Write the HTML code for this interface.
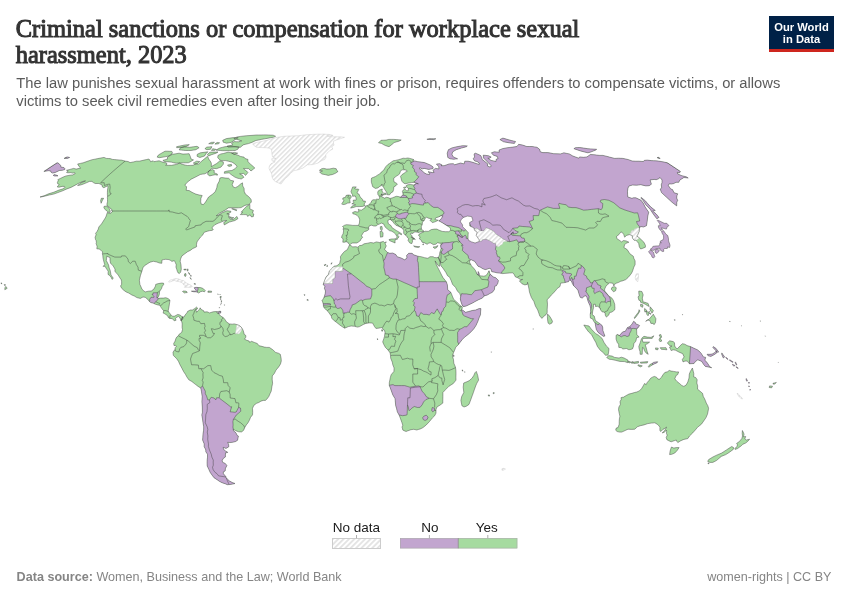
<!DOCTYPE html>
<html><head><meta charset="utf-8"><title>Criminal sanctions or compensation for workplace sexual harassment, 2023</title>
<style>
html,body{margin:0;padding:0;background:#fff;}
body{width:850px;height:600px;position:relative;overflow:hidden;}
svg text{font-family:"Liberation Sans", Arial, sans-serif;} svg text.ser{font-family:"Liberation Serif", "Times New Roman", serif;}
</style></head><body>
<svg width="850" height="600" viewBox="0 0 850 600" style="position:absolute;left:0;top:0">
<defs>
<pattern id="hatch" patternUnits="userSpaceOnUse" width="3.3" height="3.3" patternTransform="rotate(45)">
<rect width="3.3" height="3.3" fill="#fff"/><rect x="0" y="0" width="1.4" height="3.3" fill="#e0e0e0"/></pattern>
<clipPath id="land"><path d="M66.5,170.3L70.1,169.4L73.6,168.4L76.2,169.1L80.7,168.0L79.1,166.6L78.1,164.8L77.6,164.0L80.4,163.4L83.2,162.8L88.2,161.0L92.1,159.7L94.9,159.2L97.7,158.6L100.9,158.0L104.0,157.4L105.2,157.9L106.3,158.4L108.3,158.5L110.2,158.6L112.4,159.4L114.6,159.6L116.8,159.8L119.1,160.0L121.4,160.1L123.3,160.6L125.1,161.1L128.1,161.5L130.1,162.6L133.5,161.9L136.3,161.2L139.3,161.2L144.0,160.1L146.4,159.6L148.9,159.0L149.7,159.9L150.6,161.7L153.2,160.8L154.0,161.7L156.5,161.2L159.1,160.8L161.5,161.7L164.0,162.6L166.3,162.8L167.0,164.1L165.6,165.3L168.6,165.3L171.6,165.3L174.2,164.8L176.7,164.4L179.7,163.0L180.8,163.7L182.4,164.3L184.0,164.8L185.7,165.2L187.4,165.5L190.2,165.4L193.0,165.3L196.1,163.7L198.1,164.4L201.3,161.5L204.5,158.8L207.6,156.2L208.4,158.2L209.3,159.9L210.9,162.1L211.4,163.7L211.3,166.6L216.7,163.5L219.9,160.8L221.6,161.4L223.3,161.9L223.4,164.1L221.0,167.1L216.4,168.7L214.1,168.4L211.9,168.2L208.5,171.7L204.9,173.8L202.6,174.1L200.3,174.5L196.0,176.8L191.2,179.2L187.2,182.3L184.8,185.2L186.6,186.7L186.2,190.3L189.2,190.6L192.0,192.3L193.9,193.2L195.8,194.1L199.2,195.0L202.2,195.5L200.9,198.3L200.7,201.8L201.2,204.1L203.4,204.6L205.5,202.1L208.6,197.0L212.4,194.3L215.2,191.8L216.8,187.7L217.3,184.7L219.3,181.1L219.9,178.0L221.8,177.5L225.2,178.0L228.7,178.3L230.8,180.4L233.7,180.9L232.2,184.7L233.5,187.2L235.3,187.7L237.8,186.4L240.6,184.0L242.5,182.8L242.7,185.9L244.1,188.4L244.2,191.3L245.4,194.1L247.9,196.0L249.8,197.8L251.2,199.8L251.3,202.3L248.4,204.6L244.9,205.4L241.1,207.6L238.5,207.8L236.0,207.9L232.0,207.6L228.3,207.9L225.5,209.9L222.2,211.7L219.4,213.3L216.2,215.8L218.6,215.1L222.1,212.8L226.9,210.7L230.8,211.2L230.8,212.2L228.6,213.5L226.8,213.8L229.2,214.0L228.6,216.6L229.2,217.9L230.2,219.2L233.3,219.5L236.9,216.4L237.9,218.7L235.0,220.5L232.2,221.3L229.3,222.1L224.3,224.9L223.7,222.6L226.7,220.5L224.1,220.8L221.9,221.8L218.5,223.1L214.9,224.7L212.6,227.0L211.9,228.0L213.3,229.6L212.0,230.4L209.8,230.6L207.5,231.2L204.4,232.2L203.7,233.0L202.9,234.8L200.5,237.1L199.8,238.0L198.3,240.1L197.0,241.9L196.5,244.3L196.6,246.7L194.7,247.7L192.8,248.5L190.3,250.4L187.6,251.7L184.8,253.8L181.9,255.9L180.5,259.1L180.2,261.4L181.0,264.9L181.3,269.3L180.6,272.2L179.3,273.6L178.2,273.0L177.4,271.5L176.8,269.6L175.9,267.0L176.3,264.9L175.4,262.7L174.3,260.6L171.9,261.4L170.9,260.6L169.0,259.6L165.7,259.3L163.6,259.6L161.9,260.1L161.8,263.3L159.4,263.0L156.8,262.0L153.3,261.3L150.0,262.2L147.9,263.5L144.5,265.7L142.9,267.8L141.8,271.5L140.4,275.7L139.4,280.2L139.9,284.4L141.3,287.5L141.9,289.1L143.6,290.7L145.2,291.9L148.3,291.2L151.3,291.0L153.9,289.1L155.5,286.0L155.7,284.4L158.3,283.6L161.3,283.1L163.4,283.1L163.9,284.1L162.2,286.5L161.5,288.6L160.3,290.4L159.5,291.8L159.4,293.9L158.7,296.2L157.4,297.8L158.9,298.4L160.6,298.1L163.3,298.1L165.9,297.7L168.1,298.6L170.0,300.2L169.6,302.8L169.0,306.8L168.2,310.7L168.8,312.1L170.6,314.4L172.3,316.2L174.2,316.3L175.8,315.5L177.7,314.4L180.0,315.0L181.6,316.3L182.6,316.8L181.1,320.8L180.1,318.4L178.6,316.3L176.7,317.3L175.4,318.7L176.1,320.2L174.2,320.8L172.4,318.7L169.6,318.4L168.1,317.3L167.9,316.0L165.7,314.4L164.6,313.7L163.2,313.1L163.6,310.7L161.9,308.6L160.3,306.3L159.7,305.2L157.6,304.9L155.4,304.2L153.1,303.1L150.9,302.6L149.4,301.5L147.8,299.4L145.2,297.3L143.0,297.0L140.3,298.4L136.9,297.6L134.3,296.0L131.7,294.9L128.8,293.1L126.2,292.0L123.7,290.2L121.7,288.3L120.5,286.0L121.6,284.4L121.6,281.7L121.3,279.9L120.0,278.0L118.2,275.1L116.8,273.3L114.9,271.5L115.0,269.1L113.3,266.2L112.1,264.6L110.5,263.3L110.0,260.1L110.0,257.5L107.8,256.7L106.9,255.9L106.6,258.3L106.3,260.6L107.6,263.0L108.6,265.1L109.2,268.0L110.2,270.4L111.0,274.9L111.7,275.9L113.3,278.3L112.0,279.4L111.4,277.8L109.6,275.4L108.0,274.4L108.2,271.2L106.7,269.1L105.4,267.0L105.0,266.2L103.1,266.4L104.7,264.6L104.0,262.2L103.4,259.8L102.9,257.2L102.9,255.9L102.4,253.8L102.6,251.9L101.3,250.6L100.9,250.1L99.1,249.0L96.8,248.8L97.1,246.4L96.1,243.5L96.4,242.3L96.1,240.6L95.5,239.6L95.1,237.2L96.1,234.8L95.6,233.3L96.9,231.7L98.3,229.1L98.8,227.0L101.5,223.9L104.0,220.0L105.3,217.9L106.2,216.1L107.3,212.5L109.3,213.3L110.5,213.5L112.5,211.5L111.6,211.0L112.0,209.7L110.4,208.4L109.3,207.1L107.2,205.9L106.9,204.1L107.5,201.8L107.5,199.5L107.4,197.5L107.5,196.3L107.4,194.5L107.4,192.3L107.5,190.1L107.9,187.7L107.9,185.7L103.8,187.7L102.4,186.9L102.1,185.0L100.4,184.2L98.9,183.5L95.2,183.5L93.4,182.6L91.9,181.4L89.5,181.4L86.9,182.6L83.5,184.0L80.6,185.0L77.6,185.5L81.1,182.8L85.5,180.9L83.1,181.4L79.6,182.8L75.2,185.2L71.0,187.4L66.9,188.9L62.7,190.8L57.3,192.8L53.7,194.1L49.2,195.0L45.4,196.0L41.0,197.0L40.0,197.0L44.8,195.5L48.6,193.8L53.6,192.3L58.9,190.1L62.3,189.1L65.1,187.4L64.3,186.4L62.1,186.4L59.1,187.2L57.2,186.9L59.2,184.5L57.7,183.8L57.4,182.3L58.3,180.6L57.8,179.7L60.6,178.3L63.8,176.8L66.1,175.9L70.0,175.2L72.9,174.9L75.2,173.5L74.8,172.8L72.2,173.1L71.0,172.6L67.9,172.8L66.5,172.4L68.2,171.0ZM182.6,316.8L183.9,317.1L185.1,315.0L186.9,312.9L187.7,311.3L188.9,310.7L190.3,310.0L192.4,310.0L195.0,308.4L196.5,307.1L197.6,308.1L197.1,309.2L195.6,309.7L196.3,311.0L196.6,312.3L197.6,311.0L199.6,309.2L200.2,307.8L201.0,309.4L203.7,310.7L204.1,312.1L207.1,311.8L209.6,312.9L213.1,311.8L215.9,311.5L217.8,311.8L216.6,312.3L218.4,313.4L220.6,316.0L223.3,317.6L225.1,319.7L226.4,321.8L228.2,323.1L229.4,323.9L232.2,324.2L234.3,323.9L236.6,324.5L238.9,325.3L241.2,327.1L242.3,328.7L243.2,330.5L244.3,334.5L245.7,335.3L245.9,337.1L244.5,339.2L246.8,340.3L249.2,341.1L249.6,342.4L251.5,341.3L254.3,342.4L257.3,343.5L259.0,345.8L260.9,346.1L264.4,347.1L266.7,347.4L269.3,347.4L272.5,349.5L275.6,352.4L278.4,353.2L280.3,354.3L281.1,358.2L281.3,360.9L280.5,364.0L278.7,366.9L276.0,370.1L274.3,373.5L272.3,375.9L272.2,379.3L272.6,383.3L271.9,386.7L271.2,391.2L270.2,393.3L268.8,396.5L266.9,399.1L265.4,400.4L263.2,400.4L260.9,401.2L258.8,402.5L256.6,403.3L253.8,405.4L252.5,408.3L252.7,412.3L252.5,414.9L250.6,417.3L249.4,420.2L248.0,422.8L246.3,424.9L244.6,427.8L243.7,430.2L241.6,431.9L238.7,431.8L235.6,430.7L233.3,429.2L233.4,430.7L236.0,432.9L237.2,435.5L238.4,436.0L237.6,440.2L235.7,441.5L232.6,442.3L229.9,442.6L227.7,442.3L228.7,444.7L228.8,446.8L226.0,448.4L223.2,447.3L223.5,449.1L225.6,451.2L227.5,452.0L227.6,452.5L225.6,452.8L225.4,454.9L225.4,457.0L223.2,458.5L222.1,460.8L222.8,462.4L225.2,463.4L226.9,465.5L225.4,468.6L225.2,470.9L223.3,471.9L223.4,473.7L226.2,477.0L226.1,477.7L227.5,479.2L229.5,481.0L232.3,482.5L235.0,483.5L232.9,484.0L230.2,484.5L227.4,484.7L225.0,483.7L222.0,482.7L219.7,481.5L217.1,479.7L214.0,477.7L212.5,475.7L210.2,472.4L208.7,469.1L207.2,466.0L207.1,463.4L207.1,461.4L207.2,459.8L207.5,457.2L207.5,454.3L205.8,451.7L205.8,449.9L204.1,446.5L204.2,443.9L202.6,440.0L202.8,437.3L203.0,433.9L203.6,430.2L203.7,426.8L203.0,422.8L202.5,418.9L201.8,414.9L202.4,412.3L202.3,407.0L201.9,401.7L202.2,396.5L201.4,391.2L200.8,388.0L198.1,386.4L195.1,384.1L191.7,381.4L188.8,379.8L186.7,376.7L185.6,374.6L183.5,371.4L181.9,368.2L180.0,364.8L178.5,361.4L176.7,358.7L174.8,356.9L173.3,355.3L173.0,352.2L175.0,349.3L175.2,347.7L176.3,346.4L175.6,345.3L174.0,345.6L173.7,343.5L175.1,341.1L175.8,338.7L176.7,337.1L178.1,336.1L178.9,334.5L181.7,332.4L182.5,329.5L182.1,327.4L182.2,323.9L181.8,321.8L181.1,320.8ZM110.2,212.5L107.8,212.0L106.7,211.0L105.1,209.4L103.9,207.9L104.0,206.4L106.4,206.1L108.5,207.4L109.5,208.9L110.1,210.7ZM101.1,203.3L100.6,200.8L101.3,198.3L103.6,198.3L102.2,200.8ZM240.3,214.6L243.5,214.6L246.7,214.6L247.6,216.4L250.1,214.8L251.4,216.9L253.3,216.6L253.8,214.0L252.5,213.0L253.4,210.5L249.8,208.9L249.9,205.9L249.8,204.3L246.6,206.4L244.2,208.7L241.2,212.2L242.7,212.2ZM231.7,208.7L234.0,209.7L236.4,210.7L236.9,209.9L233.7,208.7ZM229.2,216.6L231.8,217.4L233.8,217.7L232.5,218.7L230.0,217.9ZM208.7,171.0L212.3,169.6L214.3,170.5L214.1,172.8L215.7,173.4L217.3,174.0L217.4,175.2L215.1,174.7L212.4,175.3L209.8,175.9L208.5,175.2L207.5,174.0ZM254.8,168.0L253.3,166.6L251.5,165.0L250.2,163.9L248.9,162.8L247.8,161.2L248.0,159.5L246.6,159.0L245.1,158.6L244.0,157.1L242.2,156.8L240.4,156.4L238.0,155.2L235.6,154.5L233.2,153.9L231.7,152.8L229.9,152.5L228.2,152.2L225.8,152.8L223.4,153.5L221.0,153.9L218.0,155.4L217.7,157.5L218.7,158.8L219.9,159.9L221.0,160.6L223.3,160.6L225.6,160.6L228.4,161.2L230.2,161.7L232.0,162.1L234.4,163.7L236.1,165.0L236.9,166.6L235.1,168.7L231.9,170.5L229.5,170.7L227.2,171.0L224.5,171.7L224.3,173.3L226.7,173.1L229.1,172.8L231.0,174.5L232.8,175.7L234.8,177.1L237.8,178.3L239.5,178.6L241.2,179.0L243.9,177.3L242.5,175.4L241.0,174.6L239.6,173.8L241.6,173.7L243.7,173.5L245.6,175.4L247.9,172.6L246.6,171.0L244.6,169.8L243.6,168.4L246.2,168.6L248.7,168.7L251.0,171.0L253.4,169.1ZM227.5,165.0L231.4,164.4L231.6,165.9L228.7,166.4ZM237.7,153.2L236.1,152.8L234.4,152.4L231.5,153.0L233.0,153.7L234.5,154.3ZM275.6,136.3L274.4,135.7L273.1,135.2L270.7,135.1L268.3,135.0L265.9,134.9L263.4,134.9L261.0,135.0L258.5,135.0L256.1,135.0L253.0,135.3L250.0,135.5L246.9,135.7L243.9,136.0L240.5,136.4L237.1,136.9L233.8,138.4L235.3,138.9L236.8,139.4L238.5,139.9L240.1,140.4L241.7,140.9L238.4,141.8L236.3,141.7L234.2,141.6L231.6,143.2L232.1,144.1L232.7,145.1L229.9,145.6L227.1,146.1L228.3,147.1L231.0,147.0L233.6,146.9L236.2,146.9L238.3,147.1L240.4,147.3L243.2,144.9L245.8,144.2L248.5,143.6L251.9,142.4L255.9,140.5L258.7,140.0L261.3,139.4L264.8,138.8L268.2,138.2L270.8,137.7L273.3,137.3ZM238.2,137.7L235.8,137.7L233.4,137.6L229.9,138.1L226.4,138.6L222.7,140.3L223.2,142.2L224.9,142.7L226.5,143.2L228.9,142.8L231.2,142.4L235.4,139.4ZM239.1,147.1L237.1,146.8L235.1,146.5L232.1,146.4L229.1,146.3L227.0,146.5L224.9,146.7L222.2,147.4L219.6,148.1L215.9,150.1L218.1,150.3L220.2,150.5L222.4,150.7L224.8,150.7L227.1,150.7L229.5,150.7L232.3,150.6L235.2,150.5L238.0,149.1ZM218.0,152.0L215.3,152.1L212.6,152.1L209.9,152.2L207.3,154.5L208.7,156.0L211.5,154.7L216.1,153.2ZM207.9,151.8L204.2,152.3L200.4,152.8L197.3,154.3L197.0,156.2L198.4,156.9L199.9,157.5L204.6,156.0L205.8,153.9ZM193.5,159.9L191.0,159.0L190.3,156.4L189.7,155.1L189.1,153.7L186.1,153.9L183.0,154.1L181.1,153.7L179.1,153.2L175.7,153.8L172.3,154.3L167.7,156.9L167.3,158.2L167.7,159.0L162.9,160.4L164.3,161.5L166.6,161.7L168.9,161.9L171.2,162.1L173.6,162.7L176.1,163.2L179.7,163.0L183.3,162.8L185.8,162.8L188.4,162.8L191.4,161.2ZM199.7,161.5L196.5,161.2L193.3,163.0L194.9,164.1L197.5,163.5ZM171.8,151.4L169.6,151.3L167.3,151.2L165.0,151.2L158.5,154.9L157.1,157.1L159.3,157.7L163.3,157.1L166.0,156.6L168.7,156.0L172.0,153.9L172.4,152.2ZM199.1,147.7L198.1,147.0L197.0,146.3L193.3,146.8L189.6,147.3L186.9,147.0L184.3,146.7L180.3,147.9L179.2,149.9L181.3,150.1L183.4,150.3L185.5,150.5L188.3,150.5L191.0,150.5L193.5,150.1L195.9,149.7ZM210.5,149.3L211.9,146.7L209.3,146.9L206.8,147.1L204.9,148.7L206.9,149.7ZM215.9,149.3L214.3,149.0L212.7,148.7L211.5,150.5L214.9,150.3ZM189.3,144.7L187.3,144.8L185.2,144.9L180.9,145.8L176.6,146.7L176.7,147.7L179.3,147.5L181.9,147.3L185.8,146.7ZM214.4,142.2L211.2,142.4L208.7,143.7L210.8,143.8L212.9,143.9ZM219.6,142.8L217.1,142.4L214.9,144.1L218.2,143.9ZM182.5,291.5L183.4,291.0L185.5,291.1L187.0,291.8L187.2,292.6L185.8,292.6L184.8,293.1L183.5,292.3ZM208.0,291.0L211.6,291.2L211.5,292.3L207.9,292.3ZM183.8,269.3L186.3,269.2L186.0,269.9L184.0,269.9ZM187.7,268.8L188.2,269.9L187.6,271.2L187.1,270.1ZM184.9,273.6L186.0,273.8L186.0,275.9L185.0,276.5L184.3,275.1ZM188.5,272.5L189.5,273.3L189.6,274.6L188.8,273.6ZM190.1,277.5L191.1,278.8L191.2,279.4L190.6,278.8ZM190.7,274.9L191.2,276.2L190.9,276.5ZM193.9,283.8L195.4,284.4L195.3,283.6ZM54.3,174.5L55.7,174.9L57.1,175.4L58.0,175.9L54.8,176.1L53.2,175.4ZM4.8,289.7L7.2,288.3L5.8,286.4L4.9,287.8ZM4.2,284.5L5.7,284.9L4.6,285.6ZM1.0,282.8L2.1,283.6L1.2,283.7ZM-2.1,281.2L-0.9,281.3L-1.8,282.0ZM220.0,296.6L221.3,296.5L221.1,297.6L220.0,297.7ZM221.0,300.6L221.8,300.9L221.4,301.8ZM220.5,298.6L220.9,298.6L220.7,299.7ZM221.2,302.6L221.5,302.8L221.2,303.6ZM224.3,304.7L224.7,304.9L224.5,305.3ZM220.6,304.5L220.8,304.7L220.7,305.1ZM219.2,307.5L219.6,307.6L219.4,308.1ZM219.8,294.5L220.3,294.5L220.0,294.9ZM217.7,293.9L218.3,294.1L218.0,294.5ZM191.4,291.2L193.8,291.0L195.1,291.2L196.3,290.4L195.3,289.4L194.1,287.8L196.0,287.3L198.0,287.5L200.1,287.5L202.1,288.1L203.6,288.9L205.3,290.7L204.5,291.8L202.5,291.2L200.3,291.8L198.8,293.1L197.5,292.3L196.0,291.8L193.9,291.8ZM218.7,311.3L220.8,311.3L220.7,313.1L218.6,313.3ZM349.2,245.3L350.6,245.1L352.3,246.9L355.8,246.7L357.8,247.2L359.5,245.6L361.9,245.3L364.1,243.8L367.6,243.2L370.7,242.5L373.7,243.0L376.3,241.9L379.6,242.5L383.3,241.4L384.6,242.5L386.3,241.9L385.1,243.8L386.3,245.9L384.6,249.3L386.2,251.1L387.6,252.5L389.8,253.3L392.7,253.0L395.9,254.6L397.1,256.7L401.2,258.0L404.6,259.8L407.0,258.0L406.6,255.4L408.7,253.3L412.0,253.3L413.7,254.8L417.8,256.2L421.1,256.7L424.6,257.7L427.9,258.3L430.0,256.7L433.2,256.7L434.1,257.5L436.8,257.7L438.3,257.2L440.3,262.0L439.7,264.6L439.4,266.4L437.7,265.1L435.1,260.9L436.3,264.6L437.9,267.8L439.7,271.2L441.6,275.1L443.1,277.8L446.3,281.7L447.4,284.9L447.7,289.7L450.8,292.3L452.4,296.2L453.7,299.4L456.8,302.0L460.2,305.5L462.3,307.1L462.0,309.2L461.3,309.4L462.9,310.2L465.5,312.3L468.8,311.5L472.2,310.5L475.7,310.0L479.1,308.6L480.9,308.6L480.6,311.8L480.5,314.7L479.2,317.6L477.9,321.3L476.1,325.3L473.9,328.7L471.1,331.8L468.1,334.5L464.7,337.1L462.3,339.5L460.0,342.4L458.1,345.0L455.8,347.1L454.6,350.3L453.4,352.9L452.4,356.1L453.5,359.5L453.8,363.2L455.4,366.9L455.9,370.1L456.0,373.5L455.9,377.2L456.0,380.1L453.3,383.5L449.0,386.2L445.9,389.3L442.9,392.5L442.9,396.5L442.8,399.9L442.8,403.1L439.9,405.2L436.9,407.0L436.0,409.6L436.0,413.1L434.7,415.7L432.5,417.8L429.5,421.5L426.3,424.9L423.0,427.6L420.4,428.9L418.6,429.4L416.8,430.0L413.8,429.3L410.9,429.7L407.3,431.0L406.1,431.5L404.0,430.7L402.7,430.0L402.7,429.2L402.0,427.1L402.8,425.2L401.8,422.3L400.6,418.9L399.2,415.2L397.3,411.8L396.5,408.3L395.7,405.7L395.2,400.4L395.0,398.6L392.8,394.9L391.0,389.9L389.3,385.4L389.3,382.7L390.3,377.7L391.1,374.8L393.9,371.4L394.1,368.0L392.8,364.8L392.3,362.2L390.7,358.2L390.5,355.6L390.1,352.9L388.0,350.0L385.4,347.4L383.8,344.5L382.7,341.9L383.8,338.7L384.5,336.3L385.0,332.4L384.5,330.3L383.1,329.2L381.9,327.6L378.4,328.2L375.9,328.4L374.5,326.6L372.6,323.1L369.1,322.9L365.9,323.4L363.3,324.5L359.6,326.6L357.5,327.1L354.5,326.3L351.2,326.0L348.4,326.6L344.7,328.2L342.4,326.8L339.8,325.0L336.6,322.4L333.6,320.2L331.7,318.1L331.3,316.0L329.7,313.9L328.1,311.5L326.3,310.0L324.4,308.1L323.5,306.8L323.3,304.2L322.5,301.5L321.8,301.0L323.2,298.9L324.2,297.0L325.2,293.6L325.5,291.0L324.4,288.3L324.9,286.5L323.3,284.6L323.6,283.1L324.6,280.4L326.0,277.0L328.4,274.4L329.4,270.9L332.4,268.0L334.0,266.2L337.0,265.7L339.7,263.5L340.2,260.9L340.7,259.3L340.4,256.7L342.2,254.0L344.5,251.4L347.2,249.8L348.6,246.9ZM476.3,371.4L477.7,375.4L478.6,380.1L476.8,383.3L475.7,385.9L474.5,389.2L473.4,392.5L472.2,395.8L471.0,399.1L469.0,404.4L466.4,406.2L464.0,407.0L461.9,405.7L460.9,400.4L461.7,396.5L463.8,392.5L463.2,387.2L463.7,383.0L467.0,381.7L469.3,380.6L472.2,378.0L473.8,375.4L475.0,372.7ZM381.7,329.7L382.9,330.0L382.4,331.3L381.7,331.1ZM377.3,338.7L378.0,339.0L377.5,339.8ZM462.4,369.8L462.9,371.1L462.2,370.9ZM493.3,392.5L494.4,392.8L493.8,393.8L493.2,393.6ZM488.3,394.9L489.6,395.1L489.3,396.2L488.4,395.9ZM453.3,354.8L454.0,355.6L454.0,356.6L453.5,356.4ZM331.2,264.3L332.1,262.7L331.0,263.5ZM326.6,265.9L327.5,265.4L327.5,266.4L326.8,266.4ZM324.2,264.9L326.0,264.3L324.8,265.9ZM306.8,299.9L308.0,299.4L308.2,300.5ZM304.0,294.7L304.9,294.7L304.6,295.5ZM349.9,244.8L348.4,243.5L348.2,242.5L346.1,241.7L344.7,242.2L342.8,242.2L343.1,238.8L341.6,237.7L341.9,235.9L343.1,233.8L343.6,230.9L343.2,229.3L343.5,227.5L342.5,226.5L344.7,225.2L346.4,224.7L349.5,224.9L352.7,225.4L355.8,225.4L358.4,225.4L359.4,223.1L359.7,219.7L359.1,217.9L357.8,216.1L357.0,215.3L355.0,214.3L352.9,213.8L352.6,212.5L355.0,211.5L357.1,212.0L358.9,211.7L358.3,209.2L359.7,209.9L361.8,210.2L362.6,209.2L364.8,208.1L365.4,206.1L367.2,205.6L368.8,204.8L370.1,203.6L371.3,202.1L371.7,200.8L373.0,199.8L375.6,199.8L376.9,199.0L378.5,199.5L379.2,198.5L379.6,197.3L378.9,195.8L377.9,194.5L377.7,192.1L378.6,190.6L381.0,189.4L382.3,189.1L381.9,191.1L383.1,192.3L381.9,193.8L381.0,195.8L381.7,196.8L383.5,197.5L384.1,198.3L386.6,197.3L388.8,197.8L390.0,198.5L392.5,197.8L394.4,197.0L396.3,196.3L398.4,196.5L400.5,197.3L401.5,196.0L403.1,195.0L402.9,193.3L402.4,191.3L403.3,189.9L404.9,189.1L406.7,190.8L408.2,190.8L408.4,188.6L407.5,187.7L406.4,186.4L406.2,185.5L408.0,184.7L410.5,184.5L413.6,185.0L414.6,184.5L416.1,183.5L418.4,183.8L416.0,183.0L414.0,182.3L411.3,182.6L408.6,183.0L405.0,183.8L403.3,182.8L401.8,181.1L401.1,178.3L400.5,176.4L402.1,174.5L404.1,173.3L405.7,171.9L407.1,171.4L406.7,170.3L404.6,169.8L402.5,169.8L401.2,170.3L400.1,171.9L400.0,173.3L398.6,174.7L396.5,176.1L395.1,177.1L393.8,178.0L393.7,180.2L394.2,182.1L396.1,183.0L397.4,184.0L395.9,185.7L393.8,186.9L393.6,189.6L392.9,191.8L391.0,192.8L389.7,194.8L387.4,194.8L387.0,193.1L386.3,191.8L384.8,189.6L383.5,187.2L382.2,185.7L381.9,184.0L381.3,185.7L380.0,186.2L377.9,187.9L375.4,188.4L372.7,186.7L372.1,184.7L371.4,182.3L371.3,179.9L371.6,178.0L373.6,177.3L375.7,176.4L377.4,175.2L379.7,174.0L381.3,172.1L383.8,170.1L384.8,168.2L386.0,166.4L387.8,164.6L389.4,163.5L390.9,162.4L393.2,160.8L395.6,160.4L398.5,159.7L400.9,159.0L403.2,158.2L405.2,158.4L407.9,158.0L409.8,158.4L412.0,159.0L413.9,159.7L412.5,160.8L415.1,161.0L417.8,161.7L421.3,162.1L424.5,162.6L427.8,163.9L430.8,165.3L433.2,167.1L432.9,168.7L430.7,169.1L428.7,169.4L426.4,168.9L424.1,168.4L422.4,168.9L420.0,167.8L419.0,168.4L422.0,170.5L424.1,172.8L426.5,174.0L429.4,174.5L429.8,173.1L428.0,171.7L430.2,172.1L432.4,172.6L434.1,172.4L432.9,170.3L435.4,168.4L439.0,168.9L438.7,166.6L436.4,164.1L439.7,163.7L442.1,165.0L441.1,165.7L444.1,165.7L446.2,165.0L449.1,163.9L451.2,163.8L453.3,163.7L454.7,164.8L456.9,164.1L458.8,163.6L460.6,163.0L464.1,163.9L464.8,161.2L468.1,161.2L472.0,162.1L476.2,163.5L479.2,164.4L479.3,163.0L477.0,161.5L474.7,161.0L473.2,158.8L474.6,156.9L474.0,154.1L475.3,153.2L478.2,154.3L480.7,155.6L481.8,157.7L482.0,159.3L485.5,162.1L487.8,163.9L487.4,165.9L490.0,167.1L491.4,165.9L489.1,163.7L486.3,160.8L483.7,158.2L483.2,155.2L485.8,155.4L488.6,155.8L491.2,157.1L489.5,158.2L487.8,158.2L491.1,160.4L493.5,160.9L496.0,161.5L496.1,159.3L498.1,158.6L497.2,156.4L493.4,155.2L491.4,152.8L492.8,152.3L494.2,151.8L496.7,152.0L499.3,152.2L499.0,150.1L500.7,149.4L502.3,148.7L504.9,148.2L507.4,147.7L510.2,147.4L512.9,147.1L514.9,146.8L516.8,146.5L517.8,145.4L518.7,144.3L522.7,145.1L526.8,146.5L529.5,146.5L532.1,146.5L534.6,146.9L537.0,147.3L539.6,149.3L540.3,151.8L542.8,152.6L545.2,152.6L547.6,152.6L550.7,153.1L553.7,153.7L557.1,153.8L560.4,153.9L562.2,153.4L563.9,152.8L566.6,153.4L569.3,153.9L572.8,156.0L578.8,158.2L579.6,156.9L583.5,157.3L585.3,157.1L587.0,156.9L588.1,156.1L589.1,155.4L590.3,154.5L593.9,154.7L596.8,155.1L599.7,155.4L602.9,155.4L606.2,156.2L609.5,157.1L614.7,158.4L616.6,158.3L618.5,158.2L620.7,158.3L622.9,158.4L625.8,159.0L628.7,159.7L632.1,161.0L635.5,161.2L638.8,161.2L641.1,161.4L643.4,161.5L644.2,160.4L647.2,160.1L651.3,160.6L653.5,160.7L655.8,160.8L658.4,161.1L661.1,161.5L664.2,162.1L667.4,162.8L673.9,167.1L680.4,171.4L679.7,172.8L677.3,172.4L677.8,174.0L681.9,175.7L686.2,176.8L688.2,178.0L683.9,177.5L682.6,178.4L681.2,179.2L679.7,180.2L678.8,182.3L676.0,182.3L673.8,183.5L671.6,184.0L669.1,183.8L668.3,185.5L670.7,188.9L672.5,189.6L674.1,192.8L677.7,193.8L676.9,195.8L676.7,198.0L677.7,200.6L676.8,202.1L676.7,205.9L671.8,202.1L666.3,197.0L661.5,192.6L660.2,189.1L661.7,187.9L661.3,184.7L662.0,182.6L662.0,179.9L660.0,177.5L658.7,178.7L656.2,179.7L654.1,179.4L652.1,179.7L650.1,179.9L651.4,184.2L649.2,185.7L645.8,185.9L640.7,184.7L638.6,185.0L636.5,185.2L632.5,185.0L630.9,185.5L629.2,185.9L628.0,187.9L627.5,191.3L627.6,194.5L627.8,197.0L631.9,198.3L633.4,197.8L635.9,197.8L641.1,200.3L643.3,203.3L645.2,207.1L648.7,212.2L647.8,216.1L647.2,221.3L646.5,225.7L643.5,227.0L640.6,226.5L639.4,228.3L639.2,231.7L638.4,233.0L637.9,234.8L636.7,235.9L639.5,238.0L643.9,242.2L645.4,245.3L645.4,247.2L643.0,248.2L640.7,249.0L639.3,246.9L638.7,243.5L637.4,241.7L635.9,240.3L634.2,240.3L632.4,238.0L632.3,235.6L629.4,234.6L626.6,235.4L624.6,237.2L623.8,234.6L622.0,232.2L620.8,232.0L618.9,234.6L616.5,236.4L616.8,238.5L620.3,240.9L621.6,241.9L623.4,240.6L626.1,240.9L628.9,242.2L626.1,243.2L624.6,244.8L623.9,247.5L627.2,249.6L629.9,253.8L633.3,256.2L633.8,258.3L635.1,260.9L635.1,264.6L633.8,267.2L632.7,270.7L631.7,273.0L630.3,274.9L628.1,277.5L625.8,279.6L622.4,280.9L620.8,281.2L618.8,282.3L616.6,283.1L614.3,284.4L613.9,286.0L613.0,283.3L609.7,282.8L607.7,284.4L606.0,286.2L604.6,289.1L604.7,291.0L606.9,293.6L608.8,296.0L611.6,297.8L613.3,300.2L614.7,304.2L614.9,308.1L614.6,310.0L611.8,312.1L609.5,312.6L609.0,314.7L606.4,317.1L605.3,315.2L605.1,312.9L603.9,312.1L602.0,311.8L600.7,310.0L599.6,307.6L597.6,306.3L595.5,306.5L595.3,304.2L593.5,304.4L593.6,307.6L592.7,311.0L592.3,314.7L594.2,316.0L595.4,320.5L596.9,321.6L599.5,323.4L601.7,325.0L602.7,327.1L602.9,330.5L603.9,333.2L604.9,336.1L603.3,336.3L600.9,334.5L598.1,332.4L596.3,329.5L595.7,326.6L595.1,322.9L593.9,321.6L592.6,318.9L590.4,318.1L590.2,314.7L590.7,311.5L590.6,308.1L589.9,305.5L588.1,301.5L587.0,297.6L586.0,295.7L584.3,296.2L582.2,298.1L580.2,297.3L578.9,293.6L578.0,290.4L576.3,288.3L573.6,285.7L572.4,283.6L571.3,280.9L569.4,279.9L568.5,281.7L566.9,282.0L565.2,282.5L563.4,282.8L560.7,283.1L560.0,286.5L557.1,288.6L554.9,291.5L551.4,294.9L548.8,298.1L547.1,299.7L547.5,304.2L547.2,309.4L547.2,312.6L545.5,315.2L543.7,316.3L542.1,318.4L539.9,316.3L538.8,313.1L537.7,310.0L535.4,306.0L533.9,301.5L531.4,297.6L529.5,292.3L529.0,289.1L528.0,284.4L527.5,282.3L527.3,284.4L524.9,284.9L522.0,283.8L519.4,280.9L522.6,279.4L520.4,279.6L517.9,277.8L515.5,277.0L514.1,274.4L512.8,272.8L509.4,273.0L506.0,273.3L502.7,273.6L501.5,273.3L496.9,272.8L494.6,272.2L491.8,271.7L490.8,268.8L489.1,268.3L487.4,269.1L485.2,269.6L482.9,268.8L480.4,267.2L478.0,266.2L476.2,263.5L474.5,261.2L472.9,260.6L471.4,259.8L469.5,260.6L469.7,262.5L471.5,265.9L473.8,268.3L475.6,270.7L476.9,273.8L477.9,274.9L478.2,271.5L479.1,273.3L479.3,275.7L481.4,275.9L483.7,276.2L485.9,275.7L487.9,273.0L489.0,270.7L489.7,273.3L491.0,275.1L493.5,277.0L495.8,277.8L498.4,280.4L497.9,283.1L496.4,285.7L494.8,286.2L494.4,289.7L492.4,292.3L489.7,293.6L487.5,294.9L484.1,296.0L482.4,298.1L478.6,299.7L475.2,301.5L473.0,302.8L469.6,304.4L466.2,306.0L463.9,306.5L462.8,306.3L462.0,304.7L460.9,301.5L460.3,298.9L460.7,296.2L459.8,293.6L457.4,291.0L455.6,287.5L452.6,284.4L451.2,280.7L449.7,277.3L447.5,275.7L445.9,272.5L444.7,270.7L442.1,267.0L440.9,265.9L440.4,262.2L440.3,262.0L438.3,257.2L438.9,256.4L439.6,254.3L439.8,252.5L440.5,250.4L441.1,248.5L440.6,245.9L440.9,244.8L441.1,243.2L439.6,243.2L437.6,242.7L435.6,244.3L433.2,244.6L430.8,243.0L428.9,243.0L427.1,244.3L424.3,242.7L422.0,242.2L421.2,240.1L419.3,238.8L420.2,236.9L418.6,235.6L419.2,234.0L421.1,233.0L424.1,231.7L425.1,231.2L428.3,231.4L431.3,229.6L434.4,229.1L436.9,229.1L438.8,230.1L442.2,231.4L445.5,231.7L448.7,231.7L450.6,230.4L450.3,227.8L446.5,225.4L442.9,223.1L440.6,221.8L438.7,220.8L440.2,220.0L441.4,218.4L443.0,215.8L440.9,215.8L438.6,216.9L435.7,217.9L434.9,219.5L438.2,220.2L436.3,221.3L434.3,222.1L432.3,222.6L429.9,220.2L431.9,218.9L428.5,218.2L426.3,217.1L424.9,218.9L424.1,220.8L422.4,221.8L422.3,224.4L421.3,226.5L421.4,229.1L422.9,230.4L424.0,231.2L422.0,231.7L419.9,232.0L418.2,232.7L417.8,232.2L415.6,232.0L413.5,232.2L413.0,233.5L411.0,233.0L410.7,234.3L412.4,236.4L410.9,237.2L414.1,239.0L412.0,239.8L412.6,241.1L411.9,243.5L411.0,243.5L409.5,242.7L407.9,240.1L408.9,238.8L407.5,237.7L406.8,236.1L405.2,235.1L403.7,233.3L403.7,230.4L403.0,229.1L401.4,227.8L399.1,226.5L395.9,225.2L394.0,223.3L392.4,221.0L390.7,220.0L390.2,219.2L388.2,220.0L387.9,221.5L388.4,223.9L390.6,225.2L392.2,227.8L394.5,229.3L396.2,230.4L399.2,232.2L401.9,234.0L401.3,234.8L398.8,233.3L397.6,235.1L399.1,236.9L397.8,238.2L396.9,239.8L396.1,238.8L397.1,236.9L395.6,234.0L393.8,232.5L391.8,231.2L389.4,230.6L387.2,228.8L385.4,227.3L384.3,225.4L383.6,223.9L381.4,223.1L379.4,224.1L377.9,224.4L376.3,226.0L373.8,226.0L371.6,225.2L369.5,225.7L368.5,227.8L369.0,229.3L366.9,230.9L364.3,231.7L363.2,232.7L362.2,234.6L361.5,235.6L362.6,237.5L361.1,238.8L360.4,240.6L358.2,242.2L356.7,243.0L352.6,243.0L351.2,243.5ZM57.0,162.8L58.3,163.0L59.1,164.1L60.1,164.9L61.0,165.7L60.8,167.1L62.3,167.3L63.9,167.5L65.1,168.9L64.7,169.6L62.3,170.3L59.4,170.5L55.4,172.4L52.3,173.1L50.9,172.1L50.8,171.0L48.5,170.7L43.9,171.4L50.4,167.1ZM350.6,208.1L353.7,207.4L356.1,206.6L359.1,206.6L362.8,206.4L365.0,205.4L364.0,204.1L365.5,202.1L365.3,201.1L363.0,201.1L362.6,199.5L361.6,198.3L360.0,196.8L359.1,194.3L357.3,193.3L357.2,192.6L358.7,189.6L358.4,189.1L356.1,189.1L354.6,188.6L356.3,186.9L353.7,186.9L352.7,186.9L351.7,189.4L351.0,191.6L351.6,193.3L352.5,194.5L352.6,196.3L355.3,196.0L355.9,197.5L356.3,199.3L356.0,200.1L353.3,200.1L353.2,201.3L354.0,202.6L351.8,203.8L354.2,204.3L355.6,204.8L353.7,205.4L352.1,206.1ZM350.2,202.8L349.7,199.8L350.4,198.3L351.4,197.0L350.5,195.3L348.0,195.0L346.0,195.5L345.5,197.3L342.8,198.0L342.9,199.5L343.8,200.6L342.4,203.1L341.6,203.8L343.0,204.6L345.2,204.3L347.6,203.1ZM321.9,174.0L319.6,172.1L322.5,171.0L319.4,170.3L321.7,168.7L323.8,168.4L326.8,169.1L329.8,168.9L333.4,168.2L336.2,168.7L336.7,170.3L338.1,171.4L335.8,173.1L332.6,174.5L330.5,174.9L328.3,175.4L325.4,174.7ZM378.5,142.8L381.0,140.3L383.6,140.2L386.1,140.1L388.8,139.4L391.3,139.4L393.8,139.4L396.3,139.6L398.8,139.8L401.2,140.0L398.8,141.3L396.4,141.9L394.0,142.6L392.9,143.7L391.0,145.2L389.0,146.7L385.7,145.7L383.3,144.5L381.6,143.4ZM389.0,239.6L391.4,239.0L393.7,238.9L395.9,238.8L395.0,240.9L395.1,243.0L393.3,242.2L389.5,240.6ZM380.1,231.4L381.8,231.2L383.1,233.0L382.9,236.7L380.5,237.2L380.2,234.3ZM380.3,226.7L382.0,226.5L382.3,229.1L381.8,230.6L380.4,229.3ZM413.6,245.9L415.9,246.4L419.8,246.7L418.2,247.5L414.8,246.9ZM433.1,247.2L434.8,248.5L436.8,247.5L437.9,245.6L435.6,246.7L433.5,246.9ZM383.5,194.8L386.5,194.3L385.7,193.1L384.0,193.3L383.2,194.1ZM381.1,194.5L383.1,194.3L382.8,195.8L381.6,195.5ZM411.8,237.2L414.0,238.0L415.3,239.6L413.2,238.5ZM422.7,244.3L423.7,243.8L423.2,245.1ZM403.4,187.7L405.1,186.9L406.2,187.4L404.2,188.4ZM447.8,157.5L447.2,153.2L448.4,149.7L450.2,148.8L451.9,147.9L453.9,147.4L455.9,146.9L458.1,146.5L460.4,146.1L462.6,145.7L465.0,145.8L467.3,145.9L466.4,146.7L463.9,147.4L461.4,148.1L458.8,148.9L456.3,149.7L454.6,150.7L452.8,151.8L451.9,154.3L453.3,156.9L457.6,158.8L455.6,159.0L453.7,159.3L450.1,158.8ZM426.9,139.3L429.4,138.7L431.5,138.7L433.7,138.8L435.9,138.8L433.6,139.6L431.3,139.5L429.1,139.4ZM499.9,139.6L501.4,138.8L502.9,138.1L507.0,139.3L511.3,140.5L515.5,141.5L515.0,142.4L514.4,143.4L512.3,143.2L510.2,143.0L506.9,142.4L503.6,141.8ZM573.9,148.7L575.4,147.7L577.6,147.6L579.7,147.5L583.8,148.1L587.9,148.7L590.8,148.9L593.8,149.1L596.7,149.3L595.3,150.3L593.6,150.9L591.9,151.6L590.2,152.2L587.9,152.8L584.2,151.9L580.4,150.9ZM66.0,157.3L67.5,156.9L69.7,157.5L67.4,158.4L64.1,158.4ZM657.1,157.7L658.3,157.3L660.2,158.4L658.9,158.4ZM656.8,218.7L659.0,217.4L656.0,213.8L652.6,211.0L655.3,210.5L650.9,207.1L647.9,203.8L645.3,200.8L641.4,197.5L640.8,197.8L643.3,200.8L645.6,204.6L650.1,209.2L652.9,213.5L655.5,217.1ZM547.5,313.9L548.4,314.7L550.2,317.1L551.2,318.7L552.5,321.3L551.9,323.1L549.6,324.2L548.1,323.1L547.6,320.0L547.4,316.6ZM611.2,289.1L613.5,291.8L615.6,290.7L616.3,287.8L614.7,286.7L612.3,287.0ZM638.8,291.0L641.9,291.5L643.2,294.9L642.3,298.1L643.1,302.0L645.0,302.3L648.1,303.4L649.2,306.5L647.2,305.5L645.2,304.2L643.5,303.4L640.6,302.3L640.4,300.7L638.9,300.2L638.0,296.8L639.2,296.0L638.8,293.3ZM645.7,321.3L649.0,319.2L650.1,318.1L653.3,314.2L655.9,318.7L655.5,322.6L654.0,324.7L653.2,323.4L650.9,323.4L649.8,320.5L647.4,320.0ZM650.2,306.8L653.4,310.7L652.0,313.1L650.0,309.7ZM644.6,308.4L647.1,310.7L644.9,312.1L644.5,310.2ZM646.0,311.3L648.4,312.1L649.5,311.3L648.1,315.8L647.0,314.7ZM634.1,317.9L636.4,314.7L638.5,312.1L639.1,309.7L640.0,311.0L638.2,313.9L635.9,317.1L634.8,318.4ZM640.6,304.2L643.0,304.9L642.6,307.3L640.6,306.3ZM649.2,313.1L650.9,313.4L650.5,314.4ZM616.1,335.3L617.4,334.5L619.6,335.5L621.1,333.4L623.0,331.8L625.3,331.3L627.4,327.6L629.7,326.6L630.8,325.5L632.1,323.9L633.6,321.3L635.3,322.4L635.8,323.9L637.7,324.5L639.6,325.5L637.9,327.9L636.6,328.9L636.7,331.7L636.8,334.5L639.1,337.1L636.6,337.7L635.9,341.1L633.8,343.7L633.5,346.4L632.4,349.0L628.9,349.8L626.4,348.5L622.9,349.0L621.3,347.7L618.8,347.4L618.6,344.2L617.2,342.4L616.1,339.2ZM583.8,325.0L586.4,325.5L589.0,326.0L591.4,329.2L595.8,333.7L598.6,335.3L602.1,338.4L604.0,342.4L605.6,344.8L606.7,346.4L609.0,348.5L608.5,352.9L608.0,355.1L605.4,355.3L603.6,352.9L600.3,350.3L597.4,346.4L595.8,342.4L593.5,338.4L591.8,335.0L588.5,331.8L586.0,328.4ZM606.7,357.7L608.6,355.6L612.1,356.1L614.6,357.4L619.0,358.0L621.3,357.2L624.1,358.0L627.9,360.1L627.7,362.7L624.5,361.6L619.9,361.4L615.3,360.3L611.9,359.5L609.4,359.3L607.3,358.0ZM628.3,361.1L630.8,361.9L630.0,363.0L628.0,362.2ZM631.5,361.9L633.1,361.6L632.8,363.2L631.4,363.2ZM633.3,362.2L635.9,361.8L638.5,361.4L638.4,363.0L633.7,363.5ZM640.3,362.2L644.0,361.9L647.8,361.6L647.2,363.0L643.9,363.1L640.7,363.2ZM638.2,364.8L642.3,365.9L640.4,366.9L637.9,365.6ZM648.3,366.7L649.8,364.6L652.0,363.5L653.5,362.4L655.9,361.9L657.7,361.8L657.0,362.8L654.6,363.8L652.6,364.8L650.6,366.1L648.7,367.2ZM639.2,349.0L638.8,346.6L640.3,342.4L641.3,339.2L642.2,337.7L644.0,336.3L647.5,337.1L651.0,337.4L653.8,335.8L652.2,338.4L648.7,338.4L644.0,338.4L642.2,339.2L642.9,342.1L645.7,342.1L649.6,342.1L647.5,343.7L645.2,344.8L646.2,347.7L647.2,351.6L648.2,354.3L646.0,352.9L644.5,350.8L643.7,348.2L642.5,347.4L642.4,350.8L642.2,354.3L640.1,354.3L640.0,351.6ZM659.1,335.0L660.8,334.5L661.7,337.1L660.4,338.4L661.8,341.1L659.9,341.6L659.0,339.8L660.3,337.1ZM660.2,347.7L663.1,347.7L666.0,347.7L666.9,349.8L664.1,349.5L661.3,349.3ZM655.5,347.9L658.3,348.2L657.8,349.8L655.7,349.5ZM667.3,342.9L669.7,340.8L673.2,341.6L674.5,342.7L674.7,346.1L676.5,348.5L677.6,348.5L680.1,345.8L682.4,343.7L684.8,344.2L687.1,345.6L690.5,346.6L693.9,348.2L697.4,349.8L699.6,351.6L701.3,353.5L703.4,356.9L705.7,357.4L704.8,360.3L706.3,361.6L707.9,363.8L709.9,366.9L711.7,367.7L709.4,367.2L705.3,366.4L703.7,364.6L701.7,361.4L697.8,359.8L695.4,361.6L694.0,363.5L689.4,363.8L687.3,361.1L685.0,361.1L683.0,361.9L682.3,359.5L684.1,356.9L682.7,353.7L678.6,351.9L675.7,350.3L673.2,349.8L671.2,350.6L669.5,347.1L671.9,346.1L669.6,345.6L668.0,343.7ZM707.1,354.3L709.9,354.3L712.2,354.0L714.6,352.7L716.4,350.8L716.7,352.9L714.5,354.5L710.9,356.4L708.1,355.8ZM713.3,346.6L716.1,348.5L718.6,351.9L717.7,352.4L715.1,349.8L712.8,347.4ZM721.8,352.9L724.6,356.9L723.3,358.0L721.7,354.3ZM769.6,385.9L772.5,386.2L771.7,387.8L769.2,387.5ZM773.0,383.3L776.4,382.5L774.6,384.1L773.0,384.1ZM620.9,397.8L622.2,397.3L623.3,397.3L625.9,395.7L628.9,394.1L632.0,393.3L634.5,392.5L636.8,392.0L639.3,390.9L641.6,388.6L643.2,385.9L644.5,383.5L646.2,384.6L647.2,382.5L648.9,380.6L650.6,378.3L652.4,377.2L654.3,376.4L656.5,377.2L657.9,379.1L659.7,379.1L661.3,377.5L663.1,374.6L664.8,372.5L667.6,371.7L669.2,370.4L671.2,371.1L673.5,371.4L676.4,371.9L678.7,371.9L677.7,374.6L676.2,375.4L674.8,378.8L676.9,381.4L679.3,383.3L681.7,385.4L683.8,386.4L686.1,385.1L687.8,382.0L689.0,378.0L689.3,374.0L690.4,371.4L692.4,368.0L693.2,371.1L693.8,373.5L693.7,376.9L695.7,377.5L697.2,379.8L696.8,383.0L697.7,385.9L697.5,389.1L700.0,391.2L702.5,393.3L703.3,396.5L704.6,398.8L705.3,400.4L706.3,403.1L707.8,405.7L708.6,408.3L708.1,411.2L707.5,414.1L706.0,417.6L703.7,421.0L701.4,424.2L697.5,427.3L695.3,430.0L692.7,432.9L689.5,436.0L687.8,438.6L683.9,439.4L680.8,440.7L677.8,442.6L676.8,441.3L676.3,440.0L674.3,440.7L671.1,441.8L668.7,440.7L666.9,439.7L666.2,437.6L667.2,435.2L666.5,433.6L666.6,431.5L666.4,430.0L664.4,432.3L662.2,432.9L664.7,430.5L666.6,427.1L664.7,428.4L662.9,429.4L660.9,431.5L659.9,430.7L659.9,427.3L659.1,426.0L657.5,424.4L654.8,422.8L651.4,423.1L647.8,423.6L644.0,424.9L640.4,425.7L637.3,426.8L634.8,429.2L631.6,429.4L628.0,429.2L625.2,430.5L621.7,432.1L619.6,432.1L617.1,431.5L615.7,430.2L616.2,428.1L618.0,427.6L619.2,424.2L619.2,421.5L619.4,418.9L619.9,416.2L619.2,413.1L618.5,409.6L618.9,407.0L620.4,404.4L620.0,401.7L621.4,399.1ZM671.5,447.0L673.8,448.1L676.3,447.6L679.1,447.6L677.2,450.4L674.8,453.0L671.8,454.3L669.6,454.6L670.1,451.2L670.9,448.4ZM742.4,430.5L743.2,432.1L744.1,434.2L743.4,436.8L745.7,436.5L744.8,438.9L746.3,440.0L749.6,439.2L747.6,441.5L745.6,443.1L742.9,444.2L741.4,445.7L737.5,448.6L735.2,449.4L734.7,448.6L737.1,446.5L737.4,444.7L736.6,443.4L739.4,441.5L741.9,438.4L742.5,436.0L742.2,433.4ZM731.8,446.5L733.6,447.6L733.3,449.4L729.1,452.5L725.8,454.6L721.3,456.4L719.2,458.2L716.4,460.6L712.8,462.4L710.1,462.4L707.7,461.4L708.7,459.5L712.9,457.0L716.1,455.4L721.7,453.0L726.5,449.9L730.0,447.6ZM708.0,462.9L709.3,463.2L708.2,463.9ZM674.4,319.7L675.1,319.7L674.8,320.5ZM682.5,314.4L682.8,314.8L682.3,314.8ZM729.6,321.4L730.2,321.6L729.9,322.0ZM741.3,325.7L741.6,325.9L741.2,325.9ZM760.0,320.9L760.5,321.0L760.2,321.3ZM765.1,335.9L765.4,336.2L765.0,336.2ZM778.2,362.2L778.4,362.4L778.0,362.4ZM-36.4,375.4L-34.0,376.2L-35.5,376.4ZM-38.2,395.4L-37.7,395.5L-37.8,395.9ZM491.1,351.8L491.5,351.9L491.3,352.3ZM533.1,328.7L533.3,328.8L533.2,329.3ZM464.4,371.8L465.1,371.9L464.8,372.3Z"/></clipPath>
</defs>
<g stroke-linejoin="round">
<path d="M66.5,170.3L70.1,169.4L73.6,168.4L76.2,169.1L80.7,168.0L79.1,166.6L78.1,164.8L77.6,164.0L80.4,163.4L83.2,162.8L88.2,161.0L92.1,159.7L94.9,159.2L97.7,158.6L100.9,158.0L104.0,157.4L105.2,157.9L106.3,158.4L108.3,158.5L110.2,158.6L112.4,159.4L114.6,159.6L116.8,159.8L119.1,160.0L121.4,160.1L123.3,160.6L125.1,161.1L128.1,161.5L130.1,162.6L133.5,161.9L136.3,161.2L139.3,161.2L144.0,160.1L146.4,159.6L148.9,159.0L149.7,159.9L150.6,161.7L153.2,160.8L154.0,161.7L156.5,161.2L159.1,160.8L161.5,161.7L164.0,162.6L166.3,162.8L167.0,164.1L165.6,165.3L168.6,165.3L171.6,165.3L174.2,164.8L176.7,164.4L179.7,163.0L180.8,163.7L182.4,164.3L184.0,164.8L185.7,165.2L187.4,165.5L190.2,165.4L193.0,165.3L196.1,163.7L198.1,164.4L201.3,161.5L204.5,158.8L207.6,156.2L208.4,158.2L209.3,159.9L210.9,162.1L211.4,163.7L211.3,166.6L216.7,163.5L219.9,160.8L221.6,161.4L223.3,161.9L223.4,164.1L221.0,167.1L216.4,168.7L214.1,168.4L211.9,168.2L208.5,171.7L204.9,173.8L202.6,174.1L200.3,174.5L196.0,176.8L191.2,179.2L187.2,182.3L184.8,185.2L186.6,186.7L186.2,190.3L189.2,190.6L192.0,192.3L193.9,193.2L195.8,194.1L199.2,195.0L202.2,195.5L200.9,198.3L200.7,201.8L201.2,204.1L203.4,204.6L205.5,202.1L208.6,197.0L212.4,194.3L215.2,191.8L216.8,187.7L217.3,184.7L219.3,181.1L219.9,178.0L221.8,177.5L225.2,178.0L228.7,178.3L230.8,180.4L233.7,180.9L232.2,184.7L233.5,187.2L235.3,187.7L237.8,186.4L240.6,184.0L242.5,182.8L242.7,185.9L244.1,188.4L244.2,191.3L245.4,194.1L247.9,196.0L249.8,197.8L251.2,199.8L251.3,202.3L248.4,204.6L244.9,205.4L241.1,207.6L238.5,207.8L236.0,207.9L232.0,207.6L228.3,207.9L225.5,209.9L222.2,211.7L219.4,213.3L216.2,215.8L218.6,215.1L222.1,212.8L226.9,210.7L230.8,211.2L230.8,212.2L228.6,213.5L226.8,213.8L229.2,214.0L228.6,216.6L229.2,217.9L230.2,219.2L233.3,219.5L236.9,216.4L237.9,218.7L235.0,220.5L232.2,221.3L229.3,222.1L224.3,224.9L223.7,222.6L226.7,220.5L224.1,220.8L221.9,221.8L218.5,223.1L214.9,224.7L212.6,227.0L211.9,228.0L213.3,229.6L212.0,230.4L209.8,230.6L207.5,231.2L204.4,232.2L203.7,233.0L202.9,234.8L200.5,237.1L199.8,238.0L198.3,240.1L197.0,241.9L196.5,244.3L196.6,246.7L194.7,247.7L192.8,248.5L190.3,250.4L187.6,251.7L184.8,253.8L181.9,255.9L180.5,259.1L180.2,261.4L181.0,264.9L181.3,269.3L180.6,272.2L179.3,273.6L178.2,273.0L177.4,271.5L176.8,269.6L175.9,267.0L176.3,264.9L175.4,262.7L174.3,260.6L171.9,261.4L170.9,260.6L169.0,259.6L165.7,259.3L163.6,259.6L161.9,260.1L161.8,263.3L159.4,263.0L156.8,262.0L153.3,261.3L150.0,262.2L147.9,263.5L144.5,265.7L142.9,267.8L141.8,271.5L140.4,275.7L139.4,280.2L139.9,284.4L141.3,287.5L141.9,289.1L143.6,290.7L145.2,291.9L148.3,291.2L151.3,291.0L153.9,289.1L155.5,286.0L155.7,284.4L158.3,283.6L161.3,283.1L163.4,283.1L163.9,284.1L162.2,286.5L161.5,288.6L160.3,290.4L159.5,291.8L159.4,293.9L158.7,296.2L157.4,297.8L158.9,298.4L160.6,298.1L163.3,298.1L165.9,297.7L168.1,298.6L170.0,300.2L169.6,302.8L169.0,306.8L168.2,310.7L168.8,312.1L170.6,314.4L172.3,316.2L174.2,316.3L175.8,315.5L177.7,314.4L180.0,315.0L181.6,316.3L182.6,316.8L181.1,320.8L180.1,318.4L178.6,316.3L176.7,317.3L175.4,318.7L176.1,320.2L174.2,320.8L172.4,318.7L169.6,318.4L168.1,317.3L167.9,316.0L165.7,314.4L164.6,313.7L163.2,313.1L163.6,310.7L161.9,308.6L160.3,306.3L159.7,305.2L157.6,304.9L155.4,304.2L153.1,303.1L150.9,302.6L149.4,301.5L147.8,299.4L145.2,297.3L143.0,297.0L140.3,298.4L136.9,297.6L134.3,296.0L131.7,294.9L128.8,293.1L126.2,292.0L123.7,290.2L121.7,288.3L120.5,286.0L121.6,284.4L121.6,281.7L121.3,279.9L120.0,278.0L118.2,275.1L116.8,273.3L114.9,271.5L115.0,269.1L113.3,266.2L112.1,264.6L110.5,263.3L110.0,260.1L110.0,257.5L107.8,256.7L106.9,255.9L106.6,258.3L106.3,260.6L107.6,263.0L108.6,265.1L109.2,268.0L110.2,270.4L111.0,274.9L111.7,275.9L113.3,278.3L112.0,279.4L111.4,277.8L109.6,275.4L108.0,274.4L108.2,271.2L106.7,269.1L105.4,267.0L105.0,266.2L103.1,266.4L104.7,264.6L104.0,262.2L103.4,259.8L102.9,257.2L102.9,255.9L102.4,253.8L102.6,251.9L101.3,250.6L100.9,250.1L99.1,249.0L96.8,248.8L97.1,246.4L96.1,243.5L96.4,242.3L96.1,240.6L95.5,239.6L95.1,237.2L96.1,234.8L95.6,233.3L96.9,231.7L98.3,229.1L98.8,227.0L101.5,223.9L104.0,220.0L105.3,217.9L106.2,216.1L107.3,212.5L109.3,213.3L110.5,213.5L112.5,211.5L111.6,211.0L112.0,209.7L110.4,208.4L109.3,207.1L107.2,205.9L106.9,204.1L107.5,201.8L107.5,199.5L107.4,197.5L107.5,196.3L107.4,194.5L107.4,192.3L107.5,190.1L107.9,187.7L107.9,185.7L103.8,187.7L102.4,186.9L102.1,185.0L100.4,184.2L98.9,183.5L95.2,183.5L93.4,182.6L91.9,181.4L89.5,181.4L86.9,182.6L83.5,184.0L80.6,185.0L77.6,185.5L81.1,182.8L85.5,180.9L83.1,181.4L79.6,182.8L75.2,185.2L71.0,187.4L66.9,188.9L62.7,190.8L57.3,192.8L53.7,194.1L49.2,195.0L45.4,196.0L41.0,197.0L40.0,197.0L44.8,195.5L48.6,193.8L53.6,192.3L58.9,190.1L62.3,189.1L65.1,187.4L64.3,186.4L62.1,186.4L59.1,187.2L57.2,186.9L59.2,184.5L57.7,183.8L57.4,182.3L58.3,180.6L57.8,179.7L60.6,178.3L63.8,176.8L66.1,175.9L70.0,175.2L72.9,174.9L75.2,173.5L74.8,172.8L72.2,173.1L71.0,172.6L67.9,172.8L66.5,172.4L68.2,171.0ZM182.6,316.8L183.9,317.1L185.1,315.0L186.9,312.9L187.7,311.3L188.9,310.7L190.3,310.0L192.4,310.0L195.0,308.4L196.5,307.1L197.6,308.1L197.1,309.2L195.6,309.7L196.3,311.0L196.6,312.3L197.6,311.0L199.6,309.2L200.2,307.8L201.0,309.4L203.7,310.7L204.1,312.1L207.1,311.8L209.6,312.9L213.1,311.8L215.9,311.5L217.8,311.8L216.6,312.3L218.4,313.4L220.6,316.0L223.3,317.6L225.1,319.7L226.4,321.8L228.2,323.1L229.4,323.9L232.2,324.2L234.3,323.9L236.6,324.5L238.9,325.3L241.2,327.1L242.3,328.7L243.2,330.5L244.3,334.5L245.7,335.3L245.9,337.1L244.5,339.2L246.8,340.3L249.2,341.1L249.6,342.4L251.5,341.3L254.3,342.4L257.3,343.5L259.0,345.8L260.9,346.1L264.4,347.1L266.7,347.4L269.3,347.4L272.5,349.5L275.6,352.4L278.4,353.2L280.3,354.3L281.1,358.2L281.3,360.9L280.5,364.0L278.7,366.9L276.0,370.1L274.3,373.5L272.3,375.9L272.2,379.3L272.6,383.3L271.9,386.7L271.2,391.2L270.2,393.3L268.8,396.5L266.9,399.1L265.4,400.4L263.2,400.4L260.9,401.2L258.8,402.5L256.6,403.3L253.8,405.4L252.5,408.3L252.7,412.3L252.5,414.9L250.6,417.3L249.4,420.2L248.0,422.8L246.3,424.9L244.6,427.8L243.7,430.2L241.6,431.9L238.7,431.8L235.6,430.7L233.3,429.2L233.4,430.7L236.0,432.9L237.2,435.5L238.4,436.0L237.6,440.2L235.7,441.5L232.6,442.3L229.9,442.6L227.7,442.3L228.7,444.7L228.8,446.8L226.0,448.4L223.2,447.3L223.5,449.1L225.6,451.2L227.5,452.0L227.6,452.5L225.6,452.8L225.4,454.9L225.4,457.0L223.2,458.5L222.1,460.8L222.8,462.4L225.2,463.4L226.9,465.5L225.4,468.6L225.2,470.9L223.3,471.9L223.4,473.7L226.2,477.0L226.1,477.7L227.5,479.2L229.5,481.0L232.3,482.5L235.0,483.5L232.9,484.0L230.2,484.5L227.4,484.7L225.0,483.7L222.0,482.7L219.7,481.5L217.1,479.7L214.0,477.7L212.5,475.7L210.2,472.4L208.7,469.1L207.2,466.0L207.1,463.4L207.1,461.4L207.2,459.8L207.5,457.2L207.5,454.3L205.8,451.7L205.8,449.9L204.1,446.5L204.2,443.9L202.6,440.0L202.8,437.3L203.0,433.9L203.6,430.2L203.7,426.8L203.0,422.8L202.5,418.9L201.8,414.9L202.4,412.3L202.3,407.0L201.9,401.7L202.2,396.5L201.4,391.2L200.8,388.0L198.1,386.4L195.1,384.1L191.7,381.4L188.8,379.8L186.7,376.7L185.6,374.6L183.5,371.4L181.9,368.2L180.0,364.8L178.5,361.4L176.7,358.7L174.8,356.9L173.3,355.3L173.0,352.2L175.0,349.3L175.2,347.7L176.3,346.4L175.6,345.3L174.0,345.6L173.7,343.5L175.1,341.1L175.8,338.7L176.7,337.1L178.1,336.1L178.9,334.5L181.7,332.4L182.5,329.5L182.1,327.4L182.2,323.9L181.8,321.8L181.1,320.8ZM110.2,212.5L107.8,212.0L106.7,211.0L105.1,209.4L103.9,207.9L104.0,206.4L106.4,206.1L108.5,207.4L109.5,208.9L110.1,210.7ZM101.1,203.3L100.6,200.8L101.3,198.3L103.6,198.3L102.2,200.8ZM240.3,214.6L243.5,214.6L246.7,214.6L247.6,216.4L250.1,214.8L251.4,216.9L253.3,216.6L253.8,214.0L252.5,213.0L253.4,210.5L249.8,208.9L249.9,205.9L249.8,204.3L246.6,206.4L244.2,208.7L241.2,212.2L242.7,212.2ZM231.7,208.7L234.0,209.7L236.4,210.7L236.9,209.9L233.7,208.7ZM229.2,216.6L231.8,217.4L233.8,217.7L232.5,218.7L230.0,217.9ZM208.7,171.0L212.3,169.6L214.3,170.5L214.1,172.8L215.7,173.4L217.3,174.0L217.4,175.2L215.1,174.7L212.4,175.3L209.8,175.9L208.5,175.2L207.5,174.0ZM254.8,168.0L253.3,166.6L251.5,165.0L250.2,163.9L248.9,162.8L247.8,161.2L248.0,159.5L246.6,159.0L245.1,158.6L244.0,157.1L242.2,156.8L240.4,156.4L238.0,155.2L235.6,154.5L233.2,153.9L231.7,152.8L229.9,152.5L228.2,152.2L225.8,152.8L223.4,153.5L221.0,153.9L218.0,155.4L217.7,157.5L218.7,158.8L219.9,159.9L221.0,160.6L223.3,160.6L225.6,160.6L228.4,161.2L230.2,161.7L232.0,162.1L234.4,163.7L236.1,165.0L236.9,166.6L235.1,168.7L231.9,170.5L229.5,170.7L227.2,171.0L224.5,171.7L224.3,173.3L226.7,173.1L229.1,172.8L231.0,174.5L232.8,175.7L234.8,177.1L237.8,178.3L239.5,178.6L241.2,179.0L243.9,177.3L242.5,175.4L241.0,174.6L239.6,173.8L241.6,173.7L243.7,173.5L245.6,175.4L247.9,172.6L246.6,171.0L244.6,169.8L243.6,168.4L246.2,168.6L248.7,168.7L251.0,171.0L253.4,169.1ZM227.5,165.0L231.4,164.4L231.6,165.9L228.7,166.4ZM237.7,153.2L236.1,152.8L234.4,152.4L231.5,153.0L233.0,153.7L234.5,154.3ZM275.6,136.3L274.4,135.7L273.1,135.2L270.7,135.1L268.3,135.0L265.9,134.9L263.4,134.9L261.0,135.0L258.5,135.0L256.1,135.0L253.0,135.3L250.0,135.5L246.9,135.7L243.9,136.0L240.5,136.4L237.1,136.9L233.8,138.4L235.3,138.9L236.8,139.4L238.5,139.9L240.1,140.4L241.7,140.9L238.4,141.8L236.3,141.7L234.2,141.6L231.6,143.2L232.1,144.1L232.7,145.1L229.9,145.6L227.1,146.1L228.3,147.1L231.0,147.0L233.6,146.9L236.2,146.9L238.3,147.1L240.4,147.3L243.2,144.9L245.8,144.2L248.5,143.6L251.9,142.4L255.9,140.5L258.7,140.0L261.3,139.4L264.8,138.8L268.2,138.2L270.8,137.7L273.3,137.3ZM238.2,137.7L235.8,137.7L233.4,137.6L229.9,138.1L226.4,138.6L222.7,140.3L223.2,142.2L224.9,142.7L226.5,143.2L228.9,142.8L231.2,142.4L235.4,139.4ZM239.1,147.1L237.1,146.8L235.1,146.5L232.1,146.4L229.1,146.3L227.0,146.5L224.9,146.7L222.2,147.4L219.6,148.1L215.9,150.1L218.1,150.3L220.2,150.5L222.4,150.7L224.8,150.7L227.1,150.7L229.5,150.7L232.3,150.6L235.2,150.5L238.0,149.1ZM218.0,152.0L215.3,152.1L212.6,152.1L209.9,152.2L207.3,154.5L208.7,156.0L211.5,154.7L216.1,153.2ZM207.9,151.8L204.2,152.3L200.4,152.8L197.3,154.3L197.0,156.2L198.4,156.9L199.9,157.5L204.6,156.0L205.8,153.9ZM193.5,159.9L191.0,159.0L190.3,156.4L189.7,155.1L189.1,153.7L186.1,153.9L183.0,154.1L181.1,153.7L179.1,153.2L175.7,153.8L172.3,154.3L167.7,156.9L167.3,158.2L167.7,159.0L162.9,160.4L164.3,161.5L166.6,161.7L168.9,161.9L171.2,162.1L173.6,162.7L176.1,163.2L179.7,163.0L183.3,162.8L185.8,162.8L188.4,162.8L191.4,161.2ZM199.7,161.5L196.5,161.2L193.3,163.0L194.9,164.1L197.5,163.5ZM171.8,151.4L169.6,151.3L167.3,151.2L165.0,151.2L158.5,154.9L157.1,157.1L159.3,157.7L163.3,157.1L166.0,156.6L168.7,156.0L172.0,153.9L172.4,152.2ZM199.1,147.7L198.1,147.0L197.0,146.3L193.3,146.8L189.6,147.3L186.9,147.0L184.3,146.7L180.3,147.9L179.2,149.9L181.3,150.1L183.4,150.3L185.5,150.5L188.3,150.5L191.0,150.5L193.5,150.1L195.9,149.7ZM210.5,149.3L211.9,146.7L209.3,146.9L206.8,147.1L204.9,148.7L206.9,149.7ZM215.9,149.3L214.3,149.0L212.7,148.7L211.5,150.5L214.9,150.3ZM189.3,144.7L187.3,144.8L185.2,144.9L180.9,145.8L176.6,146.7L176.7,147.7L179.3,147.5L181.9,147.3L185.8,146.7ZM214.4,142.2L211.2,142.4L208.7,143.7L210.8,143.8L212.9,143.9ZM219.6,142.8L217.1,142.4L214.9,144.1L218.2,143.9ZM182.5,291.5L183.4,291.0L185.5,291.1L187.0,291.8L187.2,292.6L185.8,292.6L184.8,293.1L183.5,292.3ZM208.0,291.0L211.6,291.2L211.5,292.3L207.9,292.3ZM183.8,269.3L186.3,269.2L186.0,269.9L184.0,269.9ZM187.7,268.8L188.2,269.9L187.6,271.2L187.1,270.1ZM184.9,273.6L186.0,273.8L186.0,275.9L185.0,276.5L184.3,275.1ZM188.5,272.5L189.5,273.3L189.6,274.6L188.8,273.6ZM190.1,277.5L191.1,278.8L191.2,279.4L190.6,278.8ZM190.7,274.9L191.2,276.2L190.9,276.5ZM193.9,283.8L195.4,284.4L195.3,283.6ZM54.3,174.5L55.7,174.9L57.1,175.4L58.0,175.9L54.8,176.1L53.2,175.4ZM4.8,289.7L7.2,288.3L5.8,286.4L4.9,287.8ZM4.2,284.5L5.7,284.9L4.6,285.6ZM1.0,282.8L2.1,283.6L1.2,283.7ZM-2.1,281.2L-0.9,281.3L-1.8,282.0ZM220.0,296.6L221.3,296.5L221.1,297.6L220.0,297.7ZM221.0,300.6L221.8,300.9L221.4,301.8ZM220.5,298.6L220.9,298.6L220.7,299.7ZM221.2,302.6L221.5,302.8L221.2,303.6ZM224.3,304.7L224.7,304.9L224.5,305.3ZM220.6,304.5L220.8,304.7L220.7,305.1ZM219.2,307.5L219.6,307.6L219.4,308.1ZM219.8,294.5L220.3,294.5L220.0,294.9ZM217.7,293.9L218.3,294.1L218.0,294.5ZM191.4,291.2L193.8,291.0L195.1,291.2L196.3,290.4L195.3,289.4L194.1,287.8L196.0,287.3L198.0,287.5L200.1,287.5L202.1,288.1L203.6,288.9L205.3,290.7L204.5,291.8L202.5,291.2L200.3,291.8L198.8,293.1L197.5,292.3L196.0,291.8L193.9,291.8ZM218.7,311.3L220.8,311.3L220.7,313.1L218.6,313.3ZM349.2,245.3L350.6,245.1L352.3,246.9L355.8,246.7L357.8,247.2L359.5,245.6L361.9,245.3L364.1,243.8L367.6,243.2L370.7,242.5L373.7,243.0L376.3,241.9L379.6,242.5L383.3,241.4L384.6,242.5L386.3,241.9L385.1,243.8L386.3,245.9L384.6,249.3L386.2,251.1L387.6,252.5L389.8,253.3L392.7,253.0L395.9,254.6L397.1,256.7L401.2,258.0L404.6,259.8L407.0,258.0L406.6,255.4L408.7,253.3L412.0,253.3L413.7,254.8L417.8,256.2L421.1,256.7L424.6,257.7L427.9,258.3L430.0,256.7L433.2,256.7L434.1,257.5L436.8,257.7L438.3,257.2L440.3,262.0L439.7,264.6L439.4,266.4L437.7,265.1L435.1,260.9L436.3,264.6L437.9,267.8L439.7,271.2L441.6,275.1L443.1,277.8L446.3,281.7L447.4,284.9L447.7,289.7L450.8,292.3L452.4,296.2L453.7,299.4L456.8,302.0L460.2,305.5L462.3,307.1L462.0,309.2L461.3,309.4L462.9,310.2L465.5,312.3L468.8,311.5L472.2,310.5L475.7,310.0L479.1,308.6L480.9,308.6L480.6,311.8L480.5,314.7L479.2,317.6L477.9,321.3L476.1,325.3L473.9,328.7L471.1,331.8L468.1,334.5L464.7,337.1L462.3,339.5L460.0,342.4L458.1,345.0L455.8,347.1L454.6,350.3L453.4,352.9L452.4,356.1L453.5,359.5L453.8,363.2L455.4,366.9L455.9,370.1L456.0,373.5L455.9,377.2L456.0,380.1L453.3,383.5L449.0,386.2L445.9,389.3L442.9,392.5L442.9,396.5L442.8,399.9L442.8,403.1L439.9,405.2L436.9,407.0L436.0,409.6L436.0,413.1L434.7,415.7L432.5,417.8L429.5,421.5L426.3,424.9L423.0,427.6L420.4,428.9L418.6,429.4L416.8,430.0L413.8,429.3L410.9,429.7L407.3,431.0L406.1,431.5L404.0,430.7L402.7,430.0L402.7,429.2L402.0,427.1L402.8,425.2L401.8,422.3L400.6,418.9L399.2,415.2L397.3,411.8L396.5,408.3L395.7,405.7L395.2,400.4L395.0,398.6L392.8,394.9L391.0,389.9L389.3,385.4L389.3,382.7L390.3,377.7L391.1,374.8L393.9,371.4L394.1,368.0L392.8,364.8L392.3,362.2L390.7,358.2L390.5,355.6L390.1,352.9L388.0,350.0L385.4,347.4L383.8,344.5L382.7,341.9L383.8,338.7L384.5,336.3L385.0,332.4L384.5,330.3L383.1,329.2L381.9,327.6L378.4,328.2L375.9,328.4L374.5,326.6L372.6,323.1L369.1,322.9L365.9,323.4L363.3,324.5L359.6,326.6L357.5,327.1L354.5,326.3L351.2,326.0L348.4,326.6L344.7,328.2L342.4,326.8L339.8,325.0L336.6,322.4L333.6,320.2L331.7,318.1L331.3,316.0L329.7,313.9L328.1,311.5L326.3,310.0L324.4,308.1L323.5,306.8L323.3,304.2L322.5,301.5L321.8,301.0L323.2,298.9L324.2,297.0L325.2,293.6L325.5,291.0L324.4,288.3L324.9,286.5L323.3,284.6L323.6,283.1L324.6,280.4L326.0,277.0L328.4,274.4L329.4,270.9L332.4,268.0L334.0,266.2L337.0,265.7L339.7,263.5L340.2,260.9L340.7,259.3L340.4,256.7L342.2,254.0L344.5,251.4L347.2,249.8L348.6,246.9ZM476.3,371.4L477.7,375.4L478.6,380.1L476.8,383.3L475.7,385.9L474.5,389.2L473.4,392.5L472.2,395.8L471.0,399.1L469.0,404.4L466.4,406.2L464.0,407.0L461.9,405.7L460.9,400.4L461.7,396.5L463.8,392.5L463.2,387.2L463.7,383.0L467.0,381.7L469.3,380.6L472.2,378.0L473.8,375.4L475.0,372.7ZM381.7,329.7L382.9,330.0L382.4,331.3L381.7,331.1ZM377.3,338.7L378.0,339.0L377.5,339.8ZM462.4,369.8L462.9,371.1L462.2,370.9ZM493.3,392.5L494.4,392.8L493.8,393.8L493.2,393.6ZM488.3,394.9L489.6,395.1L489.3,396.2L488.4,395.9ZM453.3,354.8L454.0,355.6L454.0,356.6L453.5,356.4ZM331.2,264.3L332.1,262.7L331.0,263.5ZM326.6,265.9L327.5,265.4L327.5,266.4L326.8,266.4ZM324.2,264.9L326.0,264.3L324.8,265.9ZM306.8,299.9L308.0,299.4L308.2,300.5ZM304.0,294.7L304.9,294.7L304.6,295.5ZM349.9,244.8L348.4,243.5L348.2,242.5L346.1,241.7L344.7,242.2L342.8,242.2L343.1,238.8L341.6,237.7L341.9,235.9L343.1,233.8L343.6,230.9L343.2,229.3L343.5,227.5L342.5,226.5L344.7,225.2L346.4,224.7L349.5,224.9L352.7,225.4L355.8,225.4L358.4,225.4L359.4,223.1L359.7,219.7L359.1,217.9L357.8,216.1L357.0,215.3L355.0,214.3L352.9,213.8L352.6,212.5L355.0,211.5L357.1,212.0L358.9,211.7L358.3,209.2L359.7,209.9L361.8,210.2L362.6,209.2L364.8,208.1L365.4,206.1L367.2,205.6L368.8,204.8L370.1,203.6L371.3,202.1L371.7,200.8L373.0,199.8L375.6,199.8L376.9,199.0L378.5,199.5L379.2,198.5L379.6,197.3L378.9,195.8L377.9,194.5L377.7,192.1L378.6,190.6L381.0,189.4L382.3,189.1L381.9,191.1L383.1,192.3L381.9,193.8L381.0,195.8L381.7,196.8L383.5,197.5L384.1,198.3L386.6,197.3L388.8,197.8L390.0,198.5L392.5,197.8L394.4,197.0L396.3,196.3L398.4,196.5L400.5,197.3L401.5,196.0L403.1,195.0L402.9,193.3L402.4,191.3L403.3,189.9L404.9,189.1L406.7,190.8L408.2,190.8L408.4,188.6L407.5,187.7L406.4,186.4L406.2,185.5L408.0,184.7L410.5,184.5L413.6,185.0L414.6,184.5L416.1,183.5L418.4,183.8L416.0,183.0L414.0,182.3L411.3,182.6L408.6,183.0L405.0,183.8L403.3,182.8L401.8,181.1L401.1,178.3L400.5,176.4L402.1,174.5L404.1,173.3L405.7,171.9L407.1,171.4L406.7,170.3L404.6,169.8L402.5,169.8L401.2,170.3L400.1,171.9L400.0,173.3L398.6,174.7L396.5,176.1L395.1,177.1L393.8,178.0L393.7,180.2L394.2,182.1L396.1,183.0L397.4,184.0L395.9,185.7L393.8,186.9L393.6,189.6L392.9,191.8L391.0,192.8L389.7,194.8L387.4,194.8L387.0,193.1L386.3,191.8L384.8,189.6L383.5,187.2L382.2,185.7L381.9,184.0L381.3,185.7L380.0,186.2L377.9,187.9L375.4,188.4L372.7,186.7L372.1,184.7L371.4,182.3L371.3,179.9L371.6,178.0L373.6,177.3L375.7,176.4L377.4,175.2L379.7,174.0L381.3,172.1L383.8,170.1L384.8,168.2L386.0,166.4L387.8,164.6L389.4,163.5L390.9,162.4L393.2,160.8L395.6,160.4L398.5,159.7L400.9,159.0L403.2,158.2L405.2,158.4L407.9,158.0L409.8,158.4L412.0,159.0L413.9,159.7L412.5,160.8L415.1,161.0L417.8,161.7L421.3,162.1L424.5,162.6L427.8,163.9L430.8,165.3L433.2,167.1L432.9,168.7L430.7,169.1L428.7,169.4L426.4,168.9L424.1,168.4L422.4,168.9L420.0,167.8L419.0,168.4L422.0,170.5L424.1,172.8L426.5,174.0L429.4,174.5L429.8,173.1L428.0,171.7L430.2,172.1L432.4,172.6L434.1,172.4L432.9,170.3L435.4,168.4L439.0,168.9L438.7,166.6L436.4,164.1L439.7,163.7L442.1,165.0L441.1,165.7L444.1,165.7L446.2,165.0L449.1,163.9L451.2,163.8L453.3,163.7L454.7,164.8L456.9,164.1L458.8,163.6L460.6,163.0L464.1,163.9L464.8,161.2L468.1,161.2L472.0,162.1L476.2,163.5L479.2,164.4L479.3,163.0L477.0,161.5L474.7,161.0L473.2,158.8L474.6,156.9L474.0,154.1L475.3,153.2L478.2,154.3L480.7,155.6L481.8,157.7L482.0,159.3L485.5,162.1L487.8,163.9L487.4,165.9L490.0,167.1L491.4,165.9L489.1,163.7L486.3,160.8L483.7,158.2L483.2,155.2L485.8,155.4L488.6,155.8L491.2,157.1L489.5,158.2L487.8,158.2L491.1,160.4L493.5,160.9L496.0,161.5L496.1,159.3L498.1,158.6L497.2,156.4L493.4,155.2L491.4,152.8L492.8,152.3L494.2,151.8L496.7,152.0L499.3,152.2L499.0,150.1L500.7,149.4L502.3,148.7L504.9,148.2L507.4,147.7L510.2,147.4L512.9,147.1L514.9,146.8L516.8,146.5L517.8,145.4L518.7,144.3L522.7,145.1L526.8,146.5L529.5,146.5L532.1,146.5L534.6,146.9L537.0,147.3L539.6,149.3L540.3,151.8L542.8,152.6L545.2,152.6L547.6,152.6L550.7,153.1L553.7,153.7L557.1,153.8L560.4,153.9L562.2,153.4L563.9,152.8L566.6,153.4L569.3,153.9L572.8,156.0L578.8,158.2L579.6,156.9L583.5,157.3L585.3,157.1L587.0,156.9L588.1,156.1L589.1,155.4L590.3,154.5L593.9,154.7L596.8,155.1L599.7,155.4L602.9,155.4L606.2,156.2L609.5,157.1L614.7,158.4L616.6,158.3L618.5,158.2L620.7,158.3L622.9,158.4L625.8,159.0L628.7,159.7L632.1,161.0L635.5,161.2L638.8,161.2L641.1,161.4L643.4,161.5L644.2,160.4L647.2,160.1L651.3,160.6L653.5,160.7L655.8,160.8L658.4,161.1L661.1,161.5L664.2,162.1L667.4,162.8L673.9,167.1L680.4,171.4L679.7,172.8L677.3,172.4L677.8,174.0L681.9,175.7L686.2,176.8L688.2,178.0L683.9,177.5L682.6,178.4L681.2,179.2L679.7,180.2L678.8,182.3L676.0,182.3L673.8,183.5L671.6,184.0L669.1,183.8L668.3,185.5L670.7,188.9L672.5,189.6L674.1,192.8L677.7,193.8L676.9,195.8L676.7,198.0L677.7,200.6L676.8,202.1L676.7,205.9L671.8,202.1L666.3,197.0L661.5,192.6L660.2,189.1L661.7,187.9L661.3,184.7L662.0,182.6L662.0,179.9L660.0,177.5L658.7,178.7L656.2,179.7L654.1,179.4L652.1,179.7L650.1,179.9L651.4,184.2L649.2,185.7L645.8,185.9L640.7,184.7L638.6,185.0L636.5,185.2L632.5,185.0L630.9,185.5L629.2,185.9L628.0,187.9L627.5,191.3L627.6,194.5L627.8,197.0L631.9,198.3L633.4,197.8L635.9,197.8L641.1,200.3L643.3,203.3L645.2,207.1L648.7,212.2L647.8,216.1L647.2,221.3L646.5,225.7L643.5,227.0L640.6,226.5L639.4,228.3L639.2,231.7L638.4,233.0L637.9,234.8L636.7,235.9L639.5,238.0L643.9,242.2L645.4,245.3L645.4,247.2L643.0,248.2L640.7,249.0L639.3,246.9L638.7,243.5L637.4,241.7L635.9,240.3L634.2,240.3L632.4,238.0L632.3,235.6L629.4,234.6L626.6,235.4L624.6,237.2L623.8,234.6L622.0,232.2L620.8,232.0L618.9,234.6L616.5,236.4L616.8,238.5L620.3,240.9L621.6,241.9L623.4,240.6L626.1,240.9L628.9,242.2L626.1,243.2L624.6,244.8L623.9,247.5L627.2,249.6L629.9,253.8L633.3,256.2L633.8,258.3L635.1,260.9L635.1,264.6L633.8,267.2L632.7,270.7L631.7,273.0L630.3,274.9L628.1,277.5L625.8,279.6L622.4,280.9L620.8,281.2L618.8,282.3L616.6,283.1L614.3,284.4L613.9,286.0L613.0,283.3L609.7,282.8L607.7,284.4L606.0,286.2L604.6,289.1L604.7,291.0L606.9,293.6L608.8,296.0L611.6,297.8L613.3,300.2L614.7,304.2L614.9,308.1L614.6,310.0L611.8,312.1L609.5,312.6L609.0,314.7L606.4,317.1L605.3,315.2L605.1,312.9L603.9,312.1L602.0,311.8L600.7,310.0L599.6,307.6L597.6,306.3L595.5,306.5L595.3,304.2L593.5,304.4L593.6,307.6L592.7,311.0L592.3,314.7L594.2,316.0L595.4,320.5L596.9,321.6L599.5,323.4L601.7,325.0L602.7,327.1L602.9,330.5L603.9,333.2L604.9,336.1L603.3,336.3L600.9,334.5L598.1,332.4L596.3,329.5L595.7,326.6L595.1,322.9L593.9,321.6L592.6,318.9L590.4,318.1L590.2,314.7L590.7,311.5L590.6,308.1L589.9,305.5L588.1,301.5L587.0,297.6L586.0,295.7L584.3,296.2L582.2,298.1L580.2,297.3L578.9,293.6L578.0,290.4L576.3,288.3L573.6,285.7L572.4,283.6L571.3,280.9L569.4,279.9L568.5,281.7L566.9,282.0L565.2,282.5L563.4,282.8L560.7,283.1L560.0,286.5L557.1,288.6L554.9,291.5L551.4,294.9L548.8,298.1L547.1,299.7L547.5,304.2L547.2,309.4L547.2,312.6L545.5,315.2L543.7,316.3L542.1,318.4L539.9,316.3L538.8,313.1L537.7,310.0L535.4,306.0L533.9,301.5L531.4,297.6L529.5,292.3L529.0,289.1L528.0,284.4L527.5,282.3L527.3,284.4L524.9,284.9L522.0,283.8L519.4,280.9L522.6,279.4L520.4,279.6L517.9,277.8L515.5,277.0L514.1,274.4L512.8,272.8L509.4,273.0L506.0,273.3L502.7,273.6L501.5,273.3L496.9,272.8L494.6,272.2L491.8,271.7L490.8,268.8L489.1,268.3L487.4,269.1L485.2,269.6L482.9,268.8L480.4,267.2L478.0,266.2L476.2,263.5L474.5,261.2L472.9,260.6L471.4,259.8L469.5,260.6L469.7,262.5L471.5,265.9L473.8,268.3L475.6,270.7L476.9,273.8L477.9,274.9L478.2,271.5L479.1,273.3L479.3,275.7L481.4,275.9L483.7,276.2L485.9,275.7L487.9,273.0L489.0,270.7L489.7,273.3L491.0,275.1L493.5,277.0L495.8,277.8L498.4,280.4L497.9,283.1L496.4,285.7L494.8,286.2L494.4,289.7L492.4,292.3L489.7,293.6L487.5,294.9L484.1,296.0L482.4,298.1L478.6,299.7L475.2,301.5L473.0,302.8L469.6,304.4L466.2,306.0L463.9,306.5L462.8,306.3L462.0,304.7L460.9,301.5L460.3,298.9L460.7,296.2L459.8,293.6L457.4,291.0L455.6,287.5L452.6,284.4L451.2,280.7L449.7,277.3L447.5,275.7L445.9,272.5L444.7,270.7L442.1,267.0L440.9,265.9L440.4,262.2L440.3,262.0L438.3,257.2L438.9,256.4L439.6,254.3L439.8,252.5L440.5,250.4L441.1,248.5L440.6,245.9L440.9,244.8L441.1,243.2L439.6,243.2L437.6,242.7L435.6,244.3L433.2,244.6L430.8,243.0L428.9,243.0L427.1,244.3L424.3,242.7L422.0,242.2L421.2,240.1L419.3,238.8L420.2,236.9L418.6,235.6L419.2,234.0L421.1,233.0L424.1,231.7L425.1,231.2L428.3,231.4L431.3,229.6L434.4,229.1L436.9,229.1L438.8,230.1L442.2,231.4L445.5,231.7L448.7,231.7L450.6,230.4L450.3,227.8L446.5,225.4L442.9,223.1L440.6,221.8L438.7,220.8L440.2,220.0L441.4,218.4L443.0,215.8L440.9,215.8L438.6,216.9L435.7,217.9L434.9,219.5L438.2,220.2L436.3,221.3L434.3,222.1L432.3,222.6L429.9,220.2L431.9,218.9L428.5,218.2L426.3,217.1L424.9,218.9L424.1,220.8L422.4,221.8L422.3,224.4L421.3,226.5L421.4,229.1L422.9,230.4L424.0,231.2L422.0,231.7L419.9,232.0L418.2,232.7L417.8,232.2L415.6,232.0L413.5,232.2L413.0,233.5L411.0,233.0L410.7,234.3L412.4,236.4L410.9,237.2L414.1,239.0L412.0,239.8L412.6,241.1L411.9,243.5L411.0,243.5L409.5,242.7L407.9,240.1L408.9,238.8L407.5,237.7L406.8,236.1L405.2,235.1L403.7,233.3L403.7,230.4L403.0,229.1L401.4,227.8L399.1,226.5L395.9,225.2L394.0,223.3L392.4,221.0L390.7,220.0L390.2,219.2L388.2,220.0L387.9,221.5L388.4,223.9L390.6,225.2L392.2,227.8L394.5,229.3L396.2,230.4L399.2,232.2L401.9,234.0L401.3,234.8L398.8,233.3L397.6,235.1L399.1,236.9L397.8,238.2L396.9,239.8L396.1,238.8L397.1,236.9L395.6,234.0L393.8,232.5L391.8,231.2L389.4,230.6L387.2,228.8L385.4,227.3L384.3,225.4L383.6,223.9L381.4,223.1L379.4,224.1L377.9,224.4L376.3,226.0L373.8,226.0L371.6,225.2L369.5,225.7L368.5,227.8L369.0,229.3L366.9,230.9L364.3,231.7L363.2,232.7L362.2,234.6L361.5,235.6L362.6,237.5L361.1,238.8L360.4,240.6L358.2,242.2L356.7,243.0L352.6,243.0L351.2,243.5ZM57.0,162.8L58.3,163.0L59.1,164.1L60.1,164.9L61.0,165.7L60.8,167.1L62.3,167.3L63.9,167.5L65.1,168.9L64.7,169.6L62.3,170.3L59.4,170.5L55.4,172.4L52.3,173.1L50.9,172.1L50.8,171.0L48.5,170.7L43.9,171.4L50.4,167.1ZM350.6,208.1L353.7,207.4L356.1,206.6L359.1,206.6L362.8,206.4L365.0,205.4L364.0,204.1L365.5,202.1L365.3,201.1L363.0,201.1L362.6,199.5L361.6,198.3L360.0,196.8L359.1,194.3L357.3,193.3L357.2,192.6L358.7,189.6L358.4,189.1L356.1,189.1L354.6,188.6L356.3,186.9L353.7,186.9L352.7,186.9L351.7,189.4L351.0,191.6L351.6,193.3L352.5,194.5L352.6,196.3L355.3,196.0L355.9,197.5L356.3,199.3L356.0,200.1L353.3,200.1L353.2,201.3L354.0,202.6L351.8,203.8L354.2,204.3L355.6,204.8L353.7,205.4L352.1,206.1ZM350.2,202.8L349.7,199.8L350.4,198.3L351.4,197.0L350.5,195.3L348.0,195.0L346.0,195.5L345.5,197.3L342.8,198.0L342.9,199.5L343.8,200.6L342.4,203.1L341.6,203.8L343.0,204.6L345.2,204.3L347.6,203.1ZM321.9,174.0L319.6,172.1L322.5,171.0L319.4,170.3L321.7,168.7L323.8,168.4L326.8,169.1L329.8,168.9L333.4,168.2L336.2,168.7L336.7,170.3L338.1,171.4L335.8,173.1L332.6,174.5L330.5,174.9L328.3,175.4L325.4,174.7ZM378.5,142.8L381.0,140.3L383.6,140.2L386.1,140.1L388.8,139.4L391.3,139.4L393.8,139.4L396.3,139.6L398.8,139.8L401.2,140.0L398.8,141.3L396.4,141.9L394.0,142.6L392.9,143.7L391.0,145.2L389.0,146.7L385.7,145.7L383.3,144.5L381.6,143.4ZM389.0,239.6L391.4,239.0L393.7,238.9L395.9,238.8L395.0,240.9L395.1,243.0L393.3,242.2L389.5,240.6ZM380.1,231.4L381.8,231.2L383.1,233.0L382.9,236.7L380.5,237.2L380.2,234.3ZM380.3,226.7L382.0,226.5L382.3,229.1L381.8,230.6L380.4,229.3ZM413.6,245.9L415.9,246.4L419.8,246.7L418.2,247.5L414.8,246.9ZM433.1,247.2L434.8,248.5L436.8,247.5L437.9,245.6L435.6,246.7L433.5,246.9ZM383.5,194.8L386.5,194.3L385.7,193.1L384.0,193.3L383.2,194.1ZM381.1,194.5L383.1,194.3L382.8,195.8L381.6,195.5ZM411.8,237.2L414.0,238.0L415.3,239.6L413.2,238.5ZM422.7,244.3L423.7,243.8L423.2,245.1ZM403.4,187.7L405.1,186.9L406.2,187.4L404.2,188.4ZM447.8,157.5L447.2,153.2L448.4,149.7L450.2,148.8L451.9,147.9L453.9,147.4L455.9,146.9L458.1,146.5L460.4,146.1L462.6,145.7L465.0,145.8L467.3,145.9L466.4,146.7L463.9,147.4L461.4,148.1L458.8,148.9L456.3,149.7L454.6,150.7L452.8,151.8L451.9,154.3L453.3,156.9L457.6,158.8L455.6,159.0L453.7,159.3L450.1,158.8ZM426.9,139.3L429.4,138.7L431.5,138.7L433.7,138.8L435.9,138.8L433.6,139.6L431.3,139.5L429.1,139.4ZM499.9,139.6L501.4,138.8L502.9,138.1L507.0,139.3L511.3,140.5L515.5,141.5L515.0,142.4L514.4,143.4L512.3,143.2L510.2,143.0L506.9,142.4L503.6,141.8ZM573.9,148.7L575.4,147.7L577.6,147.6L579.7,147.5L583.8,148.1L587.9,148.7L590.8,148.9L593.8,149.1L596.7,149.3L595.3,150.3L593.6,150.9L591.9,151.6L590.2,152.2L587.9,152.8L584.2,151.9L580.4,150.9ZM66.0,157.3L67.5,156.9L69.7,157.5L67.4,158.4L64.1,158.4ZM657.1,157.7L658.3,157.3L660.2,158.4L658.9,158.4ZM656.8,218.7L659.0,217.4L656.0,213.8L652.6,211.0L655.3,210.5L650.9,207.1L647.9,203.8L645.3,200.8L641.4,197.5L640.8,197.8L643.3,200.8L645.6,204.6L650.1,209.2L652.9,213.5L655.5,217.1ZM547.5,313.9L548.4,314.7L550.2,317.1L551.2,318.7L552.5,321.3L551.9,323.1L549.6,324.2L548.1,323.1L547.6,320.0L547.4,316.6ZM611.2,289.1L613.5,291.8L615.6,290.7L616.3,287.8L614.7,286.7L612.3,287.0ZM638.8,291.0L641.9,291.5L643.2,294.9L642.3,298.1L643.1,302.0L645.0,302.3L648.1,303.4L649.2,306.5L647.2,305.5L645.2,304.2L643.5,303.4L640.6,302.3L640.4,300.7L638.9,300.2L638.0,296.8L639.2,296.0L638.8,293.3ZM645.7,321.3L649.0,319.2L650.1,318.1L653.3,314.2L655.9,318.7L655.5,322.6L654.0,324.7L653.2,323.4L650.9,323.4L649.8,320.5L647.4,320.0ZM650.2,306.8L653.4,310.7L652.0,313.1L650.0,309.7ZM644.6,308.4L647.1,310.7L644.9,312.1L644.5,310.2ZM646.0,311.3L648.4,312.1L649.5,311.3L648.1,315.8L647.0,314.7ZM634.1,317.9L636.4,314.7L638.5,312.1L639.1,309.7L640.0,311.0L638.2,313.9L635.9,317.1L634.8,318.4ZM640.6,304.2L643.0,304.9L642.6,307.3L640.6,306.3ZM649.2,313.1L650.9,313.4L650.5,314.4ZM616.1,335.3L617.4,334.5L619.6,335.5L621.1,333.4L623.0,331.8L625.3,331.3L627.4,327.6L629.7,326.6L630.8,325.5L632.1,323.9L633.6,321.3L635.3,322.4L635.8,323.9L637.7,324.5L639.6,325.5L637.9,327.9L636.6,328.9L636.7,331.7L636.8,334.5L639.1,337.1L636.6,337.7L635.9,341.1L633.8,343.7L633.5,346.4L632.4,349.0L628.9,349.8L626.4,348.5L622.9,349.0L621.3,347.7L618.8,347.4L618.6,344.2L617.2,342.4L616.1,339.2ZM583.8,325.0L586.4,325.5L589.0,326.0L591.4,329.2L595.8,333.7L598.6,335.3L602.1,338.4L604.0,342.4L605.6,344.8L606.7,346.4L609.0,348.5L608.5,352.9L608.0,355.1L605.4,355.3L603.6,352.9L600.3,350.3L597.4,346.4L595.8,342.4L593.5,338.4L591.8,335.0L588.5,331.8L586.0,328.4ZM606.7,357.7L608.6,355.6L612.1,356.1L614.6,357.4L619.0,358.0L621.3,357.2L624.1,358.0L627.9,360.1L627.7,362.7L624.5,361.6L619.9,361.4L615.3,360.3L611.9,359.5L609.4,359.3L607.3,358.0ZM628.3,361.1L630.8,361.9L630.0,363.0L628.0,362.2ZM631.5,361.9L633.1,361.6L632.8,363.2L631.4,363.2ZM633.3,362.2L635.9,361.8L638.5,361.4L638.4,363.0L633.7,363.5ZM640.3,362.2L644.0,361.9L647.8,361.6L647.2,363.0L643.9,363.1L640.7,363.2ZM638.2,364.8L642.3,365.9L640.4,366.9L637.9,365.6ZM648.3,366.7L649.8,364.6L652.0,363.5L653.5,362.4L655.9,361.9L657.7,361.8L657.0,362.8L654.6,363.8L652.6,364.8L650.6,366.1L648.7,367.2ZM639.2,349.0L638.8,346.6L640.3,342.4L641.3,339.2L642.2,337.7L644.0,336.3L647.5,337.1L651.0,337.4L653.8,335.8L652.2,338.4L648.7,338.4L644.0,338.4L642.2,339.2L642.9,342.1L645.7,342.1L649.6,342.1L647.5,343.7L645.2,344.8L646.2,347.7L647.2,351.6L648.2,354.3L646.0,352.9L644.5,350.8L643.7,348.2L642.5,347.4L642.4,350.8L642.2,354.3L640.1,354.3L640.0,351.6ZM659.1,335.0L660.8,334.5L661.7,337.1L660.4,338.4L661.8,341.1L659.9,341.6L659.0,339.8L660.3,337.1ZM660.2,347.7L663.1,347.7L666.0,347.7L666.9,349.8L664.1,349.5L661.3,349.3ZM655.5,347.9L658.3,348.2L657.8,349.8L655.7,349.5ZM667.3,342.9L669.7,340.8L673.2,341.6L674.5,342.7L674.7,346.1L676.5,348.5L677.6,348.5L680.1,345.8L682.4,343.7L684.8,344.2L687.1,345.6L690.5,346.6L693.9,348.2L697.4,349.8L699.6,351.6L701.3,353.5L703.4,356.9L705.7,357.4L704.8,360.3L706.3,361.6L707.9,363.8L709.9,366.9L711.7,367.7L709.4,367.2L705.3,366.4L703.7,364.6L701.7,361.4L697.8,359.8L695.4,361.6L694.0,363.5L689.4,363.8L687.3,361.1L685.0,361.1L683.0,361.9L682.3,359.5L684.1,356.9L682.7,353.7L678.6,351.9L675.7,350.3L673.2,349.8L671.2,350.6L669.5,347.1L671.9,346.1L669.6,345.6L668.0,343.7ZM707.1,354.3L709.9,354.3L712.2,354.0L714.6,352.7L716.4,350.8L716.7,352.9L714.5,354.5L710.9,356.4L708.1,355.8ZM713.3,346.6L716.1,348.5L718.6,351.9L717.7,352.4L715.1,349.8L712.8,347.4ZM721.8,352.9L724.6,356.9L723.3,358.0L721.7,354.3ZM769.6,385.9L772.5,386.2L771.7,387.8L769.2,387.5ZM773.0,383.3L776.4,382.5L774.6,384.1L773.0,384.1ZM620.9,397.8L622.2,397.3L623.3,397.3L625.9,395.7L628.9,394.1L632.0,393.3L634.5,392.5L636.8,392.0L639.3,390.9L641.6,388.6L643.2,385.9L644.5,383.5L646.2,384.6L647.2,382.5L648.9,380.6L650.6,378.3L652.4,377.2L654.3,376.4L656.5,377.2L657.9,379.1L659.7,379.1L661.3,377.5L663.1,374.6L664.8,372.5L667.6,371.7L669.2,370.4L671.2,371.1L673.5,371.4L676.4,371.9L678.7,371.9L677.7,374.6L676.2,375.4L674.8,378.8L676.9,381.4L679.3,383.3L681.7,385.4L683.8,386.4L686.1,385.1L687.8,382.0L689.0,378.0L689.3,374.0L690.4,371.4L692.4,368.0L693.2,371.1L693.8,373.5L693.7,376.9L695.7,377.5L697.2,379.8L696.8,383.0L697.7,385.9L697.5,389.1L700.0,391.2L702.5,393.3L703.3,396.5L704.6,398.8L705.3,400.4L706.3,403.1L707.8,405.7L708.6,408.3L708.1,411.2L707.5,414.1L706.0,417.6L703.7,421.0L701.4,424.2L697.5,427.3L695.3,430.0L692.7,432.9L689.5,436.0L687.8,438.6L683.9,439.4L680.8,440.7L677.8,442.6L676.8,441.3L676.3,440.0L674.3,440.7L671.1,441.8L668.7,440.7L666.9,439.7L666.2,437.6L667.2,435.2L666.5,433.6L666.6,431.5L666.4,430.0L664.4,432.3L662.2,432.9L664.7,430.5L666.6,427.1L664.7,428.4L662.9,429.4L660.9,431.5L659.9,430.7L659.9,427.3L659.1,426.0L657.5,424.4L654.8,422.8L651.4,423.1L647.8,423.6L644.0,424.9L640.4,425.7L637.3,426.8L634.8,429.2L631.6,429.4L628.0,429.2L625.2,430.5L621.7,432.1L619.6,432.1L617.1,431.5L615.7,430.2L616.2,428.1L618.0,427.6L619.2,424.2L619.2,421.5L619.4,418.9L619.9,416.2L619.2,413.1L618.5,409.6L618.9,407.0L620.4,404.4L620.0,401.7L621.4,399.1ZM671.5,447.0L673.8,448.1L676.3,447.6L679.1,447.6L677.2,450.4L674.8,453.0L671.8,454.3L669.6,454.6L670.1,451.2L670.9,448.4ZM742.4,430.5L743.2,432.1L744.1,434.2L743.4,436.8L745.7,436.5L744.8,438.9L746.3,440.0L749.6,439.2L747.6,441.5L745.6,443.1L742.9,444.2L741.4,445.7L737.5,448.6L735.2,449.4L734.7,448.6L737.1,446.5L737.4,444.7L736.6,443.4L739.4,441.5L741.9,438.4L742.5,436.0L742.2,433.4ZM731.8,446.5L733.6,447.6L733.3,449.4L729.1,452.5L725.8,454.6L721.3,456.4L719.2,458.2L716.4,460.6L712.8,462.4L710.1,462.4L707.7,461.4L708.7,459.5L712.9,457.0L716.1,455.4L721.7,453.0L726.5,449.9L730.0,447.6ZM708.0,462.9L709.3,463.2L708.2,463.9ZM674.4,319.7L675.1,319.7L674.8,320.5ZM682.5,314.4L682.8,314.8L682.3,314.8ZM729.6,321.4L730.2,321.6L729.9,322.0ZM741.3,325.7L741.6,325.9L741.2,325.9ZM760.0,320.9L760.5,321.0L760.2,321.3ZM765.1,335.9L765.4,336.2L765.0,336.2ZM778.2,362.2L778.4,362.4L778.0,362.4ZM-36.4,375.4L-34.0,376.2L-35.5,376.4ZM-38.2,395.4L-37.7,395.5L-37.8,395.9ZM491.1,351.8L491.5,351.9L491.3,352.3ZM533.1,328.7L533.3,328.8L533.2,329.3ZM464.4,371.8L465.1,371.9L464.8,372.3Z" fill="#a6dba0"/>
<g clip-path="url(#land)">
<path d="M414.2,160.8L411.9,162.4L410.5,162.8L411.2,164.4L413.4,165.5L412.4,167.1L414.3,169.4L414.5,171.7L416.4,172.8L415.9,174.5L418.8,176.8L416.3,179.9L413.6,182.3L415.4,183.8L414.5,184.9L413.7,186.4L414.9,188.4L414.5,189.6L415.0,190.1L415.9,191.8L416.5,193.1L419.2,193.8L422.0,194.3L422.2,196.3L423.7,198.8L425.4,200.6L424.6,201.6L425.5,203.1L428.2,202.6L430.7,205.4L433.7,207.4L437.8,207.4L439.7,208.7L443.0,211.0L444.0,212.8L443.6,214.0L440.9,215.8L439.6,216.6L437.9,218.7L438.7,220.4L439.5,221.8L443.0,223.6L446.5,225.4L450.7,225.7L454.1,226.7L457.2,227.3L459.0,227.8L461.5,229.6L464.2,231.2L465.5,229.6L466.4,226.7L467.2,223.9L465.6,220.8L464.0,217.7L462.5,216.6L460.9,214.3L459.3,214.3L457.2,212.5L457.8,210.7L457.1,208.7L458.9,207.4L460.2,206.9L462.4,205.4L465.2,204.6L468.2,204.6L472.7,206.1L475.5,205.6L478.5,205.6L482.0,206.9L481.8,203.6L485.3,205.1L483.2,202.1L482.8,200.8L483.9,198.5L486.8,197.9L489.6,197.3L492.7,196.3L494.5,195.5L496.3,194.8L501.2,197.8L504.0,198.8L506.8,199.8L507.8,199.3L509.9,198.5L512.0,197.8L514.8,199.5L518.5,201.1L523.4,205.1L525.9,206.1L529.8,205.9L534.4,208.4L537.8,209.2L539.8,210.7L540.8,209.9L544.1,208.4L547.4,206.9L550.4,207.6L553.4,208.4L556.7,208.4L559.9,208.4L558.6,204.6L559.0,203.3L561.9,204.1L566.3,204.8L568.3,207.1L572.0,207.6L576.0,207.6L579.7,208.7L583.6,210.2L587.5,209.9L591.3,209.4L593.6,209.2L596.0,208.9L598.3,208.7L601.2,209.7L602.4,207.9L602.8,203.6L600.2,201.8L600.8,200.1L604.4,199.5L608.9,200.3L613.8,202.8L619.8,207.9L624.7,209.9L628.6,211.2L631.5,212.1L634.3,213.0L637.6,212.8L638.4,215.3L639.1,218.2L639.7,221.0L636.5,221.5L637.3,223.9L639.5,226.7L639.0,228.0L639.6,228.4L642.3,230.4L644.6,229.7L646.9,229.1L649.3,227.3L651.8,225.6L654.1,223.9L653.7,219.2L657.8,219.2L661.7,219.1L665.6,219.0L669.5,218.9L673.6,219.2L677.7,219.5L681.8,219.8L685.9,220.1L690.1,220.4L694.2,220.7L698.3,221.0L702.5,221.3L705.3,219.8L708.0,218.4L710.7,217.0L713.4,215.5L716.0,214.1L718.6,212.7L721.2,211.2L723.7,209.8L726.1,208.4L720.8,203.3L715.2,198.3L709.4,193.3L703.3,188.4L697.0,183.5L690.6,178.7L684.1,174.0L677.4,169.4L670.5,164.8L663.5,160.4L656.1,156.0L648.4,151.8L640.3,147.7L631.7,143.7L622.7,140.0L614.3,136.6L606.1,133.6L598.4,130.9L595.8,130.9L593.2,130.9L590.6,130.9L587.9,130.9L585.3,130.9L582.7,130.9L580.1,130.9L577.4,130.9L574.8,130.9L572.2,130.9L569.6,130.9L566.9,130.9L564.3,130.9L561.7,130.9L559.1,130.9L556.4,130.9L553.8,130.9L551.2,130.9L548.6,130.9L545.9,130.9L543.3,130.9L540.7,130.9L538.1,130.9L535.4,130.9L532.8,130.9L530.2,130.9L527.6,130.9L524.9,130.9L522.3,130.9L519.7,130.9L517.1,130.9L514.4,130.9L511.8,130.9L509.2,130.9L506.6,130.9L503.9,130.9L501.3,130.9L498.7,130.9L496.1,130.9L493.4,130.9L490.8,130.9L488.2,130.9L485.6,130.9L482.9,130.9L480.3,130.9L477.7,130.9L475.1,130.9L472.4,130.9L469.8,130.9L467.2,130.9L464.6,130.9L461.9,130.9L459.3,130.9L456.7,130.9L454.0,130.9L451.4,130.9L448.8,130.9L446.2,130.9L443.5,130.9L440.9,130.9L438.3,130.9L435.7,130.9L433.0,130.9L430.4,130.9L427.8,130.9L425.2,130.9L422.5,130.9L419.9,130.9L417.3,130.9L414.7,130.9L412.0,130.9L409.4,130.9L406.8,130.9L408.2,133.6L409.8,136.6L411.4,140.0L413.1,143.7L413.7,147.2L414.3,150.7L414.7,154.4L415.1,158.2ZM72.0,153.9L75.0,153.9L78.0,153.9L81.0,153.9L84.0,153.9L86.9,153.9L89.9,153.9L82.8,158.2L76.1,162.6L69.6,167.1L63.2,171.7L57.0,176.4L53.6,176.4L50.3,176.4L47.0,176.4L43.6,176.4L40.3,176.4L36.9,176.4L43.6,171.7L50.4,167.1L57.3,162.6L64.5,158.2ZM399.8,196.8L400.5,197.4L402.3,197.5L404.5,197.5L406.8,197.4L406.5,196.0L404.9,195.5L403.5,195.3L403.3,194.9L400.9,194.5ZM409.2,203.3L408.3,202.6L409.5,201.6L408.3,198.5L410.6,198.4L412.7,197.8L412.0,196.3L413.8,195.3L413.6,194.1L416.5,193.1L419.2,193.8L422.0,194.3L422.2,196.3L423.7,198.8L425.4,200.6L424.6,201.6L425.5,203.1L423.7,203.3L423.5,205.1L420.8,204.8L418.1,204.3L415.0,203.8L412.0,203.6L409.4,204.6ZM395.4,216.5L396.1,214.8L397.2,213.5L398.7,214.2L400.7,214.0L400.9,213.4L403.7,212.8L406.5,212.2L407.3,212.5L409.1,213.7L407.4,215.3L406.1,218.2L404.2,218.3L402.6,218.4L401.2,218.9L398.7,218.8L396.5,217.4ZM539.8,210.7L538.7,215.6L535.9,215.6L533.1,215.6L533.5,220.0L531.3,220.8L529.1,221.5L530.9,225.0L532.6,228.6L529.7,227.0L526.2,226.7L522.7,226.5L519.0,226.0L517.9,227.8L515.3,228.0L512.8,228.3L511.3,230.4L509.0,232.7L507.4,231.7L503.5,229.3L501.7,226.7L500.1,225.2L496.9,224.9L492.8,225.2L490.0,222.8L486.9,221.3L483.9,219.7L481.5,220.5L479.1,221.3L480.4,226.1L481.6,230.9L480.5,230.9L476.9,228.3L474.7,228.8L473.8,229.6L471.0,226.5L468.6,221.3L464.0,217.7L462.5,216.6L460.9,214.3L459.3,214.3L457.2,212.5L457.8,210.7L457.1,208.7L458.9,207.4L460.2,206.9L462.4,205.4L465.2,204.6L468.2,204.6L472.7,206.1L475.5,205.6L478.5,205.6L482.0,206.9L481.8,203.6L485.3,205.1L483.2,202.1L482.8,200.8L483.9,198.5L486.8,197.9L489.6,197.3L492.7,196.3L494.5,195.5L496.3,194.8L501.2,197.8L504.0,198.8L506.8,199.8L507.8,199.3L509.9,198.5L512.0,197.8L514.8,199.5L518.5,201.1L523.4,205.1L525.9,206.1L529.8,205.9L534.4,208.4L537.8,209.2ZM479.1,221.3L481.5,220.5L483.9,219.7L486.9,221.3L490.0,222.8L492.8,225.2L496.9,224.9L500.1,225.2L501.7,226.7L503.5,229.3L507.4,231.7L509.0,232.7L511.3,230.4L512.8,228.3L514.9,230.4L518.4,232.0L516.5,233.5L513.4,234.0L513.3,232.2L511.2,233.8L509.6,235.6L507.7,236.4L509.1,239.6L509.7,241.7L506.7,241.1L502.9,239.0L500.7,237.2L496.4,234.6L493.4,231.2L489.7,229.3L486.1,227.8L483.7,230.9L481.6,230.9L480.4,226.1ZM509.7,241.7L513.2,240.9L516.8,239.8L518.1,242.2L521.5,241.7L525.0,241.1L524.1,238.2L521.7,238.0L520.4,235.9L516.6,235.6L512.7,235.4L510.9,234.0L512.8,232.0L513.3,232.2L513.4,234.0L511.2,233.8L509.6,235.6L507.7,236.4L509.1,239.6ZM454.9,231.4L456.0,231.0L458.1,230.9L459.7,232.2L460.4,234.0L460.9,235.1L462.2,235.6L462.5,237.2L461.5,237.3L459.9,235.6L458.5,235.1L457.3,234.3L455.7,234.0L455.6,232.5ZM456.9,235.9L458.5,235.1L460.3,236.9L462.5,237.2L465.2,235.1L466.4,236.9L466.0,238.2L468.0,238.5L471.1,236.9L475.2,239.2L479.4,241.4L481.3,241.1L482.5,239.6L486.3,239.0L490.3,240.9L493.9,243.2L495.7,243.2L496.2,245.9L495.4,249.3L496.7,251.1L496.3,252.7L497.7,256.7L499.5,256.9L500.0,258.5L498.4,260.9L501.0,263.3L503.4,265.4L504.9,268.0L504.0,269.6L501.8,271.7L501.7,273.3L501.8,274.4L498.7,273.9L495.6,273.5L492.4,273.0L489.7,269.6L487.0,270.0L484.2,270.4L481.9,269.9L478.2,267.8L474.8,263.8L473.0,261.7L471.1,261.0L470.3,259.8L468.5,258.0L468.1,255.4L465.1,253.0L462.3,250.4L462.8,247.7L461.5,245.1L463.1,245.3L460.2,242.2L459.0,240.6L458.0,239.8L458.5,238.8L457.8,237.2ZM440.3,245.0L439.8,244.8L440.4,248.2L441.3,248.4L442.2,248.5L442.8,249.6L441.5,251.7L441.5,253.5L441.9,253.5L443.8,254.6L447.9,251.7L450.2,250.4L452.4,249.0L452.6,247.5L452.3,243.8L454.4,241.9L451.8,241.9L449.3,242.5L445.0,242.7L442.8,243.0L441.9,242.7L442.3,244.0L440.9,245.1ZM477.3,274.5L478.6,275.1L480.1,274.9L479.4,270.1L477.4,270.1L477.0,272.5ZM460.6,296.5L461.7,293.6L463.7,293.9L466.5,293.9L468.8,294.4L471.4,294.7L472.9,293.3L474.8,290.7L478.1,290.2L481.4,289.7L482.9,292.7L484.3,295.8L485.4,297.6L482.2,301.5L477.6,303.2L473.1,304.9L469.1,306.1L465.1,307.3L462.2,306.1L460.3,303.4L459.9,299.9L459.5,296.5ZM484.3,295.8L482.9,292.7L481.4,289.7L484.7,288.3L488.0,287.0L488.9,281.7L487.9,279.9L488.9,276.5L489.3,276.2L490.0,274.1L490.5,273.8L495.1,276.5L499.8,279.1L499.7,283.1L499.5,287.0L496.0,290.5L492.4,294.0L488.8,297.6L485.4,297.6ZM488.9,271.7L490.1,272.2L490.0,269.6L488.6,269.6ZM565.2,282.5L564.5,279.4L563.6,277.5L563.5,275.7L561.8,274.9L562.4,273.3L563.4,272.5L561.8,271.2L562.3,270.1L564.1,271.2L565.2,271.2L565.8,273.0L568.2,273.3L570.7,273.6L571.7,274.1L570.8,275.9L569.6,276.7L569.7,279.1L570.7,279.4L571.7,277.3L572.5,279.4L573.5,283.3L573.1,285.2L573.0,286.2L569.2,285.3L565.5,284.4ZM573.1,285.2L573.5,283.3L572.5,279.4L574.5,279.1L574.3,276.2L576.1,276.2L576.7,273.3L577.4,271.2L578.6,268.0L581.1,268.3L581.2,265.4L583.3,267.0L585.0,269.6L583.7,274.4L586.5,276.2L587.1,278.6L588.6,279.4L590.8,283.1L592.8,282.5L591.3,286.0L588.7,287.0L586.5,287.8L586.3,291.0L585.6,291.0L587.4,293.7L589.1,296.5L588.6,299.7L591.1,303.4L591.6,306.5L590.6,310.5L591.0,312.3L590.8,313.4L589.9,313.9L587.9,310.2L585.9,306.5L583.9,302.8L578.7,297.6L577.6,293.6L576.5,289.7L572.8,286.0ZM592.8,282.5L593.9,280.7L594.8,280.7L596.9,282.8L597.7,284.6L601.1,286.0L600.3,288.1L603.2,290.2L604.6,291.8L606.9,293.9L609.5,297.0L610.2,298.9L610.5,301.3L607.9,301.5L606.5,302.8L605.0,302.0L605.6,299.4L605.1,297.6L603.4,296.2L602.8,293.6L599.7,291.2L596.6,292.3L594.7,293.6L593.8,291.8L594.2,288.3L592.3,288.3L591.3,286.0ZM593.4,322.4L594.9,322.7L596.5,323.7L597.3,324.7L598.9,324.5L599.5,323.4L602.8,322.6L604.1,327.0L605.5,331.4L606.7,335.8L605.1,336.6L603.0,336.9L598.6,333.7L595.4,330.5L594.3,326.6ZM616.7,334.0L617.4,334.5L619.1,335.3L621.2,336.9L623.0,335.8L625.1,335.5L627.0,336.6L629.1,335.8L629.5,333.7L630.4,332.1L631.1,330.8L631.2,328.7L633.3,328.4L635.9,328.7L636.8,328.9L641.3,325.3L637.6,322.0L633.9,318.7L629.5,322.6L625.0,326.6L620.9,330.3ZM690.5,346.6L690.3,351.0L690.0,355.3L689.7,359.7L689.3,364.0L693.9,365.1L697.8,366.1L701.8,367.2L705.7,368.2L709.6,369.3L714.1,369.4L718.5,369.5L723.0,369.6L727.4,369.8L731.9,369.9L736.3,370.0L740.8,370.1L741.3,365.8L741.8,361.5L742.2,357.2L742.5,352.9L738.2,351.4L733.8,349.9L729.4,348.3L725.1,346.8L720.6,345.3L716.2,343.7L712.0,343.5L707.7,343.3L703.4,343.1L699.2,342.8L694.9,342.6L690.6,342.4ZM652.3,360.9L655.7,360.9L659.0,360.9L658.7,364.6L655.6,365.1L652.5,365.6L652.4,364.0ZM745.5,376.7L750.1,376.7L754.7,376.7L753.7,382.0L752.5,387.2L751.2,392.5L746.6,392.5L742.0,392.5L743.3,387.2L744.5,382.0ZM323.2,284.9L323.4,283.5L327.9,283.5L332.5,283.5L332.6,279.4L334.9,277.9L334.9,274.6L335.0,271.2L338.8,271.2L342.6,271.2L342.6,267.8L346.9,270.8L351.3,273.8L347.4,274.1L347.8,278.0L348.1,281.8L348.4,285.7L348.9,289.4L349.4,293.1L350.0,296.8L349.5,298.9L345.0,298.9L340.5,298.9L337.5,299.9L335.9,298.6L335.2,299.1L334.0,301.0L333.3,298.9L330.6,295.7L328.1,296.0L325.3,296.5L324.2,297.3L321.9,297.6L321.6,293.2L321.3,288.8L321.0,284.4ZM334.0,301.0L335.2,299.1L335.9,298.6L337.5,299.9L340.5,298.9L345.0,298.9L349.5,298.9L350.0,296.8L349.4,293.1L348.9,289.4L348.4,285.7L348.1,281.8L347.8,278.0L347.4,274.1L351.3,273.8L355.8,277.3L360.3,280.9L364.9,284.4L366.3,286.2L369.5,287.5L371.8,289.1L371.8,292.2L371.8,295.2L370.5,298.9L367.8,299.1L365.2,299.4L362.6,300.5L361.0,299.9L359.9,300.5L357.5,302.3L355.2,303.9L352.2,304.9L351.8,306.5L350.1,309.7L349.4,312.3L347.8,312.1L346.2,312.9L344.5,312.9L343.1,313.4L342.9,310.7L342.2,309.4L340.9,307.6L338.5,308.4L337.4,308.4L335.8,307.1L335.6,304.9L334.4,303.9ZM322.4,303.8L326.4,303.5L328.7,303.5L330.5,303.9L330.5,304.9L328.6,304.8L326.3,305.1L322.4,305.3ZM387.7,252.3L386.4,255.3L385.1,258.3L384.3,260.1L383.4,260.4L384.1,263.3L383.8,267.5L384.5,269.9L385.5,274.9L388.5,275.7L389.4,277.8L393.1,279.1L396.3,279.1L400.4,280.9L404.6,282.8L408.8,284.6L412.9,286.5L417.1,288.3L417.1,287.0L419.4,287.0L419.2,281.7L419.0,277.0L418.7,272.2L418.5,267.5L418.2,262.7L417.4,260.6L417.7,258.0L418.0,256.4L418.0,254.0L414.1,253.2L410.2,252.3L406.3,251.4L402.6,251.1L398.9,250.9L395.2,250.6L391.5,250.4L387.7,250.1ZM419.2,281.7L423.7,281.7L428.2,281.7L432.7,281.7L437.2,281.7L441.8,281.7L446.3,281.7L448.9,283.1L450.3,287.4L451.7,291.8L450.8,292.3L449.3,293.9L447.3,294.9L446.3,298.9L446.2,302.0L445.7,306.3L443.9,308.1L442.8,311.3L441.7,311.8L441.3,314.7L440.6,314.7L438.6,311.5L437.2,308.9L434.1,313.7L431.7,312.6L429.2,315.0L426.9,314.4L423.6,314.4L420.8,312.6L419.0,316.3L416.7,316.0L415.5,311.5L414.3,310.7L415.1,306.8L413.5,305.5L414.4,302.8L412.9,301.3L414.9,298.6L417.5,298.4L417.3,293.3L417.1,288.3L417.1,287.0L419.4,287.0ZM462.3,309.5L461.6,310.7L463.1,315.0L464.5,316.0L467.9,317.4L471.2,318.7L473.6,318.7L470.2,322.8L466.9,326.8L464.5,326.7L461.8,328.4L459.9,329.2L459.7,329.3L457.6,332.4L457.7,337.3L457.7,342.1L459.0,344.2L458.8,346.4L462.6,343.4L466.4,340.4L470.2,337.5L474.0,334.5L476.8,329.9L479.6,325.3L482.4,320.6L485.2,316.0L483.8,311.4L482.5,306.8L477.8,307.3L473.2,307.7L468.6,308.2L464.0,308.6ZM389.2,385.3L393.0,384.6L394.8,385.6L398.1,385.6L401.4,385.6L404.7,385.6L407.3,386.4L409.9,387.2L412.8,386.7L415.7,386.2L418.9,385.9L420.3,386.7L417.7,387.0L415.7,387.2L413.0,387.6L410.4,388.0L410.2,392.9L410.0,397.8L407.8,397.8L407.6,401.4L407.5,405.0L407.3,409.8L407.1,414.7L406.0,415.2L402.6,415.7L400.1,415.2L399.1,415.2L397.0,415.7L395.4,410.7L393.9,405.6L392.3,400.6L390.7,395.5L389.1,390.4L387.4,385.4ZM407.5,405.0L407.6,401.4L407.8,397.8L410.0,397.8L410.2,392.9L410.4,388.0L413.0,387.6L415.7,387.2L417.7,387.0L420.3,386.7L420.3,387.2L422.2,391.5L424.6,393.8L426.1,396.5L429.2,398.3L425.9,399.6L423.5,402.0L422.3,404.6L420.1,407.3L417.6,407.5L414.3,406.5L411.9,408.1L409.6,410.4L408.9,410.4L408.3,407.0ZM432.3,407.5L433.2,407.8L434.5,408.3L434.6,410.4L432.7,411.8L431.7,410.4L432.0,408.6ZM422.6,417.8L423.8,416.2L426.2,415.2L428.1,417.0L427.2,419.4L425.1,420.5L423.4,419.7ZM149.3,301.4L150.0,299.9L149.6,299.5L151.0,297.3L154.0,297.3L154.0,296.5L152.0,294.3L153.0,294.3L153.2,292.8L157.4,292.8L156.8,297.8L157.4,297.8L158.1,297.3L158.9,298.3L156.3,301.3L155.9,301.8L155.3,302.3L154.0,303.5L153.0,304.7L148.6,302.3ZM190.9,291.8L191.5,286.5L194.8,286.5L198.2,286.5L198.0,287.7L198.1,289.1L197.6,290.7L197.2,291.0L197.5,292.2L197.4,293.6L194.2,292.7ZM218.0,310.9L221.3,310.9L221.2,313.5L217.9,313.5ZM200.6,388.2L201.4,387.0L202.5,385.9L203.9,388.6L205.3,391.2L205.3,393.8L206.5,395.9L207.8,399.9L209.4,399.9L211.2,397.3L214.0,398.0L215.8,399.9L216.5,397.8L219.0,397.8L219.5,398.3L222.7,400.7L225.9,403.1L230.8,407.0L231.7,406.7L230.1,411.8L232.5,412.0L234.9,412.3L236.2,412.0L238.6,407.3L240.5,408.1L240.8,411.2L238.4,413.3L236.4,414.9L233.4,419.4L232.9,421.5L233.1,425.2L232.9,427.1L233.3,429.3L234.5,431.5L238.3,433.4L240.6,436.7L242.9,440.0L243.1,445.2L243.4,450.4L243.8,455.7L244.3,460.8L244.8,466.0L245.4,471.1L246.2,476.2L247.1,481.2L248.2,486.2L249.3,491.1L250.5,496.0L246.3,494.8L242.0,493.6L237.6,492.4L233.3,491.1L228.9,489.9L224.5,488.7L220.0,487.4L215.6,486.2L211.1,485.0L206.5,483.7L204.3,478.8L202.1,473.9L200.1,469.0L198.3,464.0L196.5,458.9L194.8,453.9L193.2,448.8L191.7,443.7L190.4,438.6L189.2,433.5L188.0,428.3L187.0,423.2L186.1,418.0L185.4,412.9L184.7,407.8L184.2,402.6L183.8,397.5L183.4,392.4L183.1,387.2L187.4,387.5L191.8,387.7L196.2,387.9Z" fill="#c2a5cf"/>
<path d="M414.2,160.8L411.9,162.4L410.5,162.8L411.2,164.4L413.4,165.5L412.4,167.1L414.3,169.4L414.5,171.7L416.4,172.8L415.9,174.5L418.8,176.8L416.3,179.9L413.6,182.3L415.4,183.8L414.5,184.9L413.7,186.4L414.9,188.4L414.5,189.6L415.0,190.1L415.9,191.8L416.5,193.1L419.2,193.8L422.0,194.3L422.2,196.3L423.7,198.8L425.4,200.6L424.6,201.6L425.5,203.1L428.2,202.6L430.7,205.4L433.7,207.4L437.8,207.4L439.7,208.7L443.0,211.0L444.0,212.8L443.6,214.0L440.9,215.8L439.6,216.6L437.9,218.7L438.7,220.4L439.5,221.8L443.0,223.6L446.5,225.4L450.7,225.7L454.1,226.7L457.2,227.3L459.0,227.8L461.5,229.6L464.2,231.2L465.5,229.6L466.4,226.7L467.2,223.9L465.6,220.8L464.0,217.7L462.5,216.6L460.9,214.3L459.3,214.3L457.2,212.5L457.8,210.7L457.1,208.7L458.9,207.4L460.2,206.9L462.4,205.4L465.2,204.6L468.2,204.6L472.7,206.1L475.5,205.6L478.5,205.6L482.0,206.9L481.8,203.6L485.3,205.1L483.2,202.1L482.8,200.8L483.9,198.5L486.8,197.9L489.6,197.3L492.7,196.3L494.5,195.5L496.3,194.8L501.2,197.8L504.0,198.8L506.8,199.8L507.8,199.3L509.9,198.5L512.0,197.8L514.8,199.5L518.5,201.1L523.4,205.1L525.9,206.1L529.8,205.9L534.4,208.4L537.8,209.2L539.8,210.7L540.8,209.9L544.1,208.4L547.4,206.9L550.4,207.6L553.4,208.4L556.7,208.4L559.9,208.4L558.6,204.6L559.0,203.3L561.9,204.1L566.3,204.8L568.3,207.1L572.0,207.6L576.0,207.6L579.7,208.7L583.6,210.2L587.5,209.9L591.3,209.4L593.6,209.2L596.0,208.9L598.3,208.7L601.2,209.7L602.4,207.9L602.8,203.6L600.2,201.8L600.8,200.1L604.4,199.5L608.9,200.3L613.8,202.8L619.8,207.9L624.7,209.9L628.6,211.2L631.5,212.1L634.3,213.0L637.6,212.8L638.4,215.3L639.1,218.2L639.7,221.0L636.5,221.5L637.3,223.9L639.5,226.7L639.0,228.0L639.6,228.4L642.3,230.4L644.6,229.7L646.9,229.1L649.3,227.3L651.8,225.6L654.1,223.9L653.7,219.2L657.8,219.2L661.7,219.1L665.6,219.0L669.5,218.9L673.6,219.2L677.7,219.5L681.8,219.8L685.9,220.1L690.1,220.4L694.2,220.7L698.3,221.0L702.5,221.3L705.3,219.8L708.0,218.4L710.7,217.0L713.4,215.5L716.0,214.1L718.6,212.7L721.2,211.2L723.7,209.8L726.1,208.4L720.8,203.3L715.2,198.3L709.4,193.3L703.3,188.4L697.0,183.5L690.6,178.7L684.1,174.0L677.4,169.4L670.5,164.8L663.5,160.4L656.1,156.0L648.4,151.8L640.3,147.7L631.7,143.7L622.7,140.0L614.3,136.6L606.1,133.6L598.4,130.9L595.8,130.9L593.2,130.9L590.6,130.9L587.9,130.9L585.3,130.9L582.7,130.9L580.1,130.9L577.4,130.9L574.8,130.9L572.2,130.9L569.6,130.9L566.9,130.9L564.3,130.9L561.7,130.9L559.1,130.9L556.4,130.9L553.8,130.9L551.2,130.9L548.6,130.9L545.9,130.9L543.3,130.9L540.7,130.9L538.1,130.9L535.4,130.9L532.8,130.9L530.2,130.9L527.6,130.9L524.9,130.9L522.3,130.9L519.7,130.9L517.1,130.9L514.4,130.9L511.8,130.9L509.2,130.9L506.6,130.9L503.9,130.9L501.3,130.9L498.7,130.9L496.1,130.9L493.4,130.9L490.8,130.9L488.2,130.9L485.6,130.9L482.9,130.9L480.3,130.9L477.7,130.9L475.1,130.9L472.4,130.9L469.8,130.9L467.2,130.9L464.6,130.9L461.9,130.9L459.3,130.9L456.7,130.9L454.0,130.9L451.4,130.9L448.8,130.9L446.2,130.9L443.5,130.9L440.9,130.9L438.3,130.9L435.7,130.9L433.0,130.9L430.4,130.9L427.8,130.9L425.2,130.9L422.5,130.9L419.9,130.9L417.3,130.9L414.7,130.9L412.0,130.9L409.4,130.9L406.8,130.9L408.2,133.6L409.8,136.6L411.4,140.0L413.1,143.7L413.7,147.2L414.3,150.7L414.7,154.4L415.1,158.2L414.2,160.8M72.0,153.9L75.0,153.9L78.0,153.9L81.0,153.9L84.0,153.9L86.9,153.9L89.9,153.9L82.8,158.2L76.1,162.6L69.6,167.1L63.2,171.7L57.0,176.4L53.6,176.4L50.3,176.4L47.0,176.4L43.6,176.4L40.3,176.4L36.9,176.4L43.6,171.7L50.4,167.1L57.3,162.6L64.5,158.2L72.0,153.9M399.8,196.8L400.5,197.4L402.3,197.5L404.5,197.5L406.8,197.4L406.5,196.0L404.9,195.5L403.5,195.3L403.3,194.9L400.9,194.5L399.8,196.8M409.2,203.3L408.3,202.6L409.5,201.6L408.3,198.5L410.6,198.4L412.7,197.8L412.0,196.3L413.8,195.3L413.6,194.1L416.5,193.1M425.5,203.1L423.7,203.3L423.5,205.1L420.8,204.8L418.1,204.3L415.0,203.8L412.0,203.6L409.4,204.6L409.2,203.3M395.4,216.5L396.1,214.8L397.2,213.5L398.7,214.2L400.7,214.0L400.9,213.4L403.7,212.8L406.5,212.2L407.3,212.5L409.1,213.7L407.4,215.3L406.1,218.2L404.2,218.3L402.6,218.4L401.2,218.9L398.7,218.8L396.5,217.4L395.4,216.5M539.8,210.7L538.7,215.6L535.9,215.6L533.1,215.6L533.5,220.0L531.3,220.8L529.1,221.5L530.9,225.0L532.6,228.6L529.7,227.0L526.2,226.7L522.7,226.5L519.0,226.0L517.9,227.8L515.3,228.0L512.8,228.3L511.3,230.4L509.0,232.7L507.4,231.7L503.5,229.3L501.7,226.7L500.1,225.2L496.9,224.9L492.8,225.2L490.0,222.8L486.9,221.3L483.9,219.7L481.5,220.5L479.1,221.3L480.4,226.1L481.6,230.9L480.5,230.9L476.9,228.3L474.7,228.8L473.8,229.6L471.0,226.5L468.6,221.3L464.0,217.7M512.8,228.3L514.9,230.4L518.4,232.0L516.5,233.5L513.4,234.0L513.3,232.2L511.2,233.8L509.6,235.6L507.7,236.4L509.1,239.6L509.7,241.7L506.7,241.1L502.9,239.0L500.7,237.2L496.4,234.6L493.4,231.2L489.7,229.3L486.1,227.8L483.7,230.9L481.6,230.9M509.7,241.7L513.2,240.9L516.8,239.8L518.1,242.2L521.5,241.7L525.0,241.1L524.1,238.2L521.7,238.0L520.4,235.9L516.6,235.6L512.7,235.4L510.9,234.0L512.8,232.0L513.3,232.2M513.4,234.0L511.2,233.8M454.9,231.4L456.0,231.0L458.1,230.9L459.7,232.2L460.4,234.0L460.9,235.1L462.2,235.6L462.5,237.2L461.5,237.3L459.9,235.6L458.5,235.1L457.3,234.3L455.7,234.0L455.6,232.5L454.9,231.4M456.9,235.9L458.5,235.1L460.3,236.9L462.5,237.2L465.2,235.1L466.4,236.9L466.0,238.2L468.0,238.5L471.1,236.9L475.2,239.2L479.4,241.4L481.3,241.1L482.5,239.6L486.3,239.0L490.3,240.9L493.9,243.2L495.7,243.2L496.2,245.9L495.4,249.3L496.7,251.1L496.3,252.7L497.7,256.7L499.5,256.9L500.0,258.5L498.4,260.9L501.0,263.3L503.4,265.4L504.9,268.0L504.0,269.6L501.8,271.7L501.7,273.3L501.8,274.4L498.7,273.9L495.6,273.5L492.4,273.0L489.7,269.6L487.0,270.0L484.2,270.4L481.9,269.9L478.2,267.8L474.8,263.8L473.0,261.7L471.1,261.0L470.3,259.8L468.5,258.0L468.1,255.4L465.1,253.0L462.3,250.4L462.8,247.7L461.5,245.1L463.1,245.3L460.2,242.2L459.0,240.6L458.0,239.8L458.5,238.8L457.8,237.2L456.9,235.9M440.3,245.0L439.8,244.8L440.4,248.2L441.3,248.4L442.2,248.5L442.8,249.6L441.5,251.7L441.5,253.5L441.9,253.5L443.8,254.6L447.9,251.7L450.2,250.4L452.4,249.0L452.6,247.5L452.3,243.8L454.4,241.9L451.8,241.9L449.3,242.5L445.0,242.7L442.8,243.0L441.9,242.7L442.3,244.0L440.9,245.1L440.3,245.0M477.3,274.5L478.6,275.1L480.1,274.9L479.4,270.1L477.4,270.1L477.0,272.5L477.3,274.5M460.6,296.5L461.7,293.6L463.7,293.9L466.5,293.9L468.8,294.4L471.4,294.7L472.9,293.3L474.8,290.7L478.1,290.2L481.4,289.7L482.9,292.7L484.3,295.8L485.4,297.6L482.2,301.5L477.6,303.2L473.1,304.9L469.1,306.1L465.1,307.3L462.2,306.1L460.3,303.4L459.9,299.9L459.5,296.5L460.6,296.5M481.4,289.7L484.7,288.3L488.0,287.0L488.9,281.7L487.9,279.9L488.9,276.5L489.3,276.2L490.0,274.1L490.5,273.8L495.1,276.5L499.8,279.1L499.7,283.1L499.5,287.0L496.0,290.5L492.4,294.0L488.8,297.6L485.4,297.6M488.9,271.7L490.1,272.2L490.0,269.6L488.6,269.6L488.9,271.7M565.2,282.5L564.5,279.4L563.6,277.5L563.5,275.7L561.8,274.9L562.4,273.3L563.4,272.5L561.8,271.2L562.3,270.1L564.1,271.2L565.2,271.2L565.8,273.0L568.2,273.3L570.7,273.6L571.7,274.1L570.8,275.9L569.6,276.7L569.7,279.1L570.7,279.4L571.7,277.3L572.5,279.4L573.5,283.3L573.1,285.2L573.0,286.2L569.2,285.3L565.5,284.4L565.2,282.5M572.5,279.4L574.5,279.1L574.3,276.2L576.1,276.2L576.7,273.3L577.4,271.2L578.6,268.0L581.1,268.3L581.2,265.4L583.3,267.0L585.0,269.6L583.7,274.4L586.5,276.2L587.1,278.6L588.6,279.4L590.8,283.1L592.8,282.5L591.3,286.0L588.7,287.0L586.5,287.8L586.3,291.0L585.6,291.0L587.4,293.7L589.1,296.5L588.6,299.7L591.1,303.4L591.6,306.5L590.6,310.5L591.0,312.3L590.8,313.4L589.9,313.9L587.9,310.2L585.9,306.5L583.9,302.8L578.7,297.6L577.6,293.6L576.5,289.7L572.8,286.0L573.1,285.2M592.8,282.5L593.9,280.7L594.8,280.7L596.9,282.8L597.7,284.6L601.1,286.0L600.3,288.1L603.2,290.2L604.6,291.8L606.9,293.9L609.5,297.0L610.2,298.9L610.5,301.3L607.9,301.5L606.5,302.8L605.0,302.0L605.6,299.4L605.1,297.6L603.4,296.2L602.8,293.6L599.7,291.2L596.6,292.3L594.7,293.6L593.8,291.8L594.2,288.3L592.3,288.3L591.3,286.0M593.4,322.4L594.9,322.7L596.5,323.7L597.3,324.7L598.9,324.5L599.5,323.4L602.8,322.6L604.1,327.0L605.5,331.4L606.7,335.8L605.1,336.6L603.0,336.9L598.6,333.7L595.4,330.5L594.3,326.6L593.4,322.4M616.7,334.0L617.4,334.5L619.1,335.3L621.2,336.9L623.0,335.8L625.1,335.5L627.0,336.6L629.1,335.8L629.5,333.7L630.4,332.1L631.1,330.8L631.2,328.7L633.3,328.4L635.9,328.7L636.8,328.9L641.3,325.3L637.6,322.0L633.9,318.7L629.5,322.6L625.0,326.6L620.9,330.3L616.7,334.0M690.5,346.6L690.3,351.0L690.0,355.3L689.7,359.7L689.3,364.0L693.9,365.1L697.8,366.1L701.8,367.2L705.7,368.2L709.6,369.3L714.1,369.4L718.5,369.5L723.0,369.6L727.4,369.8L731.9,369.9L736.3,370.0L740.8,370.1L741.3,365.8L741.8,361.5L742.2,357.2L742.5,352.9L738.2,351.4L733.8,349.9L729.4,348.3L725.1,346.8L720.6,345.3L716.2,343.7L712.0,343.5L707.7,343.3L703.4,343.1L699.2,342.8L694.9,342.6L690.6,342.4L690.5,346.6M652.3,360.9L655.7,360.9L659.0,360.9L658.7,364.6L655.6,365.1L652.5,365.6L652.4,364.0L652.3,360.9M745.5,376.7L750.1,376.7L754.7,376.7L753.7,382.0L752.5,387.2L751.2,392.5L746.6,392.5L742.0,392.5L743.3,387.2L744.5,382.0L745.5,376.7M323.2,284.9L323.4,283.5L327.9,283.5L332.5,283.5L332.6,279.4L334.9,277.9L334.9,274.6L335.0,271.2L338.8,271.2L342.6,271.2L342.6,267.8L346.9,270.8L351.3,273.8L347.4,274.1L347.8,278.0L348.1,281.8L348.4,285.7L348.9,289.4L349.4,293.1L350.0,296.8L349.5,298.9L345.0,298.9L340.5,298.9L337.5,299.9L335.9,298.6L335.2,299.1L334.0,301.0L333.3,298.9L330.6,295.7L328.1,296.0L325.3,296.5L324.2,297.3L321.9,297.6L321.6,293.2L321.3,288.8L321.0,284.4L323.2,284.9M351.3,273.8L355.8,277.3L360.3,280.9L364.9,284.4L366.3,286.2L369.5,287.5L371.8,289.1L371.8,292.2L371.8,295.2L370.5,298.9L367.8,299.1L365.2,299.4L362.6,300.5L361.0,299.9L359.9,300.5L357.5,302.3L355.2,303.9L352.2,304.9L351.8,306.5L350.1,309.7L349.4,312.3L347.8,312.1L346.2,312.9L344.5,312.9L343.1,313.4L342.9,310.7L342.2,309.4L340.9,307.6L338.5,308.4L337.4,308.4L335.8,307.1L335.6,304.9L334.4,303.9L334.0,301.0M322.4,303.8L326.4,303.5L328.7,303.5L330.5,303.9L330.5,304.9L328.6,304.8L326.3,305.1L322.4,305.3L322.4,303.8M387.7,252.3L386.4,255.3L385.1,258.3L384.3,260.1L383.4,260.4L384.1,263.3L383.8,267.5L384.5,269.9L385.5,274.9L388.5,275.7L389.4,277.8L393.1,279.1L396.3,279.1L400.4,280.9L404.6,282.8L408.8,284.6L412.9,286.5L417.1,288.3L417.1,287.0L419.4,287.0L419.2,281.7L419.0,277.0L418.7,272.2L418.5,267.5L418.2,262.7L417.4,260.6L417.7,258.0L418.0,256.4L418.0,254.0L414.1,253.2L410.2,252.3L406.3,251.4L402.6,251.1L398.9,250.9L395.2,250.6L391.5,250.4L387.7,250.1L387.7,252.3M419.2,281.7L423.7,281.7L428.2,281.7L432.7,281.7L437.2,281.7L441.8,281.7L446.3,281.7L448.9,283.1L450.3,287.4L451.7,291.8L450.8,292.3L449.3,293.9L447.3,294.9L446.3,298.9L446.2,302.0L445.7,306.3L443.9,308.1L442.8,311.3L441.7,311.8L441.3,314.7L440.6,314.7L438.6,311.5L437.2,308.9L434.1,313.7L431.7,312.6L429.2,315.0L426.9,314.4L423.6,314.4L420.8,312.6L419.0,316.3L416.7,316.0L415.5,311.5L414.3,310.7L415.1,306.8L413.5,305.5L414.4,302.8L412.9,301.3L414.9,298.6L417.5,298.4L417.3,293.3L417.1,288.3M462.3,309.5L461.6,310.7L463.1,315.0L464.5,316.0L467.9,317.4L471.2,318.7L473.6,318.7L470.2,322.8L466.9,326.8L464.5,326.7L461.8,328.4L459.9,329.2L459.7,329.3L457.6,332.4L457.7,337.3L457.7,342.1L459.0,344.2L458.8,346.4L462.6,343.4L466.4,340.4L470.2,337.5L474.0,334.5L476.8,329.9L479.6,325.3L482.4,320.6L485.2,316.0L483.8,311.4L482.5,306.8L477.8,307.3L473.2,307.7L468.6,308.2L464.0,308.6L462.3,309.5M389.2,385.3L393.0,384.6L394.8,385.6L398.1,385.6L401.4,385.6L404.7,385.6L407.3,386.4L409.9,387.2L412.8,386.7L415.7,386.2L418.9,385.9L420.3,386.7L417.7,387.0L415.7,387.2L413.0,387.6L410.4,388.0L410.2,392.9L410.0,397.8L407.8,397.8L407.6,401.4L407.5,405.0L407.3,409.8L407.1,414.7L406.0,415.2L402.6,415.7L400.1,415.2L399.1,415.2L397.0,415.7L395.4,410.7L393.9,405.6L392.3,400.6L390.7,395.5L389.1,390.4L387.4,385.4L389.2,385.3M420.3,386.7L420.3,387.2L422.2,391.5L424.6,393.8L426.1,396.5L429.2,398.3L425.9,399.6L423.5,402.0L422.3,404.6L420.1,407.3L417.6,407.5L414.3,406.5L411.9,408.1L409.6,410.4L408.9,410.4L408.3,407.0L407.5,405.0M432.3,407.5L433.2,407.8L434.5,408.3L434.6,410.4L432.7,411.8L431.7,410.4L432.0,408.6L432.3,407.5M422.6,417.8L423.8,416.2L426.2,415.2L428.1,417.0L427.2,419.4L425.1,420.5L423.4,419.7L422.6,417.8M149.3,301.4L150.0,299.9L149.6,299.5L151.0,297.3L154.0,297.3L154.0,296.5L152.0,294.3L153.0,294.3L153.2,292.8L157.4,292.8L156.8,297.8L157.4,297.8L158.1,297.3L158.9,298.3L156.3,301.3L155.9,301.8L155.3,302.3L154.0,303.5L153.0,304.7L148.6,302.3L149.3,301.4M190.9,291.8L191.5,286.5L194.8,286.5L198.2,286.5L198.0,287.7L198.1,289.1L197.6,290.7L197.2,291.0L197.5,292.2L197.4,293.6L194.2,292.7L190.9,291.8M218.0,310.9L221.3,310.9L221.2,313.5L217.9,313.5L218.0,310.9M200.6,388.2L201.4,387.0L202.5,385.9L203.9,388.6L205.3,391.2L205.3,393.8L206.5,395.9L207.8,399.9L209.4,399.9L211.2,397.3L214.0,398.0L215.8,399.9L216.5,397.8L219.0,397.8L219.5,398.3L222.7,400.7L225.9,403.1L230.8,407.0L231.7,406.7L230.1,411.8L232.5,412.0L234.9,412.3L236.2,412.0L238.6,407.3L240.5,408.1L240.8,411.2L238.4,413.3L236.4,414.9L233.4,419.4L232.9,421.5L233.1,425.2L232.9,427.1L233.3,429.3L234.5,431.5L238.3,433.4L240.6,436.7L242.9,440.0L243.1,445.2L243.4,450.4L243.8,455.7L244.3,460.8L244.8,466.0L245.4,471.1L246.2,476.2L247.1,481.2L248.2,486.2L249.3,491.1L250.5,496.0L246.3,494.8L242.0,493.6L237.6,492.4L233.3,491.1L228.9,489.9L224.5,488.7L220.0,487.4L215.6,486.2L211.1,485.0L206.5,483.7L204.3,478.8L202.1,473.9L200.1,469.0L198.3,464.0L196.5,458.9L194.8,453.9L193.2,448.8L191.7,443.7L190.4,438.6L189.2,433.5L188.0,428.3L187.0,423.2L186.1,418.0L185.4,412.9L184.7,407.8L184.2,402.6L183.8,397.5L183.4,392.4L183.1,387.2L187.4,387.5L191.8,387.7L196.2,387.9L200.6,388.2" fill="none" stroke="#3d3d3d" stroke-width="0.45"/>
<path d="M125.1,161.1L120.0,165.3L115.0,169.6L110.1,173.9L105.3,178.3L100.6,182.8L104.2,182.7L104.4,185.5L107.2,184.5L109.6,184.0L109.8,184.7L110.2,187.4L109.7,190.8L110.2,193.3L111.2,193.6L109.9,195.0L107.5,196.5M111.6,211.0L115.6,211.0L119.7,211.0L123.8,211.0L127.8,211.0L131.9,211.0L136.0,211.0L140.0,211.0L144.1,211.0L148.1,211.0L152.2,211.0L156.3,211.0L160.3,211.0L164.4,211.0L168.5,211.0L169.0,209.9L169.2,211.7L172.3,212.0L175.9,213.0L178.6,213.5L181.4,212.8L184.2,214.6L187.2,216.4L188.2,217.4L188.9,218.7L190.4,220.5L189.5,223.5L188.7,226.5L185.6,229.1L186.8,229.9L190.8,228.4L194.9,227.0L195.3,225.7L198.2,225.3L201.1,224.9L201.8,223.6L206.0,221.3L209.4,221.3L212.9,221.3L214.7,220.2L217.5,216.9L219.9,214.9L221.8,215.2L222.4,215.8L221.2,219.5L222.1,221.0M102.5,253.9L105.3,253.7L108.0,253.5L107.6,254.0L111.2,255.6L114.8,257.1L118.0,257.1L121.2,257.1L121.6,255.9L125.4,255.9L128.0,259.1L128.4,261.7L130.4,263.5L132.8,261.2L135.2,261.2L136.4,264.6L138.0,267.2L138.3,270.1L142.3,271.5M157.4,292.8L157.4,292.4L158.6,291.8L159.6,291.0M155.9,301.7L157.1,302.4L158.5,303.0L159.5,303.2L159.3,304.4M160.3,305.6L161.8,304.7L163.5,303.0L165.5,302.0L167.0,301.0L168.6,300.7L170.3,300.2M163.6,310.5L165.9,310.6L167.5,311.3L168.3,311.0M169.6,318.7L169.8,317.1L170.0,315.8L170.7,314.6M182.6,316.8L182.9,318.9L181.1,320.8M197.1,308.5L194.7,310.5L193.8,313.4L192.8,315.2L193.8,318.7L193.9,320.2L197.2,321.3L199.3,321.3L200.8,323.7L204.5,323.4L205.1,326.6L204.4,327.9L205.5,330.8L204.3,332.4L205.2,334.0L206.1,336.6M206.1,336.6L203.3,335.3L199.6,335.3L199.6,336.9L201.0,338.2L199.1,338.4L199.1,340.3L200.3,342.7L199.8,346.7L199.5,350.8M199.4,350.9L198.3,349.8L197.3,347.7L194.0,346.1L190.7,343.2L188.6,341.3L186.7,340.0M186.7,340.0L184.2,338.7L181.9,337.7L178.6,335.9M186.7,340.0L186.7,342.3L186.1,344.0L183.8,346.6L180.8,347.4L179.6,349.0L179.0,351.9L176.9,351.6L175.3,350.8L175.0,349.3M222.9,317.2L223.3,317.9L221.4,319.7L222.0,321.0L220.1,322.1L219.8,324.2L221.0,326.0M221.0,326.0L220.2,327.9L217.9,328.7L216.0,329.2L214.4,329.5L212.7,328.9L211.3,328.7L213.1,333.4L214.5,333.4L213.1,335.8L210.7,337.7L207.7,337.8L206.1,336.6M221.0,326.0L222.8,328.2L223.4,330.8L222.7,332.6L223.1,335.0L225.2,336.6L227.5,336.1L229.4,334.7L230.6,334.7M229.4,323.9L228.9,326.6L227.2,329.2L228.1,331.1L229.0,332.4L230.6,334.7M230.6,334.7L232.0,334.5L234.1,333.2L235.5,333.7M199.4,350.9L197.6,351.6L195.1,352.6L192.6,353.5L191.5,356.2L190.5,359.0L191.0,361.9L191.6,364.8L194.4,364.8L198.4,365.1L198.8,368.8L200.9,368.6M200.9,368.6L203.2,372.7L202.9,374.0L203.1,378.0L202.2,380.4L203.2,382.0L202.5,385.9M200.9,368.6L203.5,368.8L207.9,365.6L210.7,365.6L211.6,370.1L214.1,372.7L217.0,374.0L219.4,375.4L222.4,376.2L223.3,379.6L223.6,382.7L227.7,382.7L228.1,385.4L230.2,387.8L229.2,392.0M229.2,392.0L226.8,390.7L223.8,391.1L220.9,391.5L219.7,393.8L219.4,397.5L219.0,397.8M229.2,392.0L230.1,394.4L230.2,398.0L232.5,398.3L235.0,398.6L235.9,402.8L238.1,402.8L238.9,403.3L238.6,407.3M233.4,419.4L235.2,419.1L238.2,421.3L240.7,422.8L243.7,425.5L244.8,427.6L244.3,428.6M209.4,399.9L209.9,402.5L207.2,404.4L207.3,408.3L207.0,411.5L205.8,414.7L205.6,418.9L205.3,422.8L207.2,426.8L207.8,429.4L207.3,432.1L207.9,436.0L207.7,439.4L208.5,443.9L208.4,446.5L209.6,450.4L211.3,454.3L211.8,457.0L213.3,460.1L213.2,462.1L213.3,465.2L212.5,467.3L213.2,469.8L215.1,472.4L217.0,473.7L218.6,475.9L220.7,476.2L223.9,476.7L226.2,477.0M226.2,477.8L227.4,480.7L228.6,483.5L228.9,484.2M343.2,229.3L344.7,228.8L348.1,229.2L349.0,230.1L347.4,231.7L347.6,233.5L347.1,235.4L346.0,235.4L347.0,237.2L346.4,238.5L347.0,239.6L345.9,240.9L346.1,241.7M358.4,225.4L359.2,226.2L360.7,226.7L363.6,227.3L365.3,227.8L367.5,228.0L368.9,228.0M367.2,205.6L367.8,206.6L369.6,207.5L370.7,208.4L371.9,208.4L372.1,208.9L373.3,209.7L373.9,209.7L375.1,209.8L376.4,210.5L377.6,211.0L378.9,211.0L377.8,214.6M377.8,214.6L376.6,215.1L374.8,217.1L374.6,218.2L376.2,217.7L376.7,218.9M376.7,218.9L376.3,220.0L377.0,221.5L376.6,222.8L377.9,224.4M369.0,205.0L370.8,204.8L372.2,204.8L373.8,205.4L374.0,206.5M374.0,206.5L374.9,207.1L374.5,208.1L373.9,209.7M374.5,208.1L375.3,208.9L375.1,209.8M374.0,206.5L374.4,205.9L373.9,203.8L375.7,203.6L376.1,202.8L375.5,202.1L376.0,201.8L376.4,200.3M379.1,196.0L380.7,196.3L381.5,196.3M390.0,198.5L390.6,200.1L390.1,201.3L391.1,201.8L391.5,203.6L392.3,205.9M392.3,205.9L390.9,205.9L389.3,206.6L386.8,207.6L387.5,208.9L388.6,210.2L390.3,211.5M390.3,211.5L389.5,212.5L388.6,213.0L388.9,214.8L387.2,214.6L385.0,215.1L383.2,215.3L381.9,214.8M381.9,214.8L379.8,214.3L377.8,214.6M376.7,218.9L378.6,218.9L379.5,217.7L380.8,218.9L381.8,217.9L383.7,217.4L383.8,216.4L381.9,215.8L381.9,214.8M383.8,216.4L384.9,216.6L387.3,215.8L390.5,217.4M390.5,217.4L392.4,217.7L394.6,216.9L395.4,216.5M390.3,211.5L392.2,212.0L392.7,211.0L394.8,211.6L396.7,212.0M396.7,212.0L397.2,213.5M390.5,217.4L390.4,219.2L390.5,220.0M390.5,220.0L392.5,219.7L394.0,220.0L394.7,218.2L396.5,217.4M395.1,220.8L396.2,221.3L398.0,220.9L399.7,221.0L401.2,221.1L401.9,221.5M395.1,220.8L395.2,222.1L396.1,223.3L397.1,224.4L398.6,225.4L399.3,226.5L400.4,227.0L401.4,227.9M401.9,221.5L402.6,220.8L401.4,218.9M401.9,221.5L402.8,222.8L403.4,224.1L402.6,225.2L401.7,226.5L401.4,227.9M402.6,225.2L404.4,226.5L405.1,227.0L404.5,227.5L403.7,227.5L403.1,228.6M405.1,227.0L406.7,228.3L408.0,228.6L409.9,228.0M404.2,218.3L405.4,219.2L406.8,220.8L407.1,221.8L409.2,222.1L409.8,223.3M409.8,223.3L409.3,224.4L410.7,226.0L409.9,228.0M405.7,228.8L405.9,230.9L407.1,232.1M405.2,235.1L406.2,234.0L407.1,232.1M407.1,232.1L409.1,231.4L411.0,230.9L413.3,230.4L416.1,230.9L417.8,230.8L418.1,229.9M411.0,230.9L409.9,228.0M418.1,229.9L419.5,229.1L421.6,229.1M418.1,229.9L417.8,230.8L417.8,232.2M409.8,223.3L411.6,224.4L413.7,224.7L415.8,224.8L417.8,223.9L419.5,223.6L422.3,224.5M409.1,213.7L410.3,213.5L412.4,213.7L414.4,213.8L416.6,212.9M416.6,212.9L418.7,214.8L420.2,216.6L420.9,220.0M416.6,212.9L418.8,212.4L421.4,213.5L422.2,214.8L423.6,217.1L424.5,217.7L422.1,218.7L421.8,220.5M420.9,220.0L424.1,220.8M392.3,205.9L395.0,206.6L395.5,207.6L396.4,207.4L397.9,208.4L400.3,209.7M400.3,209.7L401.7,209.4L402.8,210.5L404.8,209.9L408.1,210.7M408.1,210.7L408.2,209.4L409.9,207.1L410.6,206.4L409.4,204.6M408.3,198.5L408.0,197.8L406.8,197.4M396.7,212.0L397.2,211.2L398.4,211.2L399.7,209.7L400.3,209.7M407.3,212.5L408.1,210.7M402.7,193.2L404.5,192.3L407.4,192.6L410.3,192.8L413.6,194.1M408.3,188.6L409.5,188.4L411.1,188.6L413.5,189.4L414.5,189.6M383.6,186.2L384.2,184.0L385.3,182.3L384.7,179.9L384.4,178.0L383.9,175.2L386.7,172.8L386.9,171.7L387.6,169.4L389.2,168.2L390.5,165.5L392.8,163.7L394.6,163.9L396.2,162.6M396.2,162.6L397.6,162.1L400.2,163.2L402.3,164.1L403.3,165.9L403.3,168.2L404.6,169.8M397.0,162.5L398.6,161.9L400.2,163.0L402.6,163.0L404.5,163.5L405.7,161.9L406.6,160.6L408.8,160.2L409.8,160.8L411.2,161.5L411.1,162.5M348.0,195.0L348.5,196.3L347.5,197.3L348.4,198.0L349.8,198.0L350.4,198.3M358.4,247.5L358.2,249.3L359.5,253.5L356.6,255.1L353.9,256.2L353.7,257.7L351.0,259.8L348.7,261.2L345.4,262.2L342.7,264.1L342.6,266.8M380.9,242.5L380.3,243.5L380.6,246.9L380.4,248.5L378.7,249.8L379.0,251.9L380.6,254.0L382.4,255.1L383.4,260.4M389.4,277.8L386.1,280.1L382.7,282.4L379.3,284.6L375.4,288.6L371.8,289.1M396.3,279.1L396.9,282.0L397.6,284.9L398.1,287.0L397.7,291.0L397.3,294.9L396.5,297.6L394.2,300.7L393.6,303.6M393.6,303.6L392.0,304.4L390.6,304.9L387.6,304.4L384.4,306.0L381.8,305.2L379.3,305.2L377.6,304.2L374.9,303.1L371.6,304.2L370.5,306.5L370.5,308.9M370.5,308.9L369.3,308.1L367.7,307.6M367.7,307.6L366.8,306.3L364.5,305.5L363.3,304.2L362.6,301.8L362.6,300.5M349.4,312.3L351.3,314.2L353.8,313.7L355.9,314.7L355.7,310.7L359.6,310.7L362.2,310.7L364.2,310.7L365.4,309.4L367.7,308.4L367.7,307.6M355.9,314.7L356.4,318.1L354.7,321.6L354.7,324.2L355.4,326.6M344.7,328.2L344.5,326.3L342.4,323.1L342.9,320.5L342.4,319.5L343.1,317.3L344.1,317.3L343.6,315.0L344.5,312.9M362.2,310.7L363.1,312.9L363.6,317.9L363.6,321.6L365.0,323.7M364.2,310.7L365.4,313.4L365.9,316.0L365.9,318.8L365.9,321.6L366.3,323.4M368.4,322.9L368.4,319.2L368.4,316.0L369.8,313.9L370.5,312.1L370.5,308.9M335.4,321.6L337.5,319.2L338.2,317.3M338.2,317.3L337.3,315.8L336.2,313.7L333.2,313.7L331.3,315.9M338.2,317.3L340.1,317.9L340.3,320.2L342.4,319.7M327.4,311.0L328.8,309.2L330.4,308.9L330.5,306.3M330.5,306.3L333.5,307.1L335.8,307.1M323.5,307.1L326.3,307.1L330.5,306.3M393.6,303.6L394.8,305.2L395.0,307.1L396.0,308.4L393.7,312.9L392.8,316.0L391.4,317.1L390.5,319.5L388.9,322.1L386.8,321.0L384.9,323.4L382.9,327.1L382.2,327.6M394.8,305.2L395.7,307.3L396.9,308.6L397.2,312.1L395.1,313.4L398.1,313.7L398.4,317.1L399.3,319.7M398.2,320.0L400.5,319.7L402.8,318.9L405.1,318.7L406.5,316.3L409.3,315.8L410.9,314.4L412.5,312.1L414.3,310.7M398.2,320.0L396.6,323.1L396.1,325.3L395.9,329.2L397.1,331.8L399.7,334.0M385.0,333.7L388.5,334.0L392.9,333.7L395.9,334.2L399.2,335.0L399.7,334.0M399.7,334.0L400.8,330.5L405.2,330.3L405.2,328.7L407.5,326.3L409.9,328.2L413.4,328.7L415.7,327.6L419.2,326.6L421.0,325.8L423.8,326.6L425.9,326.3M425.9,326.3L424.9,324.5L423.3,322.6L420.7,320.8L419.0,316.3M425.9,326.3L428.5,328.2L430.8,327.6L433.9,330.5L435.5,330.0L437.8,329.7L440.1,329.7L441.3,328.7L443.6,327.6L442.4,325.3L443.5,323.9L441.2,320.8L438.8,319.2L439.5,317.6L441.3,314.7M446.4,302.0L448.7,302.3L450.5,301.0L452.4,301.0L454.5,301.5L456.9,304.2L458.1,305.5L460.2,306.8M460.2,306.8L458.9,309.2L460.2,310.7L461.6,310.7M460.2,306.8L461.8,306.3M443.6,327.6L445.9,328.2L449.5,330.3L451.8,330.3L454.1,330.5L457.1,328.7L459.7,329.3M441.3,328.7L442.5,331.8L443.7,334.5L442.3,337.1L441.4,339.0L441.1,342.4M441.1,342.4L445.4,345.0L449.7,347.7L453.4,352.2M433.9,330.5L433.9,333.4L435.1,334.2L432.0,337.4L431.1,340.8L431.1,343.5M431.1,343.5L433.2,342.4L437.2,342.4L441.1,342.4M433.2,342.4L433.9,346.1L433.4,349.0L432.4,351.4M429.7,347.1L431.1,343.5M429.7,347.1L430.3,351.6M432.4,351.4L431.0,354.3L431.2,356.9L433.0,359.5L433.7,361.6M433.7,361.6L436.4,363.5L438.7,364.6L440.8,365.1M442.3,370.1L445.1,370.1L449.0,370.4L451.3,369.6L455.8,367.5M440.8,365.1L439.6,367.5L439.3,370.1L438.5,372.7L438.2,375.4L440.2,378.0L441.8,378.0L441.9,380.6L443.1,384.9L443.9,382.0L444.7,379.3L443.5,375.4L442.3,370.1L441.7,366.1L440.8,365.1M433.7,361.6L429.5,361.9L429.0,365.1L428.0,368.8L429.3,371.4L431.1,371.9L431.0,375.1L427.4,372.7L425.8,371.9L423.5,371.1L421.0,369.6L418.7,369.0L417.8,368.5L414.1,368.8M412.8,374.0L412.8,378.1L412.8,382.2L415.7,386.2M390.5,355.6L392.4,355.3L396.3,355.3L400.3,355.3L402.4,359.5L404.9,358.9L407.5,358.2L409.8,359.0L412.8,359.0L412.8,361.9L412.7,364.8L414.1,368.8L417.5,368.5L417.6,371.3L417.6,374.0L415.2,374.0L412.8,374.0M420.3,386.7L423.0,387.0L425.4,384.6L428.3,382.0L432.2,380.9M432.2,380.9L431.8,378.8L434.9,377.7L438.2,375.4M432.2,380.9L431.2,382.5L434.5,383.1L437.9,383.8L437.5,387.2L437.8,390.9L436.4,394.6L433.5,398.8M429.2,398.3L433.5,398.8M433.5,398.8L434.8,403.1L434.6,407.5M434.6,410.4L436.4,410.6M390.1,352.9L392.4,352.4L395.1,351.8L397.8,351.1L398.8,348.3L399.9,345.6L401.3,342.9L403.6,339.8L403.9,335.8L404.3,333.4L405.2,330.3M388.0,350.0L389.6,349.3L391.3,346.1L394.5,346.4L395.0,343.5L395.9,341.1L394.5,339.2L395.7,336.3L392.9,336.6L393.1,334.0M385.0,337.1L388.5,337.1L388.5,334.0M440.6,262.0L441.2,256.7L440.9,253.5M439.8,252.5L441.3,251.9M440.6,262.4L443.1,262.7L444.9,260.6L446.8,259.3L444.5,256.7L448.4,255.4L449.2,254.8M449.2,254.8L447.9,251.7M449.2,254.8L452.2,255.6L455.8,257.7L459.1,260.2L462.4,262.7L466.4,263.0M466.4,263.0L468.8,260.4L469.5,260.6M466.4,263.0L470.9,264.6M454.4,241.9L456.8,241.4L458.6,242.2L459.6,241.7L459.0,240.6M478.6,275.1L479.3,275.9L481.7,279.4L484.8,279.6L487.9,279.9M450.6,230.4L452.7,230.4L455.0,231.4M458.1,230.9L459.2,230.9L461.4,231.4L461.5,229.6M458.5,235.1L457.6,235.9L456.9,235.9M498.4,260.9L502.2,262.2L505.5,262.0L508.0,261.4L510.5,260.9L510.6,258.0L513.4,256.4L516.2,255.6L516.8,251.4L518.7,250.1L518.4,248.0L519.1,246.1L518.1,244.8L518.3,243.0L520.3,242.2L523.4,242.5L525.0,241.1M517.2,277.3L519.9,275.7L522.9,275.7L522.9,272.5L520.9,269.9L518.9,268.6L520.8,265.9L524.0,265.4L526.6,260.9L528.3,258.3L528.0,255.9L529.3,254.6L527.6,253.3L525.8,252.2L526.0,250.1L524.6,248.8L525.3,247.5L527.6,246.1L530.9,246.1M525.2,241.9L527.5,243.2L530.9,246.1M530.9,246.1L533.1,246.1L537.3,249.3L536.4,252.7L536.2,254.0L538.1,257.2L540.8,259.3L543.2,260.1M541.9,263.8L541.3,260.6L543.6,260.1L546.7,260.9L550.4,262.5L554.3,265.1L556.8,265.9L560.4,266.2M541.9,263.8L545.0,265.7L548.0,267.2L550.1,267.5L552.6,267.8L555.1,269.1L557.5,269.9L561.2,270.1L560.4,266.2M560.4,266.2L562.5,267.8M562.5,267.8L563.4,265.7L565.7,265.7L568.6,266.4M562.5,267.8L563.0,269.1L566.4,269.1L569.8,269.1L568.6,266.4M568.6,266.4L570.0,268.8L573.9,267.0L576.7,265.7L578.0,263.3L581.2,265.4M594.8,280.7L597.9,280.2L600.1,279.6L602.2,278.8L605.1,279.6L604.9,281.2L607.0,282.8L608.6,283.1M610.5,301.3L610.7,305.5L608.5,308.4L607.5,310.7L604.2,312.3M600.4,309.2L599.6,307.6L599.7,304.2L601.1,301.8L605.0,302.0M540.7,210.5L543.1,212.2L546.7,213.8L550.2,217.4L551.8,220.5L556.4,221.5L559.2,222.3L562.0,223.1L566.0,227.3L569.9,227.4L573.9,227.5L577.8,227.8L580.5,228.6L583.2,229.3L585.7,230.1L589.0,228.0L591.4,228.0L593.9,228.0L595.7,227.0L597.6,224.7L595.6,222.8L597.0,221.3L600.3,221.5L602.4,217.9L604.9,217.1L607.7,216.6L609.0,216.1L605.1,213.8L602.8,214.3L600.2,214.0L598.5,213.0L598.3,208.7M532.5,228.8L530.5,230.4L528.8,231.7L526.5,232.7L524.0,232.7L521.0,234.3L520.6,235.6M520.6,235.6L520.4,235.9M627.7,327.6L628.7,329.2L629.8,327.9L630.5,328.4L629.9,326.6" fill="none" stroke="#3d3d3d" stroke-width="0.45"/>
<path d="M342.6,266.8L342.6,267.8L342.6,271.2L338.8,271.2L335.0,271.2L334.9,274.6L334.9,277.9L332.6,279.4L332.5,283.5L327.9,283.5L323.4,283.5L321.0,284.4L323.5,279.4L325.9,274.5L328.3,269.5L330.7,264.6L332.5,266.8L335.9,266.8L339.3,266.8ZM473.8,229.6L474.7,228.8L476.9,228.3L480.5,230.9L481.6,230.9L483.7,230.9L486.1,227.8L489.7,229.3L493.4,231.2L496.4,234.6L500.7,237.2L502.9,239.0L506.7,241.1L507.0,241.4L504.8,241.4L503.2,241.9L502.4,244.3L500.3,245.3L498.8,246.7L496.2,245.9L495.7,243.2L493.9,243.2L490.3,240.9L486.3,239.0L482.5,239.6L481.3,241.1L479.4,241.4L476.4,238.2L474.6,233.0ZM629.1,234.8L629.2,234.3L630.8,232.7L631.8,230.6L633.8,230.4L634.3,229.1L635.9,228.6L637.1,228.0L638.1,227.5L639.4,228.3L640.5,229.1L640.7,232.3L640.9,235.6L639.6,238.0L638.2,238.8L636.9,239.8L635.8,240.2L632.3,240.1ZM236.6,324.6L236.5,326.6L236.0,329.2L235.5,333.7L237.6,333.7L239.0,334.0L241.1,331.3L242.1,328.7L242.8,327.9L240.3,325.7L237.8,323.4Z" fill="url(#hatch)" stroke="#c8c8c8" stroke-width="0.45"/>
</g>
<path d="M66.5,170.3L70.1,169.4L73.6,168.4L76.2,169.1L80.7,168.0L79.1,166.6L78.1,164.8L77.6,164.0L80.4,163.4L83.2,162.8L88.2,161.0L92.1,159.7L94.9,159.2L97.7,158.6L100.9,158.0L104.0,157.4L105.2,157.9L106.3,158.4L108.3,158.5L110.2,158.6L112.4,159.4L114.6,159.6L116.8,159.8L119.1,160.0L121.4,160.1L123.3,160.6L125.1,161.1L128.1,161.5L130.1,162.6L133.5,161.9L136.3,161.2L139.3,161.2L144.0,160.1L146.4,159.6L148.9,159.0L149.7,159.9L150.6,161.7L153.2,160.8L154.0,161.7L156.5,161.2L159.1,160.8L161.5,161.7L164.0,162.6L166.3,162.8L167.0,164.1L165.6,165.3L168.6,165.3L171.6,165.3L174.2,164.8L176.7,164.4L179.7,163.0L180.8,163.7L182.4,164.3L184.0,164.8L185.7,165.2L187.4,165.5L190.2,165.4L193.0,165.3L196.1,163.7L198.1,164.4L201.3,161.5L204.5,158.8L207.6,156.2L208.4,158.2L209.3,159.9L210.9,162.1L211.4,163.7L211.3,166.6L216.7,163.5L219.9,160.8L221.6,161.4L223.3,161.9L223.4,164.1L221.0,167.1L216.4,168.7L214.1,168.4L211.9,168.2L208.5,171.7L204.9,173.8L202.6,174.1L200.3,174.5L196.0,176.8L191.2,179.2L187.2,182.3L184.8,185.2L186.6,186.7L186.2,190.3L189.2,190.6L192.0,192.3L193.9,193.2L195.8,194.1L199.2,195.0L202.2,195.5L200.9,198.3L200.7,201.8L201.2,204.1L203.4,204.6L205.5,202.1L208.6,197.0L212.4,194.3L215.2,191.8L216.8,187.7L217.3,184.7L219.3,181.1L219.9,178.0L221.8,177.5L225.2,178.0L228.7,178.3L230.8,180.4L233.7,180.9L232.2,184.7L233.5,187.2L235.3,187.7L237.8,186.4L240.6,184.0L242.5,182.8L242.7,185.9L244.1,188.4L244.2,191.3L245.4,194.1L247.9,196.0L249.8,197.8L251.2,199.8L251.3,202.3L248.4,204.6L244.9,205.4L241.1,207.6L238.5,207.8L236.0,207.9L232.0,207.6L228.3,207.9L225.5,209.9L222.2,211.7L219.4,213.3L216.2,215.8L218.6,215.1L222.1,212.8L226.9,210.7L230.8,211.2L230.8,212.2L228.6,213.5L226.8,213.8L229.2,214.0L228.6,216.6L229.2,217.9L230.2,219.2L233.3,219.5L236.9,216.4L237.9,218.7L235.0,220.5L232.2,221.3L229.3,222.1L224.3,224.9L223.7,222.6L226.7,220.5L224.1,220.8L221.9,221.8L218.5,223.1L214.9,224.7L212.6,227.0L211.9,228.0L213.3,229.6L212.0,230.4L209.8,230.6L207.5,231.2L204.4,232.2L203.7,233.0L202.9,234.8L200.5,237.1L199.8,238.0L198.3,240.1L197.0,241.9L196.5,244.3L196.6,246.7L194.7,247.7L192.8,248.5L190.3,250.4L187.6,251.7L184.8,253.8L181.9,255.9L180.5,259.1L180.2,261.4L181.0,264.9L181.3,269.3L180.6,272.2L179.3,273.6L178.2,273.0L177.4,271.5L176.8,269.6L175.9,267.0L176.3,264.9L175.4,262.7L174.3,260.6L171.9,261.4L170.9,260.6L169.0,259.6L165.7,259.3L163.6,259.6L161.9,260.1L161.8,263.3L159.4,263.0L156.8,262.0L153.3,261.3L150.0,262.2L147.9,263.5L144.5,265.7L142.9,267.8L141.8,271.5L140.4,275.7L139.4,280.2L139.9,284.4L141.3,287.5L141.9,289.1L143.6,290.7L145.2,291.9L148.3,291.2L151.3,291.0L153.9,289.1L155.5,286.0L155.7,284.4L158.3,283.6L161.3,283.1L163.4,283.1L163.9,284.1L162.2,286.5L161.5,288.6L160.3,290.4L159.5,291.8L159.4,293.9L158.7,296.2L157.4,297.8L158.9,298.4L160.6,298.1L163.3,298.1L165.9,297.7L168.1,298.6L170.0,300.2L169.6,302.8L169.0,306.8L168.2,310.7L168.8,312.1L170.6,314.4L172.3,316.2L174.2,316.3L175.8,315.5L177.7,314.4L180.0,315.0L181.6,316.3L182.6,316.8L181.1,320.8L180.1,318.4L178.6,316.3L176.7,317.3L175.4,318.7L176.1,320.2L174.2,320.8L172.4,318.7L169.6,318.4L168.1,317.3L167.9,316.0L165.7,314.4L164.6,313.7L163.2,313.1L163.6,310.7L161.9,308.6L160.3,306.3L159.7,305.2L157.6,304.9L155.4,304.2L153.1,303.1L150.9,302.6L149.4,301.5L147.8,299.4L145.2,297.3L143.0,297.0L140.3,298.4L136.9,297.6L134.3,296.0L131.7,294.9L128.8,293.1L126.2,292.0L123.7,290.2L121.7,288.3L120.5,286.0L121.6,284.4L121.6,281.7L121.3,279.9L120.0,278.0L118.2,275.1L116.8,273.3L114.9,271.5L115.0,269.1L113.3,266.2L112.1,264.6L110.5,263.3L110.0,260.1L110.0,257.5L107.8,256.7L106.9,255.9L106.6,258.3L106.3,260.6L107.6,263.0L108.6,265.1L109.2,268.0L110.2,270.4L111.0,274.9L111.7,275.9L113.3,278.3L112.0,279.4L111.4,277.8L109.6,275.4L108.0,274.4L108.2,271.2L106.7,269.1L105.4,267.0L105.0,266.2L103.1,266.4L104.7,264.6L104.0,262.2L103.4,259.8L102.9,257.2L102.9,255.9L102.4,253.8L102.6,251.9L101.3,250.6L100.9,250.1L99.1,249.0L96.8,248.8L97.1,246.4L96.1,243.5L96.4,242.3L96.1,240.6L95.5,239.6L95.1,237.2L96.1,234.8L95.6,233.3L96.9,231.7L98.3,229.1L98.8,227.0L101.5,223.9L104.0,220.0L105.3,217.9L106.2,216.1L107.3,212.5L109.3,213.3L110.5,213.5L112.5,211.5L111.6,211.0L112.0,209.7L110.4,208.4L109.3,207.1L107.2,205.9L106.9,204.1L107.5,201.8L107.5,199.5L107.4,197.5L107.5,196.3L107.4,194.5L107.4,192.3L107.5,190.1L107.9,187.7L107.9,185.7L103.8,187.7L102.4,186.9L102.1,185.0L100.4,184.2L98.9,183.5L95.2,183.5L93.4,182.6L91.9,181.4L89.5,181.4L86.9,182.6L83.5,184.0L80.6,185.0L77.6,185.5L81.1,182.8L85.5,180.9L83.1,181.4L79.6,182.8L75.2,185.2L71.0,187.4L66.9,188.9L62.7,190.8L57.3,192.8L53.7,194.1L49.2,195.0L45.4,196.0L41.0,197.0L40.0,197.0L44.8,195.5L48.6,193.8L53.6,192.3L58.9,190.1L62.3,189.1L65.1,187.4L64.3,186.4L62.1,186.4L59.1,187.2L57.2,186.9L59.2,184.5L57.7,183.8L57.4,182.3L58.3,180.6L57.8,179.7L60.6,178.3L63.8,176.8L66.1,175.9L70.0,175.2L72.9,174.9L75.2,173.5L74.8,172.8L72.2,173.1L71.0,172.6L67.9,172.8L66.5,172.4L68.2,171.0ZM182.6,316.8L183.9,317.1L185.1,315.0L186.9,312.9L187.7,311.3L188.9,310.7L190.3,310.0L192.4,310.0L195.0,308.4L196.5,307.1L197.6,308.1L197.1,309.2L195.6,309.7L196.3,311.0L196.6,312.3L197.6,311.0L199.6,309.2L200.2,307.8L201.0,309.4L203.7,310.7L204.1,312.1L207.1,311.8L209.6,312.9L213.1,311.8L215.9,311.5L217.8,311.8L216.6,312.3L218.4,313.4L220.6,316.0L223.3,317.6L225.1,319.7L226.4,321.8L228.2,323.1L229.4,323.9L232.2,324.2L234.3,323.9L236.6,324.5L238.9,325.3L241.2,327.1L242.3,328.7L243.2,330.5L244.3,334.5L245.7,335.3L245.9,337.1L244.5,339.2L246.8,340.3L249.2,341.1L249.6,342.4L251.5,341.3L254.3,342.4L257.3,343.5L259.0,345.8L260.9,346.1L264.4,347.1L266.7,347.4L269.3,347.4L272.5,349.5L275.6,352.4L278.4,353.2L280.3,354.3L281.1,358.2L281.3,360.9L280.5,364.0L278.7,366.9L276.0,370.1L274.3,373.5L272.3,375.9L272.2,379.3L272.6,383.3L271.9,386.7L271.2,391.2L270.2,393.3L268.8,396.5L266.9,399.1L265.4,400.4L263.2,400.4L260.9,401.2L258.8,402.5L256.6,403.3L253.8,405.4L252.5,408.3L252.7,412.3L252.5,414.9L250.6,417.3L249.4,420.2L248.0,422.8L246.3,424.9L244.6,427.8L243.7,430.2L241.6,431.9L238.7,431.8L235.6,430.7L233.3,429.2L233.4,430.7L236.0,432.9L237.2,435.5L238.4,436.0L237.6,440.2L235.7,441.5L232.6,442.3L229.9,442.6L227.7,442.3L228.7,444.7L228.8,446.8L226.0,448.4L223.2,447.3L223.5,449.1L225.6,451.2L227.5,452.0L227.6,452.5L225.6,452.8L225.4,454.9L225.4,457.0L223.2,458.5L222.1,460.8L222.8,462.4L225.2,463.4L226.9,465.5L225.4,468.6L225.2,470.9L223.3,471.9L223.4,473.7L226.2,477.0L226.1,477.7L227.5,479.2L229.5,481.0L232.3,482.5L235.0,483.5L232.9,484.0L230.2,484.5L227.4,484.7L225.0,483.7L222.0,482.7L219.7,481.5L217.1,479.7L214.0,477.7L212.5,475.7L210.2,472.4L208.7,469.1L207.2,466.0L207.1,463.4L207.1,461.4L207.2,459.8L207.5,457.2L207.5,454.3L205.8,451.7L205.8,449.9L204.1,446.5L204.2,443.9L202.6,440.0L202.8,437.3L203.0,433.9L203.6,430.2L203.7,426.8L203.0,422.8L202.5,418.9L201.8,414.9L202.4,412.3L202.3,407.0L201.9,401.7L202.2,396.5L201.4,391.2L200.8,388.0L198.1,386.4L195.1,384.1L191.7,381.4L188.8,379.8L186.7,376.7L185.6,374.6L183.5,371.4L181.9,368.2L180.0,364.8L178.5,361.4L176.7,358.7L174.8,356.9L173.3,355.3L173.0,352.2L175.0,349.3L175.2,347.7L176.3,346.4L175.6,345.3L174.0,345.6L173.7,343.5L175.1,341.1L175.8,338.7L176.7,337.1L178.1,336.1L178.9,334.5L181.7,332.4L182.5,329.5L182.1,327.4L182.2,323.9L181.8,321.8L181.1,320.8ZM110.2,212.5L107.8,212.0L106.7,211.0L105.1,209.4L103.9,207.9L104.0,206.4L106.4,206.1L108.5,207.4L109.5,208.9L110.1,210.7ZM101.1,203.3L100.6,200.8L101.3,198.3L103.6,198.3L102.2,200.8ZM240.3,214.6L243.5,214.6L246.7,214.6L247.6,216.4L250.1,214.8L251.4,216.9L253.3,216.6L253.8,214.0L252.5,213.0L253.4,210.5L249.8,208.9L249.9,205.9L249.8,204.3L246.6,206.4L244.2,208.7L241.2,212.2L242.7,212.2ZM231.7,208.7L234.0,209.7L236.4,210.7L236.9,209.9L233.7,208.7ZM229.2,216.6L231.8,217.4L233.8,217.7L232.5,218.7L230.0,217.9ZM208.7,171.0L212.3,169.6L214.3,170.5L214.1,172.8L215.7,173.4L217.3,174.0L217.4,175.2L215.1,174.7L212.4,175.3L209.8,175.9L208.5,175.2L207.5,174.0ZM254.8,168.0L253.3,166.6L251.5,165.0L250.2,163.9L248.9,162.8L247.8,161.2L248.0,159.5L246.6,159.0L245.1,158.6L244.0,157.1L242.2,156.8L240.4,156.4L238.0,155.2L235.6,154.5L233.2,153.9L231.7,152.8L229.9,152.5L228.2,152.2L225.8,152.8L223.4,153.5L221.0,153.9L218.0,155.4L217.7,157.5L218.7,158.8L219.9,159.9L221.0,160.6L223.3,160.6L225.6,160.6L228.4,161.2L230.2,161.7L232.0,162.1L234.4,163.7L236.1,165.0L236.9,166.6L235.1,168.7L231.9,170.5L229.5,170.7L227.2,171.0L224.5,171.7L224.3,173.3L226.7,173.1L229.1,172.8L231.0,174.5L232.8,175.7L234.8,177.1L237.8,178.3L239.5,178.6L241.2,179.0L243.9,177.3L242.5,175.4L241.0,174.6L239.6,173.8L241.6,173.7L243.7,173.5L245.6,175.4L247.9,172.6L246.6,171.0L244.6,169.8L243.6,168.4L246.2,168.6L248.7,168.7L251.0,171.0L253.4,169.1ZM227.5,165.0L231.4,164.4L231.6,165.9L228.7,166.4ZM237.7,153.2L236.1,152.8L234.4,152.4L231.5,153.0L233.0,153.7L234.5,154.3ZM275.6,136.3L274.4,135.7L273.1,135.2L270.7,135.1L268.3,135.0L265.9,134.9L263.4,134.9L261.0,135.0L258.5,135.0L256.1,135.0L253.0,135.3L250.0,135.5L246.9,135.7L243.9,136.0L240.5,136.4L237.1,136.9L233.8,138.4L235.3,138.9L236.8,139.4L238.5,139.9L240.1,140.4L241.7,140.9L238.4,141.8L236.3,141.7L234.2,141.6L231.6,143.2L232.1,144.1L232.7,145.1L229.9,145.6L227.1,146.1L228.3,147.1L231.0,147.0L233.6,146.9L236.2,146.9L238.3,147.1L240.4,147.3L243.2,144.9L245.8,144.2L248.5,143.6L251.9,142.4L255.9,140.5L258.7,140.0L261.3,139.4L264.8,138.8L268.2,138.2L270.8,137.7L273.3,137.3ZM238.2,137.7L235.8,137.7L233.4,137.6L229.9,138.1L226.4,138.6L222.7,140.3L223.2,142.2L224.9,142.7L226.5,143.2L228.9,142.8L231.2,142.4L235.4,139.4ZM239.1,147.1L237.1,146.8L235.1,146.5L232.1,146.4L229.1,146.3L227.0,146.5L224.9,146.7L222.2,147.4L219.6,148.1L215.9,150.1L218.1,150.3L220.2,150.5L222.4,150.7L224.8,150.7L227.1,150.7L229.5,150.7L232.3,150.6L235.2,150.5L238.0,149.1ZM218.0,152.0L215.3,152.1L212.6,152.1L209.9,152.2L207.3,154.5L208.7,156.0L211.5,154.7L216.1,153.2ZM207.9,151.8L204.2,152.3L200.4,152.8L197.3,154.3L197.0,156.2L198.4,156.9L199.9,157.5L204.6,156.0L205.8,153.9ZM193.5,159.9L191.0,159.0L190.3,156.4L189.7,155.1L189.1,153.7L186.1,153.9L183.0,154.1L181.1,153.7L179.1,153.2L175.7,153.8L172.3,154.3L167.7,156.9L167.3,158.2L167.7,159.0L162.9,160.4L164.3,161.5L166.6,161.7L168.9,161.9L171.2,162.1L173.6,162.7L176.1,163.2L179.7,163.0L183.3,162.8L185.8,162.8L188.4,162.8L191.4,161.2ZM199.7,161.5L196.5,161.2L193.3,163.0L194.9,164.1L197.5,163.5ZM171.8,151.4L169.6,151.3L167.3,151.2L165.0,151.2L158.5,154.9L157.1,157.1L159.3,157.7L163.3,157.1L166.0,156.6L168.7,156.0L172.0,153.9L172.4,152.2ZM199.1,147.7L198.1,147.0L197.0,146.3L193.3,146.8L189.6,147.3L186.9,147.0L184.3,146.7L180.3,147.9L179.2,149.9L181.3,150.1L183.4,150.3L185.5,150.5L188.3,150.5L191.0,150.5L193.5,150.1L195.9,149.7ZM210.5,149.3L211.9,146.7L209.3,146.9L206.8,147.1L204.9,148.7L206.9,149.7ZM215.9,149.3L214.3,149.0L212.7,148.7L211.5,150.5L214.9,150.3ZM189.3,144.7L187.3,144.8L185.2,144.9L180.9,145.8L176.6,146.7L176.7,147.7L179.3,147.5L181.9,147.3L185.8,146.7ZM214.4,142.2L211.2,142.4L208.7,143.7L210.8,143.8L212.9,143.9ZM219.6,142.8L217.1,142.4L214.9,144.1L218.2,143.9ZM182.5,291.5L183.4,291.0L185.5,291.1L187.0,291.8L187.2,292.6L185.8,292.6L184.8,293.1L183.5,292.3ZM208.0,291.0L211.6,291.2L211.5,292.3L207.9,292.3ZM183.8,269.3L186.3,269.2L186.0,269.9L184.0,269.9ZM187.7,268.8L188.2,269.9L187.6,271.2L187.1,270.1ZM184.9,273.6L186.0,273.8L186.0,275.9L185.0,276.5L184.3,275.1ZM188.5,272.5L189.5,273.3L189.6,274.6L188.8,273.6ZM190.1,277.5L191.1,278.8L191.2,279.4L190.6,278.8ZM190.7,274.9L191.2,276.2L190.9,276.5ZM193.9,283.8L195.4,284.4L195.3,283.6ZM54.3,174.5L55.7,174.9L57.1,175.4L58.0,175.9L54.8,176.1L53.2,175.4ZM4.8,289.7L7.2,288.3L5.8,286.4L4.9,287.8ZM4.2,284.5L5.7,284.9L4.6,285.6ZM1.0,282.8L2.1,283.6L1.2,283.7ZM-2.1,281.2L-0.9,281.3L-1.8,282.0ZM220.0,296.6L221.3,296.5L221.1,297.6L220.0,297.7ZM221.0,300.6L221.8,300.9L221.4,301.8ZM220.5,298.6L220.9,298.6L220.7,299.7ZM221.2,302.6L221.5,302.8L221.2,303.6ZM224.3,304.7L224.7,304.9L224.5,305.3ZM220.6,304.5L220.8,304.7L220.7,305.1ZM219.2,307.5L219.6,307.6L219.4,308.1ZM219.8,294.5L220.3,294.5L220.0,294.9ZM217.7,293.9L218.3,294.1L218.0,294.5ZM191.4,291.2L193.8,291.0L195.1,291.2L196.3,290.4L195.3,289.4L194.1,287.8L196.0,287.3L198.0,287.5L200.1,287.5L202.1,288.1L203.6,288.9L205.3,290.7L204.5,291.8L202.5,291.2L200.3,291.8L198.8,293.1L197.5,292.3L196.0,291.8L193.9,291.8ZM218.7,311.3L220.8,311.3L220.7,313.1L218.6,313.3ZM349.2,245.3L350.6,245.1L352.3,246.9L355.8,246.7L357.8,247.2L359.5,245.6L361.9,245.3L364.1,243.8L367.6,243.2L370.7,242.5L373.7,243.0L376.3,241.9L379.6,242.5L383.3,241.4L384.6,242.5L386.3,241.9L385.1,243.8L386.3,245.9L384.6,249.3L386.2,251.1L387.6,252.5L389.8,253.3L392.7,253.0L395.9,254.6L397.1,256.7L401.2,258.0L404.6,259.8L407.0,258.0L406.6,255.4L408.7,253.3L412.0,253.3L413.7,254.8L417.8,256.2L421.1,256.7L424.6,257.7L427.9,258.3L430.0,256.7L433.2,256.7L434.1,257.5L436.8,257.7L438.3,257.2L440.3,262.0L439.7,264.6L439.4,266.4L437.7,265.1L435.1,260.9L436.3,264.6L437.9,267.8L439.7,271.2L441.6,275.1L443.1,277.8L446.3,281.7L447.4,284.9L447.7,289.7L450.8,292.3L452.4,296.2L453.7,299.4L456.8,302.0L460.2,305.5L462.3,307.1L462.0,309.2L461.3,309.4L462.9,310.2L465.5,312.3L468.8,311.5L472.2,310.5L475.7,310.0L479.1,308.6L480.9,308.6L480.6,311.8L480.5,314.7L479.2,317.6L477.9,321.3L476.1,325.3L473.9,328.7L471.1,331.8L468.1,334.5L464.7,337.1L462.3,339.5L460.0,342.4L458.1,345.0L455.8,347.1L454.6,350.3L453.4,352.9L452.4,356.1L453.5,359.5L453.8,363.2L455.4,366.9L455.9,370.1L456.0,373.5L455.9,377.2L456.0,380.1L453.3,383.5L449.0,386.2L445.9,389.3L442.9,392.5L442.9,396.5L442.8,399.9L442.8,403.1L439.9,405.2L436.9,407.0L436.0,409.6L436.0,413.1L434.7,415.7L432.5,417.8L429.5,421.5L426.3,424.9L423.0,427.6L420.4,428.9L418.6,429.4L416.8,430.0L413.8,429.3L410.9,429.7L407.3,431.0L406.1,431.5L404.0,430.7L402.7,430.0L402.7,429.2L402.0,427.1L402.8,425.2L401.8,422.3L400.6,418.9L399.2,415.2L397.3,411.8L396.5,408.3L395.7,405.7L395.2,400.4L395.0,398.6L392.8,394.9L391.0,389.9L389.3,385.4L389.3,382.7L390.3,377.7L391.1,374.8L393.9,371.4L394.1,368.0L392.8,364.8L392.3,362.2L390.7,358.2L390.5,355.6L390.1,352.9L388.0,350.0L385.4,347.4L383.8,344.5L382.7,341.9L383.8,338.7L384.5,336.3L385.0,332.4L384.5,330.3L383.1,329.2L381.9,327.6L378.4,328.2L375.9,328.4L374.5,326.6L372.6,323.1L369.1,322.9L365.9,323.4L363.3,324.5L359.6,326.6L357.5,327.1L354.5,326.3L351.2,326.0L348.4,326.6L344.7,328.2L342.4,326.8L339.8,325.0L336.6,322.4L333.6,320.2L331.7,318.1L331.3,316.0L329.7,313.9L328.1,311.5L326.3,310.0L324.4,308.1L323.5,306.8L323.3,304.2L322.5,301.5L321.8,301.0L323.2,298.9L324.2,297.0L325.2,293.6L325.5,291.0L324.4,288.3L324.9,286.5L323.3,284.6L323.6,283.1L324.6,280.4L326.0,277.0L328.4,274.4L329.4,270.9L332.4,268.0L334.0,266.2L337.0,265.7L339.7,263.5L340.2,260.9L340.7,259.3L340.4,256.7L342.2,254.0L344.5,251.4L347.2,249.8L348.6,246.9ZM476.3,371.4L477.7,375.4L478.6,380.1L476.8,383.3L475.7,385.9L474.5,389.2L473.4,392.5L472.2,395.8L471.0,399.1L469.0,404.4L466.4,406.2L464.0,407.0L461.9,405.7L460.9,400.4L461.7,396.5L463.8,392.5L463.2,387.2L463.7,383.0L467.0,381.7L469.3,380.6L472.2,378.0L473.8,375.4L475.0,372.7ZM381.7,329.7L382.9,330.0L382.4,331.3L381.7,331.1ZM377.3,338.7L378.0,339.0L377.5,339.8ZM462.4,369.8L462.9,371.1L462.2,370.9ZM493.3,392.5L494.4,392.8L493.8,393.8L493.2,393.6ZM488.3,394.9L489.6,395.1L489.3,396.2L488.4,395.9ZM453.3,354.8L454.0,355.6L454.0,356.6L453.5,356.4ZM331.2,264.3L332.1,262.7L331.0,263.5ZM326.6,265.9L327.5,265.4L327.5,266.4L326.8,266.4ZM324.2,264.9L326.0,264.3L324.8,265.9ZM306.8,299.9L308.0,299.4L308.2,300.5ZM304.0,294.7L304.9,294.7L304.6,295.5ZM349.9,244.8L348.4,243.5L348.2,242.5L346.1,241.7L344.7,242.2L342.8,242.2L343.1,238.8L341.6,237.7L341.9,235.9L343.1,233.8L343.6,230.9L343.2,229.3L343.5,227.5L342.5,226.5L344.7,225.2L346.4,224.7L349.5,224.9L352.7,225.4L355.8,225.4L358.4,225.4L359.4,223.1L359.7,219.7L359.1,217.9L357.8,216.1L357.0,215.3L355.0,214.3L352.9,213.8L352.6,212.5L355.0,211.5L357.1,212.0L358.9,211.7L358.3,209.2L359.7,209.9L361.8,210.2L362.6,209.2L364.8,208.1L365.4,206.1L367.2,205.6L368.8,204.8L370.1,203.6L371.3,202.1L371.7,200.8L373.0,199.8L375.6,199.8L376.9,199.0L378.5,199.5L379.2,198.5L379.6,197.3L378.9,195.8L377.9,194.5L377.7,192.1L378.6,190.6L381.0,189.4L382.3,189.1L381.9,191.1L383.1,192.3L381.9,193.8L381.0,195.8L381.7,196.8L383.5,197.5L384.1,198.3L386.6,197.3L388.8,197.8L390.0,198.5L392.5,197.8L394.4,197.0L396.3,196.3L398.4,196.5L400.5,197.3L401.5,196.0L403.1,195.0L402.9,193.3L402.4,191.3L403.3,189.9L404.9,189.1L406.7,190.8L408.2,190.8L408.4,188.6L407.5,187.7L406.4,186.4L406.2,185.5L408.0,184.7L410.5,184.5L413.6,185.0L414.6,184.5L416.1,183.5L418.4,183.8L416.0,183.0L414.0,182.3L411.3,182.6L408.6,183.0L405.0,183.8L403.3,182.8L401.8,181.1L401.1,178.3L400.5,176.4L402.1,174.5L404.1,173.3L405.7,171.9L407.1,171.4L406.7,170.3L404.6,169.8L402.5,169.8L401.2,170.3L400.1,171.9L400.0,173.3L398.6,174.7L396.5,176.1L395.1,177.1L393.8,178.0L393.7,180.2L394.2,182.1L396.1,183.0L397.4,184.0L395.9,185.7L393.8,186.9L393.6,189.6L392.9,191.8L391.0,192.8L389.7,194.8L387.4,194.8L387.0,193.1L386.3,191.8L384.8,189.6L383.5,187.2L382.2,185.7L381.9,184.0L381.3,185.7L380.0,186.2L377.9,187.9L375.4,188.4L372.7,186.7L372.1,184.7L371.4,182.3L371.3,179.9L371.6,178.0L373.6,177.3L375.7,176.4L377.4,175.2L379.7,174.0L381.3,172.1L383.8,170.1L384.8,168.2L386.0,166.4L387.8,164.6L389.4,163.5L390.9,162.4L393.2,160.8L395.6,160.4L398.5,159.7L400.9,159.0L403.2,158.2L405.2,158.4L407.9,158.0L409.8,158.4L412.0,159.0L413.9,159.7L412.5,160.8L415.1,161.0L417.8,161.7L421.3,162.1L424.5,162.6L427.8,163.9L430.8,165.3L433.2,167.1L432.9,168.7L430.7,169.1L428.7,169.4L426.4,168.9L424.1,168.4L422.4,168.9L420.0,167.8L419.0,168.4L422.0,170.5L424.1,172.8L426.5,174.0L429.4,174.5L429.8,173.1L428.0,171.7L430.2,172.1L432.4,172.6L434.1,172.4L432.9,170.3L435.4,168.4L439.0,168.9L438.7,166.6L436.4,164.1L439.7,163.7L442.1,165.0L441.1,165.7L444.1,165.7L446.2,165.0L449.1,163.9L451.2,163.8L453.3,163.7L454.7,164.8L456.9,164.1L458.8,163.6L460.6,163.0L464.1,163.9L464.8,161.2L468.1,161.2L472.0,162.1L476.2,163.5L479.2,164.4L479.3,163.0L477.0,161.5L474.7,161.0L473.2,158.8L474.6,156.9L474.0,154.1L475.3,153.2L478.2,154.3L480.7,155.6L481.8,157.7L482.0,159.3L485.5,162.1L487.8,163.9L487.4,165.9L490.0,167.1L491.4,165.9L489.1,163.7L486.3,160.8L483.7,158.2L483.2,155.2L485.8,155.4L488.6,155.8L491.2,157.1L489.5,158.2L487.8,158.2L491.1,160.4L493.5,160.9L496.0,161.5L496.1,159.3L498.1,158.6L497.2,156.4L493.4,155.2L491.4,152.8L492.8,152.3L494.2,151.8L496.7,152.0L499.3,152.2L499.0,150.1L500.7,149.4L502.3,148.7L504.9,148.2L507.4,147.7L510.2,147.4L512.9,147.1L514.9,146.8L516.8,146.5L517.8,145.4L518.7,144.3L522.7,145.1L526.8,146.5L529.5,146.5L532.1,146.5L534.6,146.9L537.0,147.3L539.6,149.3L540.3,151.8L542.8,152.6L545.2,152.6L547.6,152.6L550.7,153.1L553.7,153.7L557.1,153.8L560.4,153.9L562.2,153.4L563.9,152.8L566.6,153.4L569.3,153.9L572.8,156.0L578.8,158.2L579.6,156.9L583.5,157.3L585.3,157.1L587.0,156.9L588.1,156.1L589.1,155.4L590.3,154.5L593.9,154.7L596.8,155.1L599.7,155.4L602.9,155.4L606.2,156.2L609.5,157.1L614.7,158.4L616.6,158.3L618.5,158.2L620.7,158.3L622.9,158.4L625.8,159.0L628.7,159.7L632.1,161.0L635.5,161.2L638.8,161.2L641.1,161.4L643.4,161.5L644.2,160.4L647.2,160.1L651.3,160.6L653.5,160.7L655.8,160.8L658.4,161.1L661.1,161.5L664.2,162.1L667.4,162.8L673.9,167.1L680.4,171.4L679.7,172.8L677.3,172.4L677.8,174.0L681.9,175.7L686.2,176.8L688.2,178.0L683.9,177.5L682.6,178.4L681.2,179.2L679.7,180.2L678.8,182.3L676.0,182.3L673.8,183.5L671.6,184.0L669.1,183.8L668.3,185.5L670.7,188.9L672.5,189.6L674.1,192.8L677.7,193.8L676.9,195.8L676.7,198.0L677.7,200.6L676.8,202.1L676.7,205.9L671.8,202.1L666.3,197.0L661.5,192.6L660.2,189.1L661.7,187.9L661.3,184.7L662.0,182.6L662.0,179.9L660.0,177.5L658.7,178.7L656.2,179.7L654.1,179.4L652.1,179.7L650.1,179.9L651.4,184.2L649.2,185.7L645.8,185.9L640.7,184.7L638.6,185.0L636.5,185.2L632.5,185.0L630.9,185.5L629.2,185.9L628.0,187.9L627.5,191.3L627.6,194.5L627.8,197.0L631.9,198.3L633.4,197.8L635.9,197.8L641.1,200.3L643.3,203.3L645.2,207.1L648.7,212.2L647.8,216.1L647.2,221.3L646.5,225.7L643.5,227.0L640.6,226.5L639.4,228.3L639.2,231.7L638.4,233.0L637.9,234.8L636.7,235.9L639.5,238.0L643.9,242.2L645.4,245.3L645.4,247.2L643.0,248.2L640.7,249.0L639.3,246.9L638.7,243.5L637.4,241.7L635.9,240.3L634.2,240.3L632.4,238.0L632.3,235.6L629.4,234.6L626.6,235.4L624.6,237.2L623.8,234.6L622.0,232.2L620.8,232.0L618.9,234.6L616.5,236.4L616.8,238.5L620.3,240.9L621.6,241.9L623.4,240.6L626.1,240.9L628.9,242.2L626.1,243.2L624.6,244.8L623.9,247.5L627.2,249.6L629.9,253.8L633.3,256.2L633.8,258.3L635.1,260.9L635.1,264.6L633.8,267.2L632.7,270.7L631.7,273.0L630.3,274.9L628.1,277.5L625.8,279.6L622.4,280.9L620.8,281.2L618.8,282.3L616.6,283.1L614.3,284.4L613.9,286.0L613.0,283.3L609.7,282.8L607.7,284.4L606.0,286.2L604.6,289.1L604.7,291.0L606.9,293.6L608.8,296.0L611.6,297.8L613.3,300.2L614.7,304.2L614.9,308.1L614.6,310.0L611.8,312.1L609.5,312.6L609.0,314.7L606.4,317.1L605.3,315.2L605.1,312.9L603.9,312.1L602.0,311.8L600.7,310.0L599.6,307.6L597.6,306.3L595.5,306.5L595.3,304.2L593.5,304.4L593.6,307.6L592.7,311.0L592.3,314.7L594.2,316.0L595.4,320.5L596.9,321.6L599.5,323.4L601.7,325.0L602.7,327.1L602.9,330.5L603.9,333.2L604.9,336.1L603.3,336.3L600.9,334.5L598.1,332.4L596.3,329.5L595.7,326.6L595.1,322.9L593.9,321.6L592.6,318.9L590.4,318.1L590.2,314.7L590.7,311.5L590.6,308.1L589.9,305.5L588.1,301.5L587.0,297.6L586.0,295.7L584.3,296.2L582.2,298.1L580.2,297.3L578.9,293.6L578.0,290.4L576.3,288.3L573.6,285.7L572.4,283.6L571.3,280.9L569.4,279.9L568.5,281.7L566.9,282.0L565.2,282.5L563.4,282.8L560.7,283.1L560.0,286.5L557.1,288.6L554.9,291.5L551.4,294.9L548.8,298.1L547.1,299.7L547.5,304.2L547.2,309.4L547.2,312.6L545.5,315.2L543.7,316.3L542.1,318.4L539.9,316.3L538.8,313.1L537.7,310.0L535.4,306.0L533.9,301.5L531.4,297.6L529.5,292.3L529.0,289.1L528.0,284.4L527.5,282.3L527.3,284.4L524.9,284.9L522.0,283.8L519.4,280.9L522.6,279.4L520.4,279.6L517.9,277.8L515.5,277.0L514.1,274.4L512.8,272.8L509.4,273.0L506.0,273.3L502.7,273.6L501.5,273.3L496.9,272.8L494.6,272.2L491.8,271.7L490.8,268.8L489.1,268.3L487.4,269.1L485.2,269.6L482.9,268.8L480.4,267.2L478.0,266.2L476.2,263.5L474.5,261.2L472.9,260.6L471.4,259.8L469.5,260.6L469.7,262.5L471.5,265.9L473.8,268.3L475.6,270.7L476.9,273.8L477.9,274.9L478.2,271.5L479.1,273.3L479.3,275.7L481.4,275.9L483.7,276.2L485.9,275.7L487.9,273.0L489.0,270.7L489.7,273.3L491.0,275.1L493.5,277.0L495.8,277.8L498.4,280.4L497.9,283.1L496.4,285.7L494.8,286.2L494.4,289.7L492.4,292.3L489.7,293.6L487.5,294.9L484.1,296.0L482.4,298.1L478.6,299.7L475.2,301.5L473.0,302.8L469.6,304.4L466.2,306.0L463.9,306.5L462.8,306.3L462.0,304.7L460.9,301.5L460.3,298.9L460.7,296.2L459.8,293.6L457.4,291.0L455.6,287.5L452.6,284.4L451.2,280.7L449.7,277.3L447.5,275.7L445.9,272.5L444.7,270.7L442.1,267.0L440.9,265.9L440.4,262.2L440.3,262.0L438.3,257.2L438.9,256.4L439.6,254.3L439.8,252.5L440.5,250.4L441.1,248.5L440.6,245.9L440.9,244.8L441.1,243.2L439.6,243.2L437.6,242.7L435.6,244.3L433.2,244.6L430.8,243.0L428.9,243.0L427.1,244.3L424.3,242.7L422.0,242.2L421.2,240.1L419.3,238.8L420.2,236.9L418.6,235.6L419.2,234.0L421.1,233.0L424.1,231.7L425.1,231.2L428.3,231.4L431.3,229.6L434.4,229.1L436.9,229.1L438.8,230.1L442.2,231.4L445.5,231.7L448.7,231.7L450.6,230.4L450.3,227.8L446.5,225.4L442.9,223.1L440.6,221.8L438.7,220.8L440.2,220.0L441.4,218.4L443.0,215.8L440.9,215.8L438.6,216.9L435.7,217.9L434.9,219.5L438.2,220.2L436.3,221.3L434.3,222.1L432.3,222.6L429.9,220.2L431.9,218.9L428.5,218.2L426.3,217.1L424.9,218.9L424.1,220.8L422.4,221.8L422.3,224.4L421.3,226.5L421.4,229.1L422.9,230.4L424.0,231.2L422.0,231.7L419.9,232.0L418.2,232.7L417.8,232.2L415.6,232.0L413.5,232.2L413.0,233.5L411.0,233.0L410.7,234.3L412.4,236.4L410.9,237.2L414.1,239.0L412.0,239.8L412.6,241.1L411.9,243.5L411.0,243.5L409.5,242.7L407.9,240.1L408.9,238.8L407.5,237.7L406.8,236.1L405.2,235.1L403.7,233.3L403.7,230.4L403.0,229.1L401.4,227.8L399.1,226.5L395.9,225.2L394.0,223.3L392.4,221.0L390.7,220.0L390.2,219.2L388.2,220.0L387.9,221.5L388.4,223.9L390.6,225.2L392.2,227.8L394.5,229.3L396.2,230.4L399.2,232.2L401.9,234.0L401.3,234.8L398.8,233.3L397.6,235.1L399.1,236.9L397.8,238.2L396.9,239.8L396.1,238.8L397.1,236.9L395.6,234.0L393.8,232.5L391.8,231.2L389.4,230.6L387.2,228.8L385.4,227.3L384.3,225.4L383.6,223.9L381.4,223.1L379.4,224.1L377.9,224.4L376.3,226.0L373.8,226.0L371.6,225.2L369.5,225.7L368.5,227.8L369.0,229.3L366.9,230.9L364.3,231.7L363.2,232.7L362.2,234.6L361.5,235.6L362.6,237.5L361.1,238.8L360.4,240.6L358.2,242.2L356.7,243.0L352.6,243.0L351.2,243.5ZM57.0,162.8L58.3,163.0L59.1,164.1L60.1,164.9L61.0,165.7L60.8,167.1L62.3,167.3L63.9,167.5L65.1,168.9L64.7,169.6L62.3,170.3L59.4,170.5L55.4,172.4L52.3,173.1L50.9,172.1L50.8,171.0L48.5,170.7L43.9,171.4L50.4,167.1ZM350.6,208.1L353.7,207.4L356.1,206.6L359.1,206.6L362.8,206.4L365.0,205.4L364.0,204.1L365.5,202.1L365.3,201.1L363.0,201.1L362.6,199.5L361.6,198.3L360.0,196.8L359.1,194.3L357.3,193.3L357.2,192.6L358.7,189.6L358.4,189.1L356.1,189.1L354.6,188.6L356.3,186.9L353.7,186.9L352.7,186.9L351.7,189.4L351.0,191.6L351.6,193.3L352.5,194.5L352.6,196.3L355.3,196.0L355.9,197.5L356.3,199.3L356.0,200.1L353.3,200.1L353.2,201.3L354.0,202.6L351.8,203.8L354.2,204.3L355.6,204.8L353.7,205.4L352.1,206.1ZM350.2,202.8L349.7,199.8L350.4,198.3L351.4,197.0L350.5,195.3L348.0,195.0L346.0,195.5L345.5,197.3L342.8,198.0L342.9,199.5L343.8,200.6L342.4,203.1L341.6,203.8L343.0,204.6L345.2,204.3L347.6,203.1ZM321.9,174.0L319.6,172.1L322.5,171.0L319.4,170.3L321.7,168.7L323.8,168.4L326.8,169.1L329.8,168.9L333.4,168.2L336.2,168.7L336.7,170.3L338.1,171.4L335.8,173.1L332.6,174.5L330.5,174.9L328.3,175.4L325.4,174.7ZM378.5,142.8L381.0,140.3L383.6,140.2L386.1,140.1L388.8,139.4L391.3,139.4L393.8,139.4L396.3,139.6L398.8,139.8L401.2,140.0L398.8,141.3L396.4,141.9L394.0,142.6L392.9,143.7L391.0,145.2L389.0,146.7L385.7,145.7L383.3,144.5L381.6,143.4ZM389.0,239.6L391.4,239.0L393.7,238.9L395.9,238.8L395.0,240.9L395.1,243.0L393.3,242.2L389.5,240.6ZM380.1,231.4L381.8,231.2L383.1,233.0L382.9,236.7L380.5,237.2L380.2,234.3ZM380.3,226.7L382.0,226.5L382.3,229.1L381.8,230.6L380.4,229.3ZM413.6,245.9L415.9,246.4L419.8,246.7L418.2,247.5L414.8,246.9ZM433.1,247.2L434.8,248.5L436.8,247.5L437.9,245.6L435.6,246.7L433.5,246.9ZM383.5,194.8L386.5,194.3L385.7,193.1L384.0,193.3L383.2,194.1ZM381.1,194.5L383.1,194.3L382.8,195.8L381.6,195.5ZM411.8,237.2L414.0,238.0L415.3,239.6L413.2,238.5ZM422.7,244.3L423.7,243.8L423.2,245.1ZM403.4,187.7L405.1,186.9L406.2,187.4L404.2,188.4ZM447.8,157.5L447.2,153.2L448.4,149.7L450.2,148.8L451.9,147.9L453.9,147.4L455.9,146.9L458.1,146.5L460.4,146.1L462.6,145.7L465.0,145.8L467.3,145.9L466.4,146.7L463.9,147.4L461.4,148.1L458.8,148.9L456.3,149.7L454.6,150.7L452.8,151.8L451.9,154.3L453.3,156.9L457.6,158.8L455.6,159.0L453.7,159.3L450.1,158.8ZM426.9,139.3L429.4,138.7L431.5,138.7L433.7,138.8L435.9,138.8L433.6,139.6L431.3,139.5L429.1,139.4ZM499.9,139.6L501.4,138.8L502.9,138.1L507.0,139.3L511.3,140.5L515.5,141.5L515.0,142.4L514.4,143.4L512.3,143.2L510.2,143.0L506.9,142.4L503.6,141.8ZM573.9,148.7L575.4,147.7L577.6,147.6L579.7,147.5L583.8,148.1L587.9,148.7L590.8,148.9L593.8,149.1L596.7,149.3L595.3,150.3L593.6,150.9L591.9,151.6L590.2,152.2L587.9,152.8L584.2,151.9L580.4,150.9ZM66.0,157.3L67.5,156.9L69.7,157.5L67.4,158.4L64.1,158.4ZM657.1,157.7L658.3,157.3L660.2,158.4L658.9,158.4ZM656.8,218.7L659.0,217.4L656.0,213.8L652.6,211.0L655.3,210.5L650.9,207.1L647.9,203.8L645.3,200.8L641.4,197.5L640.8,197.8L643.3,200.8L645.6,204.6L650.1,209.2L652.9,213.5L655.5,217.1ZM547.5,313.9L548.4,314.7L550.2,317.1L551.2,318.7L552.5,321.3L551.9,323.1L549.6,324.2L548.1,323.1L547.6,320.0L547.4,316.6ZM611.2,289.1L613.5,291.8L615.6,290.7L616.3,287.8L614.7,286.7L612.3,287.0ZM638.8,291.0L641.9,291.5L643.2,294.9L642.3,298.1L643.1,302.0L645.0,302.3L648.1,303.4L649.2,306.5L647.2,305.5L645.2,304.2L643.5,303.4L640.6,302.3L640.4,300.7L638.9,300.2L638.0,296.8L639.2,296.0L638.8,293.3ZM645.7,321.3L649.0,319.2L650.1,318.1L653.3,314.2L655.9,318.7L655.5,322.6L654.0,324.7L653.2,323.4L650.9,323.4L649.8,320.5L647.4,320.0ZM650.2,306.8L653.4,310.7L652.0,313.1L650.0,309.7ZM644.6,308.4L647.1,310.7L644.9,312.1L644.5,310.2ZM646.0,311.3L648.4,312.1L649.5,311.3L648.1,315.8L647.0,314.7ZM634.1,317.9L636.4,314.7L638.5,312.1L639.1,309.7L640.0,311.0L638.2,313.9L635.9,317.1L634.8,318.4ZM640.6,304.2L643.0,304.9L642.6,307.3L640.6,306.3ZM649.2,313.1L650.9,313.4L650.5,314.4ZM616.1,335.3L617.4,334.5L619.6,335.5L621.1,333.4L623.0,331.8L625.3,331.3L627.4,327.6L629.7,326.6L630.8,325.5L632.1,323.9L633.6,321.3L635.3,322.4L635.8,323.9L637.7,324.5L639.6,325.5L637.9,327.9L636.6,328.9L636.7,331.7L636.8,334.5L639.1,337.1L636.6,337.7L635.9,341.1L633.8,343.7L633.5,346.4L632.4,349.0L628.9,349.8L626.4,348.5L622.9,349.0L621.3,347.7L618.8,347.4L618.6,344.2L617.2,342.4L616.1,339.2ZM583.8,325.0L586.4,325.5L589.0,326.0L591.4,329.2L595.8,333.7L598.6,335.3L602.1,338.4L604.0,342.4L605.6,344.8L606.7,346.4L609.0,348.5L608.5,352.9L608.0,355.1L605.4,355.3L603.6,352.9L600.3,350.3L597.4,346.4L595.8,342.4L593.5,338.4L591.8,335.0L588.5,331.8L586.0,328.4ZM606.7,357.7L608.6,355.6L612.1,356.1L614.6,357.4L619.0,358.0L621.3,357.2L624.1,358.0L627.9,360.1L627.7,362.7L624.5,361.6L619.9,361.4L615.3,360.3L611.9,359.5L609.4,359.3L607.3,358.0ZM628.3,361.1L630.8,361.9L630.0,363.0L628.0,362.2ZM631.5,361.9L633.1,361.6L632.8,363.2L631.4,363.2ZM633.3,362.2L635.9,361.8L638.5,361.4L638.4,363.0L633.7,363.5ZM640.3,362.2L644.0,361.9L647.8,361.6L647.2,363.0L643.9,363.1L640.7,363.2ZM638.2,364.8L642.3,365.9L640.4,366.9L637.9,365.6ZM648.3,366.7L649.8,364.6L652.0,363.5L653.5,362.4L655.9,361.9L657.7,361.8L657.0,362.8L654.6,363.8L652.6,364.8L650.6,366.1L648.7,367.2ZM639.2,349.0L638.8,346.6L640.3,342.4L641.3,339.2L642.2,337.7L644.0,336.3L647.5,337.1L651.0,337.4L653.8,335.8L652.2,338.4L648.7,338.4L644.0,338.4L642.2,339.2L642.9,342.1L645.7,342.1L649.6,342.1L647.5,343.7L645.2,344.8L646.2,347.7L647.2,351.6L648.2,354.3L646.0,352.9L644.5,350.8L643.7,348.2L642.5,347.4L642.4,350.8L642.2,354.3L640.1,354.3L640.0,351.6ZM659.1,335.0L660.8,334.5L661.7,337.1L660.4,338.4L661.8,341.1L659.9,341.6L659.0,339.8L660.3,337.1ZM660.2,347.7L663.1,347.7L666.0,347.7L666.9,349.8L664.1,349.5L661.3,349.3ZM655.5,347.9L658.3,348.2L657.8,349.8L655.7,349.5ZM667.3,342.9L669.7,340.8L673.2,341.6L674.5,342.7L674.7,346.1L676.5,348.5L677.6,348.5L680.1,345.8L682.4,343.7L684.8,344.2L687.1,345.6L690.5,346.6L693.9,348.2L697.4,349.8L699.6,351.6L701.3,353.5L703.4,356.9L705.7,357.4L704.8,360.3L706.3,361.6L707.9,363.8L709.9,366.9L711.7,367.7L709.4,367.2L705.3,366.4L703.7,364.6L701.7,361.4L697.8,359.8L695.4,361.6L694.0,363.5L689.4,363.8L687.3,361.1L685.0,361.1L683.0,361.9L682.3,359.5L684.1,356.9L682.7,353.7L678.6,351.9L675.7,350.3L673.2,349.8L671.2,350.6L669.5,347.1L671.9,346.1L669.6,345.6L668.0,343.7ZM707.1,354.3L709.9,354.3L712.2,354.0L714.6,352.7L716.4,350.8L716.7,352.9L714.5,354.5L710.9,356.4L708.1,355.8ZM713.3,346.6L716.1,348.5L718.6,351.9L717.7,352.4L715.1,349.8L712.8,347.4ZM721.8,352.9L724.6,356.9L723.3,358.0L721.7,354.3ZM769.6,385.9L772.5,386.2L771.7,387.8L769.2,387.5ZM773.0,383.3L776.4,382.5L774.6,384.1L773.0,384.1ZM620.9,397.8L622.2,397.3L623.3,397.3L625.9,395.7L628.9,394.1L632.0,393.3L634.5,392.5L636.8,392.0L639.3,390.9L641.6,388.6L643.2,385.9L644.5,383.5L646.2,384.6L647.2,382.5L648.9,380.6L650.6,378.3L652.4,377.2L654.3,376.4L656.5,377.2L657.9,379.1L659.7,379.1L661.3,377.5L663.1,374.6L664.8,372.5L667.6,371.7L669.2,370.4L671.2,371.1L673.5,371.4L676.4,371.9L678.7,371.9L677.7,374.6L676.2,375.4L674.8,378.8L676.9,381.4L679.3,383.3L681.7,385.4L683.8,386.4L686.1,385.1L687.8,382.0L689.0,378.0L689.3,374.0L690.4,371.4L692.4,368.0L693.2,371.1L693.8,373.5L693.7,376.9L695.7,377.5L697.2,379.8L696.8,383.0L697.7,385.9L697.5,389.1L700.0,391.2L702.5,393.3L703.3,396.5L704.6,398.8L705.3,400.4L706.3,403.1L707.8,405.7L708.6,408.3L708.1,411.2L707.5,414.1L706.0,417.6L703.7,421.0L701.4,424.2L697.5,427.3L695.3,430.0L692.7,432.9L689.5,436.0L687.8,438.6L683.9,439.4L680.8,440.7L677.8,442.6L676.8,441.3L676.3,440.0L674.3,440.7L671.1,441.8L668.7,440.7L666.9,439.7L666.2,437.6L667.2,435.2L666.5,433.6L666.6,431.5L666.4,430.0L664.4,432.3L662.2,432.9L664.7,430.5L666.6,427.1L664.7,428.4L662.9,429.4L660.9,431.5L659.9,430.7L659.9,427.3L659.1,426.0L657.5,424.4L654.8,422.8L651.4,423.1L647.8,423.6L644.0,424.9L640.4,425.7L637.3,426.8L634.8,429.2L631.6,429.4L628.0,429.2L625.2,430.5L621.7,432.1L619.6,432.1L617.1,431.5L615.7,430.2L616.2,428.1L618.0,427.6L619.2,424.2L619.2,421.5L619.4,418.9L619.9,416.2L619.2,413.1L618.5,409.6L618.9,407.0L620.4,404.4L620.0,401.7L621.4,399.1ZM671.5,447.0L673.8,448.1L676.3,447.6L679.1,447.6L677.2,450.4L674.8,453.0L671.8,454.3L669.6,454.6L670.1,451.2L670.9,448.4ZM742.4,430.5L743.2,432.1L744.1,434.2L743.4,436.8L745.7,436.5L744.8,438.9L746.3,440.0L749.6,439.2L747.6,441.5L745.6,443.1L742.9,444.2L741.4,445.7L737.5,448.6L735.2,449.4L734.7,448.6L737.1,446.5L737.4,444.7L736.6,443.4L739.4,441.5L741.9,438.4L742.5,436.0L742.2,433.4ZM731.8,446.5L733.6,447.6L733.3,449.4L729.1,452.5L725.8,454.6L721.3,456.4L719.2,458.2L716.4,460.6L712.8,462.4L710.1,462.4L707.7,461.4L708.7,459.5L712.9,457.0L716.1,455.4L721.7,453.0L726.5,449.9L730.0,447.6ZM708.0,462.9L709.3,463.2L708.2,463.9ZM674.4,319.7L675.1,319.7L674.8,320.5ZM682.5,314.4L682.8,314.8L682.3,314.8ZM729.6,321.4L730.2,321.6L729.9,322.0ZM741.3,325.7L741.6,325.9L741.2,325.9ZM760.0,320.9L760.5,321.0L760.2,321.3ZM765.1,335.9L765.4,336.2L765.0,336.2ZM778.2,362.2L778.4,362.4L778.0,362.4ZM-36.4,375.4L-34.0,376.2L-35.5,376.4ZM-38.2,395.4L-37.7,395.5L-37.8,395.9ZM491.1,351.8L491.5,351.9L491.3,352.3ZM533.1,328.7L533.3,328.8L533.2,329.3ZM464.4,371.8L465.1,371.9L464.8,372.3Z" fill="none" stroke="#3d3d3d" stroke-width="0.45"/>
<path d="M660.4,230.4L662.5,229.6L661.3,227.8L666.4,229.1L667.4,226.5L669.0,225.7L666.8,223.3L664.3,223.3L657.7,220.0L657.3,220.5L659.4,223.3L660.2,225.7L658.3,225.7L658.6,227.8ZM663.5,230.6L666.0,234.3L667.8,235.6L668.5,238.8L668.5,240.9L669.7,244.0L670.0,245.6L669.6,247.5L667.6,246.9L667.3,248.5L664.6,248.5L663.7,249.3L663.7,251.4L662.2,251.4L659.8,249.6L659.9,248.2L657.4,248.5L655.1,249.3L653.3,250.4L651.0,250.1L650.3,249.0L652.0,248.2L652.9,246.4L654.7,246.1L656.8,245.9L659.0,245.9L659.6,244.8L660.0,242.5L661.4,242.7L660.2,241.7L660.5,240.9L662.7,240.1L663.6,238.2L663.5,235.6L662.0,233.0L661.5,231.2ZM655.4,252.7L656.9,253.5L658.4,251.9L659.4,250.6L657.7,249.3L656.2,249.3L654.9,250.4ZM648.6,251.7L649.8,250.4L651.1,250.4L653.5,252.2L654.8,256.7L653.5,258.0L652.1,257.2L651.3,255.1L649.8,253.5ZM725.9,357.2L728.1,359.0L727.6,359.5L725.7,357.7ZM729.7,359.8L733.2,361.9L732.7,362.4L729.4,360.3ZM732.5,364.3L735.1,365.6L733.9,366.1L732.6,365.1ZM735.5,361.9L736.8,364.8L736.3,365.1L735.2,362.4ZM736.1,366.7L738.3,368.0L738.0,368.5L736.1,367.2ZM746.3,378.5L747.5,380.9L746.7,381.2L746.1,379.8ZM748.6,382.0L749.6,383.0L748.8,383.5ZM748.7,385.9L749.5,386.2L748.9,387.0ZM750.0,389.1L750.5,389.9L749.9,390.4Z" fill="#c2a5cf" stroke="#3d3d3d" stroke-width="0.45"/>
<path d="M281.1,184.0L278.6,183.0L275.4,181.6L273.3,179.7L272.0,176.8L271.8,174.0L270.8,172.1L269.8,170.3L269.0,168.2L269.5,165.9L271.0,163.7L275.2,161.9L272.3,161.0L271.7,158.8L273.8,158.7L276.0,158.6L274.3,157.8L272.6,157.1L272.1,154.9L271.8,152.6L271.6,150.3L270.4,148.5L268.4,148.1L266.3,147.7L263.3,147.6L260.3,147.5L258.5,147.4L256.6,147.3L255.4,146.5L254.1,145.7L252.7,143.9L256.1,142.6L258.9,142.0L261.6,141.5L264.9,140.7L268.1,140.0L272.2,138.6L274.9,137.9L277.6,137.3L280.8,136.8L284.0,136.3L286.4,136.2L288.8,136.1L291.2,136.0L293.6,135.9L296.0,135.8L298.4,135.7L301.3,135.4L304.3,135.0L307.2,134.7L310.1,134.6L312.9,134.4L315.7,134.3L318.5,134.2L321.2,134.2L324.0,134.1L326.2,134.3L328.4,134.4L330.6,134.6L333.1,135.5L330.2,135.8L327.3,136.1L330.0,136.4L332.7,136.8L335.0,136.8L337.4,136.8L339.7,136.8L342.1,137.0L344.5,137.3L342.6,137.9L340.7,138.6L338.8,139.2L336.9,139.8L333.6,141.1L333.4,143.2L334.1,145.1L331.7,146.9L332.8,149.1L329.8,150.5L327.8,152.6L325.7,154.7L326.0,157.1L324.7,159.5L322.0,160.4L318.0,163.0L315.3,163.8L312.5,164.6L309.9,164.7L307.3,164.8L303.0,168.0L300.6,168.9L298.1,169.8L295.9,170.3L293.8,170.7L290.5,173.3L288.7,175.7L285.1,178.7L283.0,181.4ZM168.6,282.0L169.9,280.2L172.8,279.4L175.6,278.6L178.3,278.8L181.1,280.2L183.8,280.7L186.2,282.8L188.6,284.1L190.8,285.2L192.4,286.5L190.5,287.3L187.5,287.3L184.3,287.3L185.9,285.4L183.7,284.9L182.4,282.8L179.3,281.7L176.4,281.2L174.2,280.4L171.8,281.2L169.9,282.0ZM636.4,273.8L638.5,273.8L638.4,277.8L637.8,281.7L635.9,280.2L635.2,277.8L635.8,275.1ZM737.3,393.0L740.0,395.9L742.7,398.6L742.1,399.1L739.3,397.0L737.3,394.1ZM501.9,468.8L503.9,468.3L505.5,469.1L503.7,470.1L502.0,470.3Z" fill="url(#hatch)" stroke="#c8c8c8" stroke-width="0.45"/>
<path d="M460.4,221.8L461.0,219.7L463.5,217.4L467.3,216.1L471.6,216.6L473.0,220.5L469.6,222.6L469.8,226.0L473.8,227.8L474.6,230.4L477.2,232.2L476.2,235.4L479.0,239.6L479.4,241.4L477.2,242.2L475.1,243.0L471.6,241.9L468.5,240.3L468.0,238.5L468.1,234.8L468.3,232.7L465.5,229.6L462.6,226.7L462.6,224.9Z" fill="#fff" stroke="#3d3d3d" stroke-width="0.45"/>
</g>
</svg>
<svg width="850" height="600" viewBox="0 0 850 600" style="position:absolute;left:0;top:0">
<defs><pattern id="hatch2" patternUnits="userSpaceOnUse" width="3.8" height="3.8" patternTransform="rotate(45)">
<rect width="3.8" height="3.8" fill="#fff"/><rect x="0" y="0" width="1.8" height="3.8" fill="#e3e3e3"/></pattern></defs>
<g fill="#333" stroke="#333" stroke-width="1.05" font-weight="normal" font-size="25.3" style="font-family:"Liberation Serif", "Times New Roman", serif">
<text class="ser" x="15.8" y="37.3" textLength="563.5" lengthAdjust="spacingAndGlyphs">Criminal sanctions or compensation for workplace sexual</text>
<text class="ser" x="15.8" y="62.5" textLength="171" lengthAdjust="spacingAndGlyphs">harassment, 2023</text>
</g>
<g fill="#5b5b5b" font-size="14.75">
<text x="16.3" y="87.9" textLength="764" lengthAdjust="spacingAndGlyphs">The law punishes sexual harassment at work with fines or prison, requires offenders to compensate victims, or allows</text>
<text x="16.3" y="105.6" textLength="364" lengthAdjust="spacingAndGlyphs">victims to seek civil remedies even after losing their job.</text>
</g>
<rect x="769" y="16" width="65" height="36" fill="#002147"/>
<rect x="769" y="49" width="65" height="3" fill="#ce261e"/>
<g fill="#fff" font-weight="bold" font-size="11.2" text-anchor="middle">
<text x="801.5" y="30.6">Our World</text>
<text x="801.5" y="42.9">in Data</text>
</g>
<rect x="332.5" y="538.5" width="48" height="10" fill="url(#hatch2)" stroke="#ccc" stroke-width="1"/>
<rect x="400" y="538.2" width="58.3" height="10.1" fill="#c2a5cf"/>
<rect x="458.3" y="538.2" width="59" height="10.1" fill="#a6dba0"/>
<rect x="400.3" y="538.5" width="116.7" height="9.6" fill="none" stroke="#aaa" stroke-width="0.6"/>
<line x1="458.3" y1="538.2" x2="458.3" y2="548.3" stroke="#888" stroke-width="0.8"/>
<g stroke="#999" stroke-width="0.8"><line x1="356.5" y1="535" x2="356.5" y2="538.2"/><line x1="429.4" y1="535" x2="429.4" y2="538.2"/><line x1="487.8" y1="535" x2="487.8" y2="538.2"/></g>
<g fill="#1a1a1a" font-size="13.5" text-anchor="middle">
<text x="356.5" y="531.5">No data</text>
<text x="429.9" y="531.5">No</text>
<text x="486.8" y="531.5">Yes</text>
</g>
<g fill="#858585" font-size="12.6">
<text x="16.6" y="580.5"><tspan font-weight="bold">Data source:</tspan> Women, Business and the Law; World Bank</text>
<text x="831.5" y="580.5" text-anchor="end">women-rights | CC BY</text>
</g>
</svg>
</body></html>
